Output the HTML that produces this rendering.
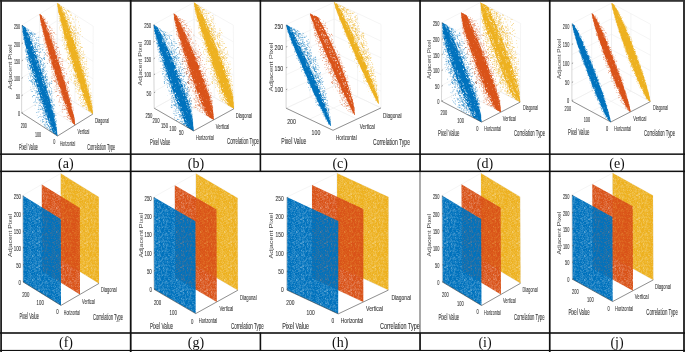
<!DOCTYPE html>
<html><head><meta charset="utf-8"><title>Correlation scatter plots</title>
<style>html,body{margin:0;padding:0;background:#fff;width:685px;height:352px;overflow:hidden}svg{display:block}.t{fill:#333;stroke:#333;stroke-width:0.1px}.t2{fill:#444}.tg{will-change:transform}</style>
</head><body>
<svg width="685" height="352" viewBox="0 0 685 352" font-family="Liberation Sans, sans-serif">
<defs><pattern id="ptX" width="24" height="24" patternUnits="userSpaceOnUse"><path d="M22.9 4.6h.8v.8h-.8zM5.0 8.0h.8v.8h-.8zM19.9 6.7h.8v.8h-.8zM3.6 11.0h.8v.8h-.8zM12.3 16.2h.8v.8h-.8zM3.3 16.4h.8v.8h-.8zM16.5 12.6h.8v.8h-.8zM20.2 11.1h.8v.8h-.8zM10.2 12.2h.8v.8h-.8zM23.0 7.8h.8v.8h-.8zM19.8 4.1h.8v.8h-.8zM8.1 7.2h.8v.8h-.8zM13.8 15.6h.8v.8h-.8zM18.1 1.6h.8v.8h-.8zM19.9 15.2h.8v.8h-.8zM22.4 6.7h.8v.8h-.8zM3.5 4.5h.8v.8h-.8zM17.9 11.7h.8v.8h-.8zM3.3 8.5h.8v.8h-.8zM21.8 2.3h.8v.8h-.8zM5.4 17.0h.8v.8h-.8zM20.5 19.0h.8v.8h-.8zM7.4 1.1h.8v.8h-.8zM23.3 15.0h.8v.8h-.8zM12.4 6.0h.8v.8h-.8zM7.7 10.3h.8v.8h-.8zM6.8 19.0h.8v.8h-.8zM14.5 12.8h.8v.8h-.8zM8.0 0.3h.8v.8h-.8zM16.3 0.5h.8v.8h-.8zM3.7 9.4h.8v.8h-.8zM6.0 21.5h.8v.8h-.8zM20.9 5.6h.8v.8h-.8zM14.4 10.7h.8v.8h-.8zM6.3 3.5h.8v.8h-.8zM3.6 19.4h.8v.8h-.8zM3.3 9.2h.8v.8h-.8zM6.0 8.6h.8v.8h-.8zM9.2 6.2h.8v.8h-.8zM15.6 20.1h.8v.8h-.8zM20.1 10.5h.8v.8h-.8zM18.6 1.2h.8v.8h-.8zM8.1 19.3h.8v.8h-.8zM3.6 6.1h.8v.8h-.8zM11.0 4.4h.8v.8h-.8zM10.5 5.6h.8v.8h-.8zM13.8 13.0h.8v.8h-.8zM9.0 23.1h.8v.8h-.8zM15.2 6.8h.8v.8h-.8zM2.8 11.0h.8v.8h-.8zM5.6 14.7h.8v.8h-.8zM18.4 23.4h.8v.8h-.8zM23.7 22.9h.8v.8h-.8zM19.4 9.6h.8v.8h-.8zM20.2 8.9h.8v.8h-.8zM19.1 10.3h.8v.8h-.8zM11.0 2.7h.8v.8h-.8zM17.7 19.9h.8v.8h-.8zM13.9 21.3h.8v.8h-.8zM10.8 9.0h.8v.8h-.8zM6.5 17.4h.8v.8h-.8zM20.8 17.8h.8v.8h-.8zM1.6 10.6h.8v.8h-.8zM19.6 20.5h.8v.8h-.8zM21.2 23.5h.8v.8h-.8zM10.2 23.0h.8v.8h-.8zM20.0 10.4h.8v.8h-.8zM8.2 4.4h.8v.8h-.8zM12.5 18.9h.8v.8h-.8zM13.2 22.7h.8v.8h-.8z" fill="#aaa"/></pattern><mask id="mX" maskUnits="userSpaceOnUse" x="0" y="0" width="685" height="352"><rect width="685" height="352" fill="url(#ptX)"/></mask><pattern id="ptH" width="24" height="24" patternUnits="userSpaceOnUse"><path d="M3.1 13.2h.8v.8h-.8zM12.0 0.7h.8v.8h-.8zM14.4 3.7h.8v.8h-.8zM0.7 19.2h.8v.8h-.8zM3.6 18.8h.8v.8h-.8zM22.3 15.3h.8v.8h-.8zM1.7 21.6h.8v.8h-.8zM3.1 18.1h.8v.8h-.8zM22.8 7.2h.8v.8h-.8zM14.9 15.5h.8v.8h-.8zM8.9 8.2h.8v.8h-.8zM12.3 18.0h.8v.8h-.8zM15.9 9.2h.8v.8h-.8zM6.6 3.7h.8v.8h-.8zM3.3 21.0h.8v.8h-.8zM18.9 16.6h.8v.8h-.8zM16.1 17.9h.8v.8h-.8zM12.3 13.4h.8v.8h-.8zM19.6 18.8h.8v.8h-.8zM13.2 10.7h.8v.8h-.8zM23.5 13.6h.8v.8h-.8zM4.9 1.5h.8v.8h-.8zM13.3 13.3h.8v.8h-.8zM11.6 19.6h.8v.8h-.8zM8.5 16.9h.8v.8h-.8zM14.2 19.3h.8v.8h-.8zM5.6 11.9h.8v.8h-.8zM19.3 21.2h.8v.8h-.8zM20.8 2.6h.8v.8h-.8zM3.1 21.0h.8v.8h-.8zM11.2 8.9h.8v.8h-.8zM6.7 2.2h.8v.8h-.8zM2.0 14.9h.8v.8h-.8zM21.5 10.9h.8v.8h-.8zM10.3 10.3h.8v.8h-.8zM3.5 20.4h.8v.8h-.8zM16.2 3.3h.8v.8h-.8zM4.9 14.8h.8v.8h-.8zM21.6 9.9h.8v.8h-.8zM5.2 12.7h.8v.8h-.8zM0.8 12.0h.8v.8h-.8zM4.8 3.2h.8v.8h-.8zM8.3 12.3h.8v.8h-.8zM11.3 20.7h.8v.8h-.8zM21.7 4.1h.8v.8h-.8zM16.7 0.3h.8v.8h-.8zM8.1 1.6h.8v.8h-.8zM0.4 11.0h.8v.8h-.8zM3.8 23.4h.8v.8h-.8zM23.9 1.1h.8v.8h-.8zM11.0 23.8h.8v.8h-.8zM16.6 12.9h.8v.8h-.8zM1.3 2.9h.8v.8h-.8zM0.8 10.0h.8v.8h-.8zM20.3 5.0h.8v.8h-.8zM14.1 17.1h.8v.8h-.8zM7.4 13.0h.8v.8h-.8zM7.6 6.9h.8v.8h-.8zM2.1 6.1h.8v.8h-.8zM4.1 20.8h.8v.8h-.8zM0.6 18.4h.8v.8h-.8zM20.1 10.5h.8v.8h-.8zM11.2 9.7h.8v.8h-.8zM3.1 17.7h.8v.8h-.8zM17.7 23.3h.8v.8h-.8zM4.7 1.9h.8v.8h-.8zM1.5 3.8h.8v.8h-.8zM14.4 8.7h.8v.8h-.8zM21.5 12.2h.8v.8h-.8zM0.6 1.7h.8v.8h-.8zM19.3 1.3h.8v.8h-.8zM4.6 5.3h.8v.8h-.8zM2.2 9.3h.8v.8h-.8zM0.4 17.7h.8v.8h-.8zM7.0 14.6h.8v.8h-.8zM17.5 0.7h.8v.8h-.8zM11.8 1.1h.8v.8h-.8zM20.5 10.8h.8v.8h-.8zM5.2 21.0h.8v.8h-.8zM7.6 22.0h.8v.8h-.8zM6.2 8.8h.8v.8h-.8zM23.5 21.3h.8v.8h-.8zM22.6 22.3h.8v.8h-.8zM8.2 9.8h.8v.8h-.8zM10.5 17.9h.8v.8h-.8zM7.5 8.8h.8v.8h-.8zM17.9 3.7h.8v.8h-.8zM1.0 13.8h.8v.8h-.8zM1.6 2.1h.8v.8h-.8zM9.7 15.9h.8v.8h-.8zM5.9 19.4h.8v.8h-.8zM20.3 22.0h.8v.8h-.8zM17.8 10.8h.8v.8h-.8zM13.1 2.8h.8v.8h-.8zM15.9 21.7h.8v.8h-.8zM16.6 20.9h.8v.8h-.8zM18.7 23.2h.8v.8h-.8zM22.3 14.3h.8v.8h-.8zM3.6 16.2h.8v.8h-.8zM15.0 9.0h.8v.8h-.8zM3.4 4.4h.8v.8h-.8zM10.6 7.0h.8v.8h-.8zM18.9 17.3h.8v.8h-.8zM21.5 7.8h.8v.8h-.8zM18.2 16.6h.8v.8h-.8zM0.8 12.1h.8v.8h-.8zM8.6 10.8h.8v.8h-.8zM3.9 23.2h.8v.8h-.8zM24.0 4.0h.8v.8h-.8zM3.5 11.7h.8v.8h-.8zM5.9 3.8h.8v.8h-.8zM8.6 22.5h.8v.8h-.8zM1.5 11.7h.8v.8h-.8zM20.9 8.0h.8v.8h-.8zM15.3 4.0h.8v.8h-.8zM3.8 14.3h.8v.8h-.8zM12.0 9.6h.8v.8h-.8zM1.9 3.1h.8v.8h-.8zM14.7 0.8h.8v.8h-.8zM5.6 9.4h.8v.8h-.8zM0.9 14.0h.8v.8h-.8zM2.8 12.5h.8v.8h-.8zM13.3 21.6h.8v.8h-.8zM15.3 21.9h.8v.8h-.8zM7.8 22.5h.8v.8h-.8zM15.4 19.2h.8v.8h-.8zM8.4 11.5h.8v.8h-.8zM3.1 12.6h.8v.8h-.8zM7.6 9.5h.8v.8h-.8zM9.5 9.6h.8v.8h-.8zM21.9 1.0h.8v.8h-.8zM2.8 19.2h.8v.8h-.8zM2.1 5.9h.8v.8h-.8zM13.5 0.7h.8v.8h-.8zM23.1 11.2h.8v.8h-.8zM21.8 17.2h.8v.8h-.8zM16.8 10.5h.8v.8h-.8zM1.6 8.7h.8v.8h-.8zM19.4 15.8h.8v.8h-.8zM16.4 3.9h.8v.8h-.8zM3.5 0.3h.8v.8h-.8zM11.2 14.2h.8v.8h-.8zM1.2 12.7h.8v.8h-.8zM19.2 20.8h.8v.8h-.8zM17.2 10.0h.8v.8h-.8zM19.3 18.9h.8v.8h-.8zM18.2 0.4h.8v.8h-.8zM6.4 0.7h.8v.8h-.8zM19.0 14.4h.8v.8h-.8zM6.0 5.4h.8v.8h-.8zM3.3 1.6h.8v.8h-.8zM9.4 3.1h.8v.8h-.8zM11.9 9.0h.8v.8h-.8zM6.9 8.1h.8v.8h-.8zM14.5 13.5h.8v.8h-.8zM14.5 21.3h.8v.8h-.8zM5.8 8.8h.8v.8h-.8zM14.9 4.4h.8v.8h-.8zM8.6 13.9h.8v.8h-.8zM17.6 0.1h.8v.8h-.8zM7.0 9.2h.8v.8h-.8zM19.2 7.6h.8v.8h-.8zM10.0 9.3h.8v.8h-.8zM13.3 1.2h.8v.8h-.8zM16.2 13.3h.8v.8h-.8zM12.4 15.0h.8v.8h-.8zM6.2 18.0h.8v.8h-.8zM23.5 23.0h.8v.8h-.8zM2.3 8.5h.8v.8h-.8zM7.8 15.8h.8v.8h-.8z" fill="#999"/></pattern><mask id="mH" maskUnits="userSpaceOnUse" x="0" y="0" width="685" height="352"><rect width="685" height="352" fill="url(#ptH)"/></mask><pattern id="ptM" width="24" height="24" patternUnits="userSpaceOnUse"><path d="M6.0 5.7h.8v.8h-.8zM22.7 23.6h.8v.8h-.8zM4.5 11.6h.8v.8h-.8zM4.3 9.9h.8v.8h-.8zM8.4 22.4h.8v.8h-.8zM5.5 17.3h.8v.8h-.8zM16.1 17.9h.8v.8h-.8zM2.8 19.3h.8v.8h-.8zM21.5 20.0h.8v.8h-.8zM20.6 16.4h.8v.8h-.8zM0.1 23.9h.8v.8h-.8zM13.0 19.0h.8v.8h-.8zM2.6 19.9h.8v.8h-.8zM6.2 19.9h.8v.8h-.8zM10.0 1.1h.8v.8h-.8zM10.9 23.8h.8v.8h-.8zM11.2 18.3h.8v.8h-.8zM22.3 2.0h.8v.8h-.8zM6.2 17.3h.8v.8h-.8zM4.5 17.0h.8v.8h-.8zM16.1 12.0h.8v.8h-.8zM22.7 7.3h.8v.8h-.8zM22.1 12.9h.8v.8h-.8zM21.1 3.9h.8v.8h-.8zM1.5 9.5h.8v.8h-.8zM22.5 15.0h.8v.8h-.8zM15.6 17.2h.8v.8h-.8zM20.9 13.0h.8v.8h-.8zM9.8 21.3h.8v.8h-.8zM5.3 21.4h.8v.8h-.8zM19.0 21.8h.8v.8h-.8zM15.9 14.2h.8v.8h-.8zM18.7 6.0h.8v.8h-.8zM4.8 1.1h.8v.8h-.8zM3.2 13.9h.8v.8h-.8zM18.3 12.4h.8v.8h-.8zM0.5 0.0h.8v.8h-.8zM22.7 3.4h.8v.8h-.8zM3.2 23.2h.8v.8h-.8zM14.4 18.0h.8v.8h-.8zM10.1 21.7h.8v.8h-.8zM7.8 7.8h.8v.8h-.8zM4.1 10.4h.8v.8h-.8zM18.7 14.0h.8v.8h-.8zM21.9 9.7h.8v.8h-.8zM17.5 0.8h.8v.8h-.8zM14.4 11.3h.8v.8h-.8zM17.1 16.0h.8v.8h-.8zM12.9 8.6h.8v.8h-.8zM13.4 22.2h.8v.8h-.8zM21.7 22.4h.8v.8h-.8zM6.8 0.7h.8v.8h-.8zM5.3 10.0h.8v.8h-.8zM22.7 14.5h.8v.8h-.8zM22.6 9.8h.8v.8h-.8zM11.4 23.5h.8v.8h-.8zM19.2 7.2h.8v.8h-.8zM17.8 21.5h.8v.8h-.8zM22.8 8.3h.8v.8h-.8zM2.0 21.3h.8v.8h-.8zM21.6 2.4h.8v.8h-.8zM12.0 20.4h.8v.8h-.8zM10.8 20.2h.8v.8h-.8zM16.5 13.5h.8v.8h-.8zM14.8 7.3h.8v.8h-.8zM10.5 9.4h.8v.8h-.8zM7.0 3.1h.8v.8h-.8zM22.0 6.7h.8v.8h-.8zM19.7 12.4h.8v.8h-.8zM2.5 12.5h.8v.8h-.8zM9.7 11.3h.8v.8h-.8zM18.3 20.9h.8v.8h-.8zM21.1 5.1h.8v.8h-.8zM23.1 18.8h.8v.8h-.8zM5.8 20.7h.8v.8h-.8zM21.4 8.5h.8v.8h-.8zM16.7 1.4h.8v.8h-.8zM1.6 19.7h.8v.8h-.8zM5.1 17.5h.8v.8h-.8zM4.5 11.6h.8v.8h-.8zM1.9 22.2h.8v.8h-.8zM16.5 6.2h.8v.8h-.8zM7.4 17.4h.8v.8h-.8zM16.6 15.6h.8v.8h-.8zM2.0 9.3h.8v.8h-.8zM20.9 18.7h.8v.8h-.8zM16.7 2.6h.8v.8h-.8zM18.8 7.4h.8v.8h-.8zM14.6 11.9h.8v.8h-.8zM11.0 23.2h.8v.8h-.8zM4.6 18.3h.8v.8h-.8zM22.6 1.3h.8v.8h-.8zM3.5 15.0h.8v.8h-.8zM12.5 3.3h.8v.8h-.8zM2.9 9.4h.8v.8h-.8zM2.6 23.1h.8v.8h-.8zM16.7 6.6h.8v.8h-.8zM21.3 2.5h.8v.8h-.8zM11.1 22.3h.8v.8h-.8zM19.1 5.1h.8v.8h-.8zM20.6 14.1h.8v.8h-.8zM12.9 6.3h.8v.8h-.8zM18.6 22.7h.8v.8h-.8zM7.0 18.0h.8v.8h-.8zM3.6 19.2h.8v.8h-.8zM4.5 2.4h.8v.8h-.8zM0.2 8.7h.8v.8h-.8zM1.7 20.5h.8v.8h-.8zM18.0 7.1h.8v.8h-.8zM21.7 2.6h.8v.8h-.8zM1.4 20.5h.8v.8h-.8zM17.3 6.5h.8v.8h-.8zM18.7 14.2h.8v.8h-.8zM16.3 4.6h.8v.8h-.8zM12.0 2.9h.8v.8h-.8zM11.7 11.8h.8v.8h-.8zM16.7 15.3h.8v.8h-.8zM5.9 18.5h.8v.8h-.8zM18.1 22.4h.8v.8h-.8zM4.6 12.5h.8v.8h-.8zM0.8 16.5h.8v.8h-.8zM22.4 7.5h.8v.8h-.8zM2.2 21.4h.8v.8h-.8zM4.7 8.3h.8v.8h-.8zM1.3 0.9h.8v.8h-.8zM0.2 5.1h.8v.8h-.8zM3.0 3.5h.8v.8h-.8zM22.1 15.4h.8v.8h-.8zM16.7 3.8h.8v.8h-.8zM9.7 10.9h.8v.8h-.8zM0.2 7.9h.8v.8h-.8zM19.9 19.1h.8v.8h-.8zM11.6 7.0h.8v.8h-.8zM20.5 5.7h.8v.8h-.8zM12.1 6.9h.8v.8h-.8zM1.9 4.6h.8v.8h-.8zM1.8 15.7h.8v.8h-.8zM19.0 12.5h.8v.8h-.8zM5.3 16.7h.8v.8h-.8zM3.6 2.8h.8v.8h-.8zM9.8 19.2h.8v.8h-.8zM6.3 13.0h.8v.8h-.8zM6.6 23.4h.8v.8h-.8zM19.0 23.7h.8v.8h-.8zM11.3 0.4h.8v.8h-.8zM23.9 14.4h.8v.8h-.8zM2.4 6.1h.8v.8h-.8zM7.1 16.7h.8v.8h-.8zM21.2 3.3h.8v.8h-.8zM10.4 13.6h.8v.8h-.8zM18.5 18.3h.8v.8h-.8zM10.4 13.7h.8v.8h-.8zM9.7 7.3h.8v.8h-.8zM21.3 17.9h.8v.8h-.8zM7.5 22.4h.8v.8h-.8zM13.1 6.6h.8v.8h-.8zM13.5 2.6h.8v.8h-.8zM1.0 9.5h.8v.8h-.8zM2.4 9.8h.8v.8h-.8zM5.7 9.4h.8v.8h-.8zM0.1 22.8h.8v.8h-.8zM16.4 5.8h.8v.8h-.8zM13.9 1.4h.8v.8h-.8zM8.2 0.4h.8v.8h-.8zM10.1 11.6h.8v.8h-.8zM1.0 6.5h.8v.8h-.8zM9.6 11.7h.8v.8h-.8zM20.2 16.6h.8v.8h-.8zM0.9 7.7h.8v.8h-.8zM15.7 3.1h.8v.8h-.8zM16.6 21.9h.8v.8h-.8zM5.3 4.4h.8v.8h-.8zM7.1 7.5h.8v.8h-.8zM4.3 0.5h.8v.8h-.8zM13.6 14.7h.8v.8h-.8zM8.9 5.7h.8v.8h-.8zM3.1 17.9h.8v.8h-.8zM6.9 10.3h.8v.8h-.8zM5.9 19.8h.8v.8h-.8zM23.7 8.0h.8v.8h-.8zM14.6 18.7h.8v.8h-.8zM11.5 1.7h.8v.8h-.8zM11.7 8.5h.8v.8h-.8zM13.8 7.7h.8v.8h-.8zM23.5 9.8h.8v.8h-.8zM9.2 5.2h.8v.8h-.8zM1.4 7.0h.8v.8h-.8zM4.4 23.3h.8v.8h-.8zM0.2 2.0h.8v.8h-.8zM4.8 11.9h.8v.8h-.8zM14.5 21.7h.8v.8h-.8zM6.2 11.1h.8v.8h-.8zM20.1 10.7h.8v.8h-.8zM22.8 12.5h.8v.8h-.8zM2.9 3.2h.8v.8h-.8zM19.3 4.8h.8v.8h-.8zM15.9 16.8h.8v.8h-.8zM23.8 14.4h.8v.8h-.8zM4.5 5.5h.8v.8h-.8zM18.4 11.5h.8v.8h-.8zM8.0 23.7h.8v.8h-.8zM4.8 4.9h.8v.8h-.8zM6.2 19.2h.8v.8h-.8zM22.5 22.5h.8v.8h-.8zM11.5 13.0h.8v.8h-.8zM10.4 3.9h.8v.8h-.8zM20.9 11.3h.8v.8h-.8zM20.6 18.8h.8v.8h-.8zM21.5 15.8h.8v.8h-.8zM0.5 20.2h.8v.8h-.8zM23.9 12.1h.8v.8h-.8zM16.5 0.2h.8v.8h-.8zM21.7 0.8h.8v.8h-.8zM19.3 19.2h.8v.8h-.8zM21.6 12.9h.8v.8h-.8zM21.3 21.8h.8v.8h-.8zM15.5 20.3h.8v.8h-.8zM3.1 15.4h.8v.8h-.8zM16.3 14.2h.8v.8h-.8zM0.9 18.6h.8v.8h-.8zM8.4 4.1h.8v.8h-.8zM6.8 8.9h.8v.8h-.8zM7.1 15.4h.8v.8h-.8zM19.3 12.5h.8v.8h-.8zM21.2 4.0h.8v.8h-.8zM21.6 7.8h.8v.8h-.8zM14.9 3.3h.8v.8h-.8zM18.5 20.0h.8v.8h-.8zM3.0 4.4h.8v.8h-.8zM8.3 15.6h.8v.8h-.8zM18.9 4.1h.8v.8h-.8zM10.9 3.1h.8v.8h-.8zM11.9 1.0h.8v.8h-.8zM18.8 8.6h.8v.8h-.8zM5.4 20.1h.8v.8h-.8zM20.8 21.8h.8v.8h-.8zM17.8 12.9h.8v.8h-.8zM1.8 20.7h.8v.8h-.8zM10.2 15.7h.8v.8h-.8zM22.0 23.0h.8v.8h-.8zM6.5 5.0h.8v.8h-.8zM0.3 6.1h.8v.8h-.8zM4.1 6.5h.8v.8h-.8zM13.0 19.7h.8v.8h-.8zM2.4 22.5h.8v.8h-.8zM1.3 18.6h.8v.8h-.8zM3.3 23.1h.8v.8h-.8zM19.8 0.2h.8v.8h-.8zM23.2 3.9h.8v.8h-.8zM3.2 3.7h.8v.8h-.8zM13.4 7.9h.8v.8h-.8zM16.3 8.8h.8v.8h-.8zM1.7 9.6h.8v.8h-.8zM21.1 3.8h.8v.8h-.8zM17.9 12.6h.8v.8h-.8zM16.3 15.8h.8v.8h-.8zM11.5 19.5h.8v.8h-.8zM19.0 3.6h.8v.8h-.8zM19.8 23.6h.8v.8h-.8zM6.9 6.2h.8v.8h-.8z" fill="#ccc"/></pattern><mask id="mM" maskUnits="userSpaceOnUse" x="0" y="0" width="685" height="352"><rect width="685" height="352" fill="url(#ptM)"/></mask><pattern id="ptI" width="24" height="24" patternUnits="userSpaceOnUse"><rect width="24" height="24" fill="#fff"/><path d="M20.8 12.0h.8v.8h-.8zM20.5 13.0h.8v.8h-.8zM19.5 9.3h.8v.8h-.8zM6.3 11.8h.8v.8h-.8zM1.9 13.7h.8v.8h-.8zM22.7 12.5h.8v.8h-.8zM14.7 4.3h.8v.8h-.8zM0.1 5.3h.8v.8h-.8zM21.8 6.4h.8v.8h-.8zM23.6 24.0h.8v.8h-.8zM6.9 12.0h.8v.8h-.8zM19.5 17.0h.8v.8h-.8zM2.0 4.9h.8v.8h-.8zM10.5 12.5h.8v.8h-.8zM19.6 10.5h.8v.8h-.8zM9.8 4.9h.8v.8h-.8zM12.4 5.3h.8v.8h-.8zM2.8 5.8h.8v.8h-.8zM19.5 17.7h.8v.8h-.8zM11.9 17.9h.8v.8h-.8zM6.0 20.8h.8v.8h-.8zM18.6 8.1h.8v.8h-.8zM23.5 12.5h.8v.8h-.8zM12.9 17.4h.8v.8h-.8zM17.7 13.5h.8v.8h-.8zM23.8 20.7h.8v.8h-.8zM0.7 0.5h.8v.8h-.8zM14.4 16.7h.8v.8h-.8zM23.2 3.1h.8v.8h-.8zM2.8 12.4h.8v.8h-.8zM5.4 9.4h.8v.8h-.8zM13.2 10.9h.8v.8h-.8zM17.3 18.4h.8v.8h-.8zM13.3 2.2h.8v.8h-.8zM13.1 1.2h.8v.8h-.8zM1.2 22.5h.8v.8h-.8zM17.7 11.7h.8v.8h-.8zM7.7 9.9h.8v.8h-.8zM1.8 3.7h.8v.8h-.8zM23.0 12.1h.8v.8h-.8zM15.8 16.0h.8v.8h-.8zM10.9 21.5h.8v.8h-.8zM17.6 9.4h.8v.8h-.8zM11.5 3.1h.8v.8h-.8zM3.0 18.2h.8v.8h-.8zM14.5 7.3h.8v.8h-.8zM17.9 17.1h.8v.8h-.8zM17.9 19.2h.8v.8h-.8zM13.2 23.1h.8v.8h-.8zM22.3 4.1h.8v.8h-.8zM22.7 6.3h.8v.8h-.8zM21.0 9.3h.8v.8h-.8zM8.9 19.6h.8v.8h-.8zM6.4 10.5h.8v.8h-.8zM12.7 10.4h.8v.8h-.8zM15.7 20.1h.8v.8h-.8zM3.9 2.9h.8v.8h-.8zM13.4 2.6h.8v.8h-.8zM10.5 2.2h.8v.8h-.8zM0.0 12.2h.8v.8h-.8zM10.1 5.1h.8v.8h-.8zM9.6 8.6h.8v.8h-.8zM23.1 11.8h.8v.8h-.8zM1.3 12.7h.8v.8h-.8zM22.3 9.4h.8v.8h-.8zM21.8 3.3h.8v.8h-.8zM14.4 19.6h.8v.8h-.8zM4.5 20.8h.8v.8h-.8zM19.0 13.6h.8v.8h-.8zM3.9 6.9h.8v.8h-.8zM7.7 24.0h.8v.8h-.8zM16.0 2.9h.8v.8h-.8zM10.2 21.2h.8v.8h-.8zM11.1 15.1h.8v.8h-.8zM7.3 6.2h.8v.8h-.8zM0.9 14.2h.8v.8h-.8zM8.7 13.3h.8v.8h-.8zM19.8 0.2h.8v.8h-.8zM19.9 11.2h.8v.8h-.8zM1.9 18.6h.8v.8h-.8zM13.3 15.3h.8v.8h-.8zM8.5 3.1h.8v.8h-.8zM9.6 5.1h.8v.8h-.8zM23.7 16.7h.8v.8h-.8zM19.4 0.7h.8v.8h-.8zM12.2 16.6h.8v.8h-.8zM12.2 12.8h.8v.8h-.8zM22.0 9.2h.8v.8h-.8zM9.0 10.1h.8v.8h-.8zM18.8 11.5h.8v.8h-.8zM17.5 2.4h.8v.8h-.8zM17.7 22.3h.8v.8h-.8zM10.9 10.1h.8v.8h-.8zM16.4 15.9h.8v.8h-.8zM20.1 2.5h.8v.8h-.8zM7.1 21.1h.8v.8h-.8zM18.3 16.7h.8v.8h-.8zM11.6 6.1h.8v.8h-.8zM12.8 21.7h.8v.8h-.8zM11.2 21.1h.8v.8h-.8zM9.0 11.1h.8v.8h-.8zM18.1 6.7h.8v.8h-.8zM9.4 19.8h.8v.8h-.8zM4.4 0.1h.8v.8h-.8zM18.9 22.8h.8v.8h-.8zM9.6 23.1h.8v.8h-.8zM13.9 2.0h.8v.8h-.8zM23.6 22.6h.8v.8h-.8zM15.5 6.8h.8v.8h-.8zM12.6 19.5h.8v.8h-.8zM6.8 20.8h.8v.8h-.8zM17.0 4.3h.8v.8h-.8zM23.0 8.2h.8v.8h-.8zM17.0 23.0h.8v.8h-.8zM18.5 18.8h.8v.8h-.8zM7.6 16.9h.8v.8h-.8zM7.5 5.6h.8v.8h-.8zM8.6 17.6h.8v.8h-.8zM11.5 0.9h.8v.8h-.8zM21.4 6.3h.8v.8h-.8zM11.2 6.0h.8v.8h-.8zM4.2 1.4h.8v.8h-.8zM12.8 11.3h.8v.8h-.8zM6.2 0.8h.8v.8h-.8zM15.3 23.6h.8v.8h-.8zM8.1 11.7h.8v.8h-.8zM22.8 18.5h.8v.8h-.8zM10.5 12.7h.8v.8h-.8zM14.0 3.0h.8v.8h-.8zM14.0 10.8h.8v.8h-.8zM9.9 0.2h.8v.8h-.8zM23.5 7.2h.8v.8h-.8zM1.0 15.2h.8v.8h-.8zM17.8 4.3h.8v.8h-.8zM6.3 22.0h.8v.8h-.8zM1.5 15.2h.8v.8h-.8zM4.3 0.6h.8v.8h-.8zM18.0 10.3h.8v.8h-.8zM21.8 21.5h.8v.8h-.8zM18.6 6.1h.8v.8h-.8zM6.8 2.9h.8v.8h-.8zM11.9 6.6h.8v.8h-.8zM2.8 11.6h.8v.8h-.8zM10.1 9.5h.8v.8h-.8zM6.2 5.8h.8v.8h-.8zM0.8 11.2h.8v.8h-.8zM7.0 11.6h.8v.8h-.8zM22.3 16.8h.8v.8h-.8zM12.7 23.9h.8v.8h-.8zM6.6 15.2h.8v.8h-.8zM2.7 1.9h.8v.8h-.8zM21.5 3.6h.8v.8h-.8zM2.2 7.2h.8v.8h-.8zM0.9 22.6h.8v.8h-.8zM2.7 1.5h.8v.8h-.8zM18.1 15.6h.8v.8h-.8zM22.4 9.7h.8v.8h-.8zM2.3 5.9h.8v.8h-.8zM15.3 15.4h.8v.8h-.8zM15.6 18.2h.8v.8h-.8zM12.6 18.5h.8v.8h-.8zM0.1 5.2h.8v.8h-.8zM16.6 4.6h.8v.8h-.8zM10.3 4.6h.8v.8h-.8zM22.4 5.3h.8v.8h-.8zM23.9 5.2h.8v.8h-.8zM15.3 12.5h.8v.8h-.8zM2.8 7.6h.8v.8h-.8zM7.6 14.9h.8v.8h-.8zM15.1 23.3h.8v.8h-.8zM20.9 19.0h.8v.8h-.8zM10.1 2.2h.8v.8h-.8zM8.7 22.7h.8v.8h-.8zM14.6 9.3h.8v.8h-.8zM20.5 4.3h.8v.8h-.8zM4.7 5.9h.8v.8h-.8zM14.3 1.3h.8v.8h-.8zM14.8 6.8h.8v.8h-.8zM11.4 11.3h.8v.8h-.8zM8.6 2.5h.8v.8h-.8zM22.8 23.2h.8v.8h-.8zM19.6 10.2h.8v.8h-.8zM3.7 12.9h.8v.8h-.8zM0.0 7.6h.8v.8h-.8zM6.2 21.7h.8v.8h-.8zM10.1 20.5h.8v.8h-.8zM3.9 11.6h.8v.8h-.8zM8.1 0.0h.8v.8h-.8zM16.3 15.8h.8v.8h-.8zM17.7 8.0h.8v.8h-.8zM19.6 3.3h.8v.8h-.8zM19.5 11.1h.8v.8h-.8zM7.7 17.5h.8v.8h-.8zM12.8 15.9h.8v.8h-.8zM17.7 2.4h.8v.8h-.8zM14.7 21.9h.8v.8h-.8zM13.9 11.6h.8v.8h-.8zM19.5 21.8h.8v.8h-.8zM22.7 10.1h.8v.8h-.8zM21.5 21.8h.8v.8h-.8zM6.5 20.2h.8v.8h-.8zM2.9 0.9h.8v.8h-.8zM6.9 21.3h.8v.8h-.8zM19.2 16.3h.8v.8h-.8zM7.6 13.9h.8v.8h-.8zM17.8 0.1h.8v.8h-.8zM14.2 15.2h.8v.8h-.8zM23.8 15.4h.8v.8h-.8zM2.9 20.8h.8v.8h-.8zM19.9 9.4h.8v.8h-.8zM1.1 1.5h.8v.8h-.8zM15.3 17.7h.8v.8h-.8zM12.9 8.8h.8v.8h-.8zM5.9 7.9h.8v.8h-.8zM6.3 16.1h.8v.8h-.8zM9.3 1.0h.8v.8h-.8zM11.6 0.7h.8v.8h-.8zM3.8 23.4h.8v.8h-.8zM10.6 20.9h.8v.8h-.8zM2.1 19.2h.8v.8h-.8z" fill="#000"/></pattern><mask id="mI" maskUnits="userSpaceOnUse" x="0" y="0" width="685" height="352"><rect width="685" height="352" fill="url(#ptI)"/></mask><pattern id="ptC" width="24" height="24" patternUnits="userSpaceOnUse"><rect width="24" height="24" fill="#fff"/><path d="M19.9 11.2h.8v.8h-.8zM8.7 13.9h.8v.8h-.8zM16.9 24.0h.8v.8h-.8zM20.6 21.5h.8v.8h-.8zM15.4 3.5h.8v.8h-.8zM13.2 21.4h.8v.8h-.8zM18.3 4.9h.8v.8h-.8zM17.2 19.3h.8v.8h-.8zM11.2 16.1h.8v.8h-.8zM13.7 3.6h.8v.8h-.8zM17.9 1.3h.8v.8h-.8zM1.5 22.3h.8v.8h-.8zM15.5 0.1h.8v.8h-.8zM17.7 3.5h.8v.8h-.8zM9.6 23.4h.8v.8h-.8zM12.2 16.7h.8v.8h-.8zM5.5 13.5h.8v.8h-.8zM15.6 10.9h.8v.8h-.8zM23.3 13.7h.8v.8h-.8zM7.2 11.1h.8v.8h-.8zM11.1 1.6h.8v.8h-.8zM21.4 5.5h.8v.8h-.8zM13.2 7.5h.8v.8h-.8zM10.1 11.9h.8v.8h-.8zM16.0 9.4h.8v.8h-.8zM0.7 17.3h.8v.8h-.8zM3.7 19.3h.8v.8h-.8zM20.9 18.4h.8v.8h-.8zM3.8 11.1h.8v.8h-.8zM0.7 9.4h.8v.8h-.8zM22.2 0.6h.8v.8h-.8zM18.1 8.5h.8v.8h-.8zM23.5 18.9h.8v.8h-.8zM18.2 8.4h.8v.8h-.8zM22.1 6.9h.8v.8h-.8zM8.3 3.9h.8v.8h-.8zM18.1 15.2h.8v.8h-.8zM3.9 12.0h.8v.8h-.8zM19.8 1.1h.8v.8h-.8zM17.6 5.8h.8v.8h-.8zM4.6 1.8h.8v.8h-.8zM4.4 3.7h.8v.8h-.8zM4.0 6.2h.8v.8h-.8zM19.7 1.8h.8v.8h-.8zM15.9 23.7h.8v.8h-.8zM6.7 15.2h.8v.8h-.8zM15.7 2.8h.8v.8h-.8zM16.5 12.6h.8v.8h-.8zM16.5 9.5h.8v.8h-.8zM23.9 4.6h.8v.8h-.8zM20.3 9.9h.8v.8h-.8zM10.3 13.6h.8v.8h-.8zM1.1 2.4h.8v.8h-.8zM5.5 22.9h.8v.8h-.8zM1.8 11.9h.8v.8h-.8zM18.8 1.9h.8v.8h-.8zM19.0 16.5h.8v.8h-.8zM5.1 22.8h.8v.8h-.8zM22.8 0.4h.8v.8h-.8zM7.8 16.4h.8v.8h-.8z" fill="#000"/></pattern><mask id="mC" maskUnits="userSpaceOnUse" x="0" y="0" width="685" height="352"><rect width="685" height="352" fill="url(#ptC)"/></mask><pattern id="ptP" width="24" height="24" patternUnits="userSpaceOnUse"><rect width="24" height="24" fill="#fff"/><path d="M16.6 8.5h.6v.6h-.6zM19.6 4.1h.6v.6h-.6zM8.3 8.2h.6v.6h-.6zM1.1 2.4h.6v.6h-.6zM13.7 16.7h.6v.6h-.6zM3.5 14.1h.6v.6h-.6zM17.3 19.6h.6v.6h-.6zM8.3 16.4h.6v.6h-.6zM11.0 10.4h.6v.6h-.6zM23.4 21.1h.6v.6h-.6zM18.8 18.1h.6v.6h-.6zM20.3 11.4h.6v.6h-.6zM13.3 13.8h.6v.6h-.6zM22.6 17.3h.6v.6h-.6zM0.4 18.6h.6v.6h-.6zM21.3 4.5h.6v.6h-.6zM9.4 14.6h.6v.6h-.6zM5.6 3.9h.6v.6h-.6zM12.8 22.9h.6v.6h-.6zM22.7 21.8h.6v.6h-.6zM7.9 17.0h.6v.6h-.6zM21.8 0.6h.6v.6h-.6zM11.2 19.4h.6v.6h-.6zM23.2 4.1h.6v.6h-.6zM18.3 10.8h.6v.6h-.6zM18.8 10.0h.6v.6h-.6zM8.7 1.2h.6v.6h-.6zM14.1 14.5h.6v.6h-.6zM6.0 19.8h.6v.6h-.6zM19.2 3.6h.6v.6h-.6zM6.2 23.3h.6v.6h-.6zM16.1 21.1h.6v.6h-.6zM1.8 16.2h.6v.6h-.6zM5.9 3.1h.6v.6h-.6zM8.6 15.2h.6v.6h-.6zM4.1 9.7h.6v.6h-.6zM6.2 12.8h.6v.6h-.6zM4.8 21.8h.6v.6h-.6zM1.0 15.5h.6v.6h-.6zM8.2 2.8h.6v.6h-.6zM11.2 4.0h.6v.6h-.6zM10.0 7.2h.6v.6h-.6zM21.6 3.3h.6v.6h-.6zM2.1 16.8h.6v.6h-.6zM15.0 4.5h.6v.6h-.6zM8.4 15.7h.6v.6h-.6zM0.6 20.7h.6v.6h-.6zM18.6 1.8h.6v.6h-.6zM10.1 15.5h.6v.6h-.6zM23.4 11.6h.6v.6h-.6zM18.6 23.1h.6v.6h-.6zM20.9 10.3h.6v.6h-.6zM13.6 5.9h.6v.6h-.6zM8.1 16.2h.6v.6h-.6zM20.5 0.9h.6v.6h-.6zM9.9 18.9h.6v.6h-.6zM20.9 15.5h.6v.6h-.6zM21.9 6.1h.6v.6h-.6zM8.5 16.1h.6v.6h-.6zM17.4 12.0h.6v.6h-.6zM19.5 21.6h.6v.6h-.6zM23.9 19.9h.6v.6h-.6zM11.0 18.0h.6v.6h-.6zM4.8 19.0h.6v.6h-.6zM6.2 19.0h.6v.6h-.6zM9.2 18.6h.6v.6h-.6zM1.7 17.9h.6v.6h-.6zM16.6 13.2h.6v.6h-.6zM1.4 15.2h.6v.6h-.6zM11.2 20.0h.6v.6h-.6zM24.0 5.2h.6v.6h-.6zM9.7 22.2h.6v.6h-.6zM5.1 22.1h.6v.6h-.6zM9.8 14.6h.6v.6h-.6zM6.3 2.7h.6v.6h-.6zM4.8 8.7h.6v.6h-.6zM6.3 11.6h.6v.6h-.6zM7.4 14.2h.6v.6h-.6zM11.0 17.9h.6v.6h-.6zM6.8 21.7h.6v.6h-.6zM15.3 1.6h.6v.6h-.6zM20.6 13.3h.6v.6h-.6zM0.6 5.4h.6v.6h-.6zM11.2 20.1h.6v.6h-.6zM14.8 21.5h.6v.6h-.6zM11.4 23.1h.6v.6h-.6zM15.9 21.3h.6v.6h-.6zM4.9 1.4h.6v.6h-.6zM22.4 5.3h.6v.6h-.6zM23.9 3.7h.6v.6h-.6zM19.9 9.7h.6v.6h-.6zM14.0 8.9h.6v.6h-.6zM20.0 6.8h.6v.6h-.6zM16.1 16.2h.6v.6h-.6zM20.8 19.2h.6v.6h-.6zM12.0 23.5h.6v.6h-.6zM6.8 1.1h.6v.6h-.6zM13.4 10.8h.6v.6h-.6zM11.9 7.7h.6v.6h-.6zM5.0 21.7h.6v.6h-.6zM16.2 1.2h.6v.6h-.6zM17.5 21.0h.6v.6h-.6zM6.3 0.9h.6v.6h-.6zM3.9 2.5h.6v.6h-.6zM14.0 5.8h.6v.6h-.6zM11.0 12.8h.6v.6h-.6zM17.4 7.3h.6v.6h-.6zM17.9 18.6h.6v.6h-.6zM0.5 0.9h.6v.6h-.6zM5.1 12.9h.6v.6h-.6zM20.8 13.4h.6v.6h-.6zM16.1 14.8h.6v.6h-.6zM19.0 6.8h.6v.6h-.6zM17.9 11.1h.6v.6h-.6zM14.3 12.7h.6v.6h-.6zM7.8 2.2h.6v.6h-.6zM6.9 11.3h.6v.6h-.6zM14.9 10.0h.6v.6h-.6zM14.8 2.1h.6v.6h-.6zM22.0 10.5h.6v.6h-.6zM15.0 14.0h.6v.6h-.6zM13.6 3.8h.6v.6h-.6zM0.4 4.2h.6v.6h-.6zM15.8 5.1h.6v.6h-.6zM21.1 16.7h.6v.6h-.6zM15.4 6.3h.6v.6h-.6zM12.5 12.0h.6v.6h-.6zM8.1 0.2h.6v.6h-.6zM23.8 9.1h.6v.6h-.6zM7.0 8.5h.6v.6h-.6zM18.7 16.7h.6v.6h-.6zM11.9 20.8h.6v.6h-.6zM13.6 17.7h.6v.6h-.6zM0.6 5.8h.6v.6h-.6zM19.3 3.9h.6v.6h-.6zM10.8 6.0h.6v.6h-.6zM22.5 1.7h.6v.6h-.6zM23.0 19.1h.6v.6h-.6zM21.7 0.1h.6v.6h-.6zM16.4 14.4h.6v.6h-.6zM4.3 2.5h.6v.6h-.6zM4.8 2.0h.6v.6h-.6zM9.1 9.9h.6v.6h-.6zM4.2 18.8h.6v.6h-.6zM22.7 9.4h.6v.6h-.6zM10.6 17.6h.6v.6h-.6zM17.0 7.9h.6v.6h-.6zM3.9 17.9h.6v.6h-.6zM13.8 7.0h.6v.6h-.6zM2.3 16.8h.6v.6h-.6zM6.1 23.9h.6v.6h-.6zM19.6 9.9h.6v.6h-.6zM10.4 1.6h.6v.6h-.6zM19.4 16.5h.6v.6h-.6zM12.4 21.8h.6v.6h-.6zM12.0 0.0h.6v.6h-.6zM10.9 22.5h.6v.6h-.6zM9.0 5.2h.6v.6h-.6zM13.0 13.8h.6v.6h-.6zM6.9 22.3h.6v.6h-.6zM20.2 5.1h.6v.6h-.6zM5.8 12.2h.6v.6h-.6zM17.5 9.8h.6v.6h-.6zM9.0 8.1h.6v.6h-.6zM13.1 10.7h.6v.6h-.6zM3.6 10.1h.6v.6h-.6zM22.3 18.8h.6v.6h-.6zM8.0 15.3h.6v.6h-.6zM23.1 21.6h.6v.6h-.6zM4.0 7.5h.6v.6h-.6zM7.8 12.3h.6v.6h-.6zM15.1 13.4h.6v.6h-.6zM13.4 9.9h.6v.6h-.6zM20.6 19.6h.6v.6h-.6zM1.6 17.7h.6v.6h-.6zM10.6 1.0h.6v.6h-.6zM13.1 15.3h.6v.6h-.6zM12.7 3.3h.6v.6h-.6zM13.4 3.2h.6v.6h-.6zM9.5 17.7h.6v.6h-.6zM23.7 11.9h.6v.6h-.6zM4.6 6.4h.6v.6h-.6zM7.6 23.8h.6v.6h-.6zM10.8 21.0h.6v.6h-.6zM23.1 19.0h.6v.6h-.6zM6.0 8.9h.6v.6h-.6zM5.5 2.7h.6v.6h-.6zM12.8 10.0h.6v.6h-.6zM12.7 21.2h.6v.6h-.6zM11.5 6.7h.6v.6h-.6zM12.6 12.0h.6v.6h-.6zM18.9 0.3h.6v.6h-.6zM19.0 3.0h.6v.6h-.6zM21.0 11.1h.6v.6h-.6zM8.9 5.3h.6v.6h-.6zM16.2 22.7h.6v.6h-.6zM14.8 8.1h.6v.6h-.6zM5.2 2.1h.6v.6h-.6zM12.1 2.8h.6v.6h-.6zM10.3 1.4h.6v.6h-.6zM23.4 5.2h.6v.6h-.6zM14.2 22.9h.6v.6h-.6zM19.5 21.2h.6v.6h-.6zM11.0 0.0h.6v.6h-.6zM20.1 13.7h.6v.6h-.6zM21.8 10.6h.6v.6h-.6zM3.7 5.5h.6v.6h-.6zM14.5 17.9h.6v.6h-.6zM15.2 20.2h.6v.6h-.6zM12.8 17.9h.6v.6h-.6zM20.5 15.4h.6v.6h-.6zM10.2 2.7h.6v.6h-.6zM20.9 7.9h.6v.6h-.6zM19.4 5.8h.6v.6h-.6zM16.2 20.4h.6v.6h-.6zM4.8 11.3h.6v.6h-.6zM7.9 16.7h.6v.6h-.6zM8.5 20.1h.6v.6h-.6zM22.8 1.1h.6v.6h-.6zM21.1 18.6h.6v.6h-.6zM0.2 14.7h.6v.6h-.6zM22.7 12.9h.6v.6h-.6zM15.0 19.3h.6v.6h-.6zM22.3 7.6h.6v.6h-.6zM8.3 5.2h.6v.6h-.6zM4.7 6.3h.6v.6h-.6zM12.4 6.6h.6v.6h-.6zM21.3 17.2h.6v.6h-.6zM11.7 16.4h.6v.6h-.6zM12.9 2.8h.6v.6h-.6zM1.5 6.4h.6v.6h-.6zM8.8 23.4h.6v.6h-.6zM15.0 11.6h.6v.6h-.6zM11.1 9.5h.6v.6h-.6zM13.4 9.8h.6v.6h-.6zM19.1 23.5h.6v.6h-.6zM19.7 3.0h.6v.6h-.6zM2.9 20.1h.6v.6h-.6zM7.3 6.6h.6v.6h-.6zM3.2 21.9h.6v.6h-.6zM16.9 8.8h.6v.6h-.6zM14.2 10.9h.6v.6h-.6zM10.3 14.2h.6v.6h-.6zM20.7 11.9h.6v.6h-.6zM23.4 5.1h.6v.6h-.6zM11.6 16.3h.6v.6h-.6zM16.4 15.1h.6v.6h-.6zM18.0 0.8h.6v.6h-.6zM17.2 20.3h.6v.6h-.6zM7.8 3.7h.6v.6h-.6zM23.8 8.6h.6v.6h-.6zM4.5 14.0h.6v.6h-.6zM9.2 16.3h.6v.6h-.6zM22.6 11.6h.6v.6h-.6zM8.9 19.9h.6v.6h-.6zM19.1 16.4h.6v.6h-.6zM10.4 6.8h.6v.6h-.6zM11.0 22.6h.6v.6h-.6zM19.8 0.6h.6v.6h-.6zM7.3 18.6h.6v.6h-.6zM9.9 17.9h.6v.6h-.6zM17.9 17.6h.6v.6h-.6zM0.3 11.2h.6v.6h-.6zM8.1 3.1h.6v.6h-.6zM14.3 21.2h.6v.6h-.6zM5.7 16.6h.6v.6h-.6zM14.9 15.9h.6v.6h-.6zM15.1 11.3h.6v.6h-.6zM17.7 9.7h.6v.6h-.6zM16.7 16.1h.6v.6h-.6zM14.8 1.0h.6v.6h-.6zM6.0 4.4h.6v.6h-.6zM9.7 15.7h.6v.6h-.6zM3.8 15.6h.6v.6h-.6zM6.8 17.3h.6v.6h-.6zM22.9 18.5h.6v.6h-.6zM0.6 13.4h.6v.6h-.6zM15.0 0.4h.6v.6h-.6zM10.2 23.4h.6v.6h-.6zM22.5 16.6h.6v.6h-.6zM9.3 2.0h.6v.6h-.6zM7.1 22.1h.6v.6h-.6zM9.0 21.7h.6v.6h-.6zM15.5 4.1h.6v.6h-.6zM23.6 3.1h.6v.6h-.6zM3.5 18.8h.6v.6h-.6zM7.0 6.3h.6v.6h-.6zM17.2 2.1h.6v.6h-.6zM22.0 17.2h.6v.6h-.6zM17.9 22.3h.6v.6h-.6zM14.9 1.3h.6v.6h-.6zM2.6 2.5h.6v.6h-.6zM0.2 22.0h.6v.6h-.6zM18.3 19.4h.6v.6h-.6zM11.8 3.4h.6v.6h-.6zM4.2 6.0h.6v.6h-.6zM22.6 17.6h.6v.6h-.6zM6.1 10.1h.6v.6h-.6zM22.4 7.3h.6v.6h-.6zM14.3 0.2h.6v.6h-.6zM10.9 17.0h.6v.6h-.6zM14.2 1.9h.6v.6h-.6zM22.3 4.2h.6v.6h-.6zM8.4 0.8h.6v.6h-.6zM20.2 1.8h.6v.6h-.6zM19.0 4.4h.6v.6h-.6zM14.8 22.6h.6v.6h-.6zM6.4 9.5h.6v.6h-.6zM14.1 14.5h.6v.6h-.6zM13.3 2.0h.6v.6h-.6zM3.7 0.3h.6v.6h-.6zM19.1 5.8h.6v.6h-.6zM11.8 5.8h.6v.6h-.6zM0.4 0.4h.6v.6h-.6zM12.9 13.4h.6v.6h-.6zM5.1 7.1h.6v.6h-.6zM3.9 15.3h.6v.6h-.6zM22.5 16.5h.6v.6h-.6zM4.7 3.4h.6v.6h-.6zM2.6 21.4h.6v.6h-.6zM9.8 11.3h.6v.6h-.6zM3.0 16.1h.6v.6h-.6zM7.7 10.9h.6v.6h-.6zM4.3 11.9h.6v.6h-.6zM18.3 4.7h.6v.6h-.6zM9.4 0.1h.6v.6h-.6zM4.7 13.4h.6v.6h-.6zM2.3 3.7h.6v.6h-.6zM16.8 0.1h.6v.6h-.6zM24.0 17.1h.6v.6h-.6zM13.8 15.4h.6v.6h-.6zM5.0 15.0h.6v.6h-.6zM14.7 21.1h.6v.6h-.6zM23.1 22.8h.6v.6h-.6zM4.0 11.9h.6v.6h-.6zM10.3 4.1h.6v.6h-.6zM6.4 4.7h.6v.6h-.6zM3.6 11.7h.6v.6h-.6zM15.3 14.5h.6v.6h-.6zM15.3 2.3h.6v.6h-.6zM0.3 15.3h.6v.6h-.6zM21.5 8.8h.6v.6h-.6zM20.0 17.8h.6v.6h-.6zM11.2 22.5h.6v.6h-.6zM14.3 1.3h.6v.6h-.6zM13.2 10.3h.6v.6h-.6zM10.5 24.0h.6v.6h-.6zM4.0 16.8h.6v.6h-.6zM20.9 21.9h.6v.6h-.6zM13.5 17.6h.6v.6h-.6zM0.8 23.8h.6v.6h-.6zM1.3 12.9h.6v.6h-.6zM15.2 15.5h.6v.6h-.6zM9.4 13.7h.6v.6h-.6zM14.8 10.9h.6v.6h-.6zM6.3 6.9h.6v.6h-.6zM6.7 13.0h.6v.6h-.6zM2.1 4.9h.6v.6h-.6zM19.8 13.9h.6v.6h-.6zM2.4 13.5h.6v.6h-.6zM17.1 1.2h.6v.6h-.6zM2.9 17.1h.6v.6h-.6zM5.4 8.7h.6v.6h-.6zM1.3 1.4h.6v.6h-.6zM6.1 14.0h.6v.6h-.6zM0.1 13.7h.6v.6h-.6zM0.9 21.8h.6v.6h-.6zM16.1 11.2h.6v.6h-.6zM13.9 2.8h.6v.6h-.6zM5.2 9.7h.6v.6h-.6zM15.0 17.0h.6v.6h-.6zM20.9 18.0h.6v.6h-.6zM13.7 3.3h.6v.6h-.6zM14.7 21.8h.6v.6h-.6zM14.7 22.8h.6v.6h-.6zM13.6 19.7h.6v.6h-.6zM15.3 5.3h.6v.6h-.6zM18.8 1.0h.6v.6h-.6zM17.2 5.9h.6v.6h-.6zM18.1 19.6h.6v.6h-.6zM22.9 6.0h.6v.6h-.6zM21.5 20.8h.6v.6h-.6zM11.2 7.6h.6v.6h-.6zM9.7 12.5h.6v.6h-.6zM22.4 8.6h.6v.6h-.6zM12.3 3.1h.6v.6h-.6zM13.6 19.2h.6v.6h-.6zM9.4 3.6h.6v.6h-.6zM18.7 23.1h.6v.6h-.6zM11.3 5.0h.6v.6h-.6zM1.3 10.2h.6v.6h-.6zM2.5 19.2h.6v.6h-.6zM6.2 19.2h.6v.6h-.6zM23.9 17.8h.6v.6h-.6zM6.0 21.4h.6v.6h-.6zM7.9 0.1h.6v.6h-.6zM21.7 1.1h.6v.6h-.6zM10.2 5.3h.6v.6h-.6zM6.4 1.1h.6v.6h-.6zM14.3 15.5h.6v.6h-.6zM10.0 20.0h.6v.6h-.6zM0.7 9.6h.6v.6h-.6zM3.2 22.5h.6v.6h-.6zM11.8 17.4h.6v.6h-.6zM15.2 12.6h.6v.6h-.6zM14.7 3.9h.6v.6h-.6zM17.6 11.2h.6v.6h-.6zM13.4 15.4h.6v.6h-.6zM1.6 1.2h.6v.6h-.6zM5.1 17.2h.6v.6h-.6zM18.0 11.4h.6v.6h-.6zM8.3 14.9h.6v.6h-.6zM21.9 5.0h.6v.6h-.6zM14.3 14.9h.6v.6h-.6zM8.7 13.4h.6v.6h-.6zM6.1 15.1h.6v.6h-.6zM12.8 13.2h.6v.6h-.6zM2.2 6.0h.6v.6h-.6zM3.2 8.3h.6v.6h-.6zM11.5 2.2h.6v.6h-.6z" fill="#9a9a9a"/></pattern><mask id="mP" maskUnits="userSpaceOnUse" x="0" y="0" width="685" height="352"><rect width="685" height="352" fill="url(#ptP)"/></mask></defs>
<rect width="685" height="352" fill="#fff"/>
<path d="M21.6 112.9L57 90.9M92.9 114L57 90.9M21.7 95.3L57.1 73.3M93 96.4L57.1 73.3M21.7 77.8L57.1 55.8M93 78.9L57.1 55.8M21.8 60.2L57.2 38.2M93.1 61.3L57.2 38.2M21.8 42.7L57.2 20.7M93.1 43.8L57.2 20.7M21.9 25.1L57.3 3.1M93.2 26.2L57.3 3.1M92.9 114L93.2 26.2M57.5 136L92.9 114M74.9 102.5L75.2 14.6M39.5 124.5L74.9 102.5M57 90.9L57.3 3.1M21.6 112.9L57 90.9M21.6 112.9L21.9 25.1M57.5 136L21.6 112.9M39.3 101.9L39.6 14.1M75.2 125L39.3 101.9M57 90.9L57.3 3.1M92.9 114L57 90.9" stroke="#ebebeb" stroke-width="0.5" fill="none"/>
<path d="M154.2 108.2L194.6 86M234 108.7L194.6 86M154.1 91.5L194.5 69.3M233.9 92L194.5 69.3M153.9 74.8L194.3 52.6M233.7 75.3L194.3 52.6M153.8 58.1L194.2 35.9M233.6 58.6L194.2 35.9M153.6 41.4L194 19.2M233.4 41.9L194 19.2M153.5 24.7L193.9 2.5M233.3 25.2L193.9 2.5M234 108.7L233.3 25.2M193.6 130.9L234 108.7M214.3 97.4L213.6 13.9M173.9 119.6L214.3 97.4M194.6 86L193.9 2.5M154.2 108.2L194.6 86M154.2 108.2L153.5 24.7M193.6 130.9L154.2 108.2M174.4 97.1L173.7 13.6M213.8 119.8L174.4 97.1M194.6 86L193.9 2.5M234 108.7L194.6 86" stroke="#ebebeb" stroke-width="0.5" fill="none"/>
<path d="M286.1 108.2L334.1 85.8M381 107.9L334.1 85.8M286.1 91.5L334.1 69.1M381 91.2L334.1 69.1M286.1 74.8L334.1 52.4M381 74.5L334.1 52.4M286.1 58.1L334.1 35.7M381 57.8L334.1 35.7M286.1 41.4L334.1 19M381 41.1L334.1 19M286.1 24.7L334.1 2.3M381 24.4L334.1 2.3M381 107.9L381 24.4M333 130.3L381 107.9M357.6 96.8L357.6 13.4M309.6 119.2L357.6 96.8M334.1 85.8L334.1 2.3M286.1 108.2L334.1 85.8M286.1 108.2L286.1 24.7M333 130.3L286.1 108.2M310.1 97L310.1 13.5M357 119.1L310.1 97M334.1 85.8L334.1 2.3M381 107.9L334.1 85.8" stroke="#ebebeb" stroke-width="0.5" fill="none"/>
<path d="M441.5 101.1L480.1 81.1M520.2 102.1L480.1 81.1M441.6 85.4L480.2 65.4M520.3 86.4L480.2 65.4M441.7 69.7L480.3 49.7M520.4 70.7L480.3 49.7M441.7 53.9L480.3 33.9M520.4 54.9L480.3 33.9M441.8 38.2L480.4 18.2M520.5 39.2L480.4 18.2M441.9 22.5L480.5 2.5M520.6 23.5L480.5 2.5M520.2 102.1L520.6 23.5M481.6 122.1L520.2 102.1M500.2 91.6L500.6 13M461.6 111.6L500.2 91.6M480.1 81.1L480.5 2.5M441.5 101.1L480.1 81.1M441.5 101.1L441.9 22.5M481.6 122.1L441.5 101.1M460.8 91.1L461.2 12.5M500.9 112.1L460.8 91.1M480.1 81.1L480.5 2.5M520.2 102.1L480.1 81.1" stroke="#ebebeb" stroke-width="0.5" fill="none"/>
<path d="M571.9 101L611.5 80.6M650.4 101.6L611.5 80.6M571.9 85.5L611.5 65.1M650.4 86.1L611.5 65.1M571.9 70L611.5 49.6M650.4 70.6L611.5 49.6M571.9 54.6L611.5 34.2M650.4 55.2L611.5 34.2M571.9 39.1L611.5 18.7M650.4 39.7L611.5 18.7M571.9 23.6L611.5 3.2M650.4 24.2L611.5 3.2M650.4 101.6L650.4 24.2M610.8 122L650.4 101.6M630.9 91.1L630.9 13.7M591.3 111.5L630.9 91.1M611.5 80.6L611.5 3.2M571.9 101L611.5 80.6M571.9 101L571.9 23.6M610.8 122L571.9 101M591.7 90.8L591.7 13.4M630.6 111.8L591.7 90.8M611.5 80.6L611.5 3.2M650.4 101.6L611.5 80.6" stroke="#ebebeb" stroke-width="0.5" fill="none"/>
<path d="M57.5 136 L56.8 119.8 L56.1 112 L55.4 105.6 L54.7 100 L54 94.9 L53.3 90.2 L52.5 85.7 L51.8 81.5 L51.1 77.6 L50.4 73.7 L49.6 70.1 L48.9 66.6 L48.2 63.2 L47.5 59.9 L46.8 56.7 L46 53.7 L45.3 50.7 L44.6 47.9 L43.9 45.1 L43.1 42.4 L42.4 39.8 L41.7 37.8 L40.9 37.4 L40.2 36.9 L39.5 36.4 L38.8 35.9 L38 35.5 L37.3 35 L36.6 34.5 L35.8 34.1 L35.1 33.6 L34.4 33.1 L33.6 32.6 L32.9 32.2 L32.2 31.7 L31.4 31.2 L30.7 30.8 L30 30.3 L29.2 29.8 L28.5 29.3 L27.8 28.9 L27 28.4 L26.3 27.9 L25.6 27.5 L24.8 27 L24.1 26.5 L23.4 26 L22.6 25.6 L21.9 25.1 L21.9 25.1 L22.6 39.8 L23.3 47 L24 52.9 L24.7 58.2 L25.4 63 L26.2 67.5 L26.9 71.7 L27.6 75.7 L28.3 79.5 L29 83.1 L29.8 86.6 L30.5 90 L31.2 93.3 L31.9 96.4 L32.7 99.5 L33.4 102.5 L34.1 105.4 L34.8 108.2 L35.6 110.9 L36.3 113.5 L37 116.1 L37.7 118.6 L38.5 121 L39.2 123.3 L39.9 124.7 L40.6 125.2 L41.4 125.6 L42.1 126.1 L42.8 126.6 L43.6 127 L44.3 127.5 L45 128 L45.8 128.5 L46.5 128.9 L47.2 129.4 L48 129.9 L48.7 130.3 L49.4 130.8 L50.2 131.3 L50.9 131.8 L51.6 132.2 L52.4 132.7 L53.1 133.2 L53.8 133.6 L54.6 134.1 L55.3 134.6 L56 135.1 L56.8 135.5 L57.5 136ZM193.6 130.9 L192.6 102 L191.7 94.3 L190.8 88.7 L190 84 L189.2 80 L188.3 76.3 L187.5 72.9 L186.7 69.8 L185.9 66.8 L185 64 L184.2 61.3 L183.4 58.8 L182.6 56.3 L181.8 53.9 L180.9 51.7 L180.1 49.5 L179.3 47.3 L178.5 45.3 L177.7 43.3 L176.8 41.3 L176 39.4 L175.2 37.6 L174.4 36.7 L173.6 36.3 L172.8 35.8 L172 35.4 L171.2 34.9 L170.4 34.4 L169.6 34 L168.8 33.5 L168 33 L167.2 32.6 L166.4 32.1 L165.6 31.6 L164.8 31.2 L164 30.7 L163.1 30.3 L162.3 29.8 L161.5 29.3 L160.7 28.9 L159.9 28.4 L159.1 27.9 L158.3 27.5 L157.5 27 L156.7 26.6 L155.9 26.1 L155.1 25.6 L154.3 25.2 L153.5 24.7 L153.5 24.7 L154.4 36.2 L155.2 42.2 L156.1 47.3 L156.9 51.8 L157.8 56.1 L158.6 60.1 L159.4 63.9 L160.3 67.6 L161.1 71.2 L161.9 74.6 L162.7 78 L163.6 81.3 L164.4 84.5 L165.2 87.7 L166.1 90.8 L166.9 93.8 L167.7 96.8 L168.5 99.7 L169.4 102.6 L170.2 105.4 L171 108.2 L171.8 111 L172.7 113.7 L173.5 116.3 L174.3 118.9 L175.1 120.2 L175.9 120.7 L176.7 121.2 L177.5 121.6 L178.3 122.1 L179.1 122.6 L179.9 123 L180.7 123.5 L181.5 124 L182.3 124.4 L183.1 124.9 L184 125.3 L184.8 125.8 L185.6 126.3 L186.4 126.7 L187.2 127.2 L188 127.7 L188.8 128.1 L189.6 128.6 L190.4 129 L191.2 129.5 L192 130 L192.8 130.4 L193.6 130.9ZM331.1 126.1 L330.2 112.2 L329.3 106 L328.4 100.9 L327.4 96.4 L326.5 92.3 L325.6 88.5 L324.7 84.9 L323.8 81.5 L322.9 78.3 L321.9 75.1 L321 72.1 L320.1 69.2 L319.2 66.3 L318.3 63.6 L317.3 60.9 L316.4 58.3 L315.5 55.8 L314.6 53.3 L313.7 50.9 L312.7 48.5 L311.8 46.2 L310.9 44 L310 41.8 L309.1 39.7 L308.2 37.6 L307.2 35.6 L306.3 34.2 L305.4 33.8 L304.5 33.4 L303.6 32.9 L302.6 32.5 L301.7 32.1 L300.8 31.6 L299.9 31.2 L299 30.8 L298 30.3 L297.1 29.9 L296.2 29.5 L295.3 29 L294.4 28.6 L293.5 28.2 L292.5 27.7 L291.6 27.3 L290.7 26.9 L289.8 26.4 L288.9 26 L287.9 25.6 L287 25.1 L286.1 24.7 L286.1 24.7 L287 31.1 L287.9 34.6 L288.9 37.8 L289.8 40.7 L290.7 43.5 L291.6 46.3 L292.5 48.9 L293.5 51.4 L294.4 53.9 L295.3 56.4 L296.2 58.8 L297.1 61.2 L298 63.5 L299 65.9 L299.9 68.1 L300.8 70.4 L301.7 72.7 L302.6 74.9 L303.6 77.1 L304.5 79.2 L305.4 81.4 L306.3 83.5 L307.2 85.6 L308.2 87.7 L309.1 89.8 L310 91.8 L310.9 93.9 L311.8 95.9 L312.7 97.9 L313.7 99.8 L314.6 101.8 L315.5 103.7 L316.4 105.6 L317.3 107.5 L318.3 109.3 L319.2 111.1 L320.1 112.9 L321 114.7 L321.9 116.4 L322.9 118.1 L323.8 119.7 L324.7 121.3 L325.6 122.8 L326.5 123.9 L327.4 124.3 L328.4 124.8 L329.3 125.2 L330.2 125.6 L331.1 126.1ZM481.6 122.1 L480.9 104.3 L480.1 98.5 L479.3 93.9 L478.5 89.9 L477.7 86.3 L476.9 82.9 L476.1 79.7 L475.3 76.7 L474.5 73.8 L473.7 71 L472.8 68.2 L472 65.6 L471.2 63 L470.4 60.5 L469.6 58 L468.8 55.6 L468 53.3 L467.2 51 L466.4 48.7 L465.6 46.5 L464.8 44.3 L464 42.1 L463.1 40 L462.3 38 L461.5 35.9 L460.7 33.9 L459.9 32 L459.1 31.5 L458.3 31.1 L457.4 30.6 L456.6 30.2 L455.8 29.8 L455 29.4 L454.2 28.9 L453.4 28.5 L452.5 28.1 L451.7 27.6 L450.9 27.2 L450.1 26.8 L449.3 26.4 L448.4 25.9 L447.6 25.5 L446.8 25.1 L446 24.6 L445.2 24.2 L444.4 23.8 L443.5 23.4 L442.7 22.9 L441.9 22.5 L441.9 22.5 L442.6 49 L443.4 57 L444.2 63 L445 68.1 L445.7 72.6 L446.5 76.7 L447.3 80.5 L448.2 84.1 L449 87.5 L449.8 90.8 L450.6 93.9 L451.4 96.9 L452.2 99.7 L453 102.5 L453.8 105.2 L454.6 107.8 L455.4 108.4 L456.2 108.8 L457 109.2 L457.9 109.7 L458.7 110.1 L459.5 110.5 L460.3 111 L461.1 111.4 L462 111.8 L462.8 112.2 L463.6 112.7 L464.4 113.1 L465.2 113.5 L466.1 114 L466.9 114.4 L467.7 114.8 L468.5 115.2 L469.3 115.7 L470.1 116.1 L471 116.5 L471.8 117 L472.6 117.4 L473.4 117.8 L474.2 118.2 L475.1 118.7 L475.9 119.1 L476.7 119.5 L477.5 120 L478.3 120.4 L479.1 120.8 L480 121.2 L480.8 121.7 L481.6 122.1Z" fill="#0072bd" mask="url(#mX)"/>
<path d="M75.2 125 L74.5 113.8 L73.8 108 L73.1 103.1 L72.4 98.6 L71.6 94.5 L70.9 90.7 L70.2 87 L69.5 83.5 L68.7 80.2 L68 76.9 L67.3 73.7 L66.6 70.7 L65.9 67.7 L65.1 64.8 L64.4 61.9 L63.7 59.1 L63 56.4 L62.2 53.8 L61.5 51.2 L60.8 48.7 L60 46.2 L59.3 43.8 L58.6 41.4 L57.9 39.1 L57.1 36.8 L56.4 34.6 L55.7 32.4 L55 30.3 L54.2 28.3 L53.5 26.3 L52.8 24.4 L52.1 22.5 L51.3 21.6 L50.6 21.2 L49.9 20.7 L49.1 20.2 L48.4 19.8 L47.7 19.3 L46.9 18.8 L46.2 18.3 L45.5 17.9 L44.7 17.4 L44 16.9 L43.3 16.5 L42.5 16 L41.8 15.5 L41.1 15 L40.3 14.6 L39.6 14.1 L39.6 14.1 L40.3 24.8 L41 30.4 L41.7 35.2 L42.5 39.5 L43.2 43.5 L43.9 47.3 L44.6 50.8 L45.3 54.3 L46.1 57.6 L46.8 60.8 L47.5 63.9 L48.2 66.9 L49 69.9 L49.7 72.8 L50.4 75.6 L51.1 78.3 L51.9 81 L52.6 83.6 L53.3 86.2 L54 88.7 L54.8 91.2 L55.5 93.6 L56.2 96 L56.9 98.3 L57.7 100.5 L58.4 102.7 L59.1 104.9 L59.8 107 L60.6 109.1 L61.3 111.1 L62 113 L62.8 114.9 L63.5 116.8 L64.2 117.9 L64.9 118.4 L65.7 118.9 L66.4 119.3 L67.1 119.8 L67.9 120.3 L68.6 120.8 L69.3 121.2 L70.1 121.7 L70.8 122.2 L71.5 122.6 L72.3 123.1 L73 123.6 L73.7 124.1 L74.5 124.5 L75.2 125ZM213.8 119.8 L212.8 97.6 L212 91.3 L211.1 86.5 L210.3 82.5 L209.5 78.9 L208.6 75.6 L207.8 72.5 L207 69.6 L206.2 66.8 L205.3 64.2 L204.5 61.7 L203.7 59.2 L202.9 56.8 L202 54.5 L201.2 52.2 L200.4 50.1 L199.6 47.9 L198.8 45.8 L198 43.8 L197.1 41.8 L196.3 39.8 L195.5 37.9 L194.7 36 L193.9 34.2 L193.1 32.4 L192.2 30.6 L191.4 28.9 L190.6 27.2 L189.8 25.5 L189 23.9 L188.2 22.4 L187.4 21.5 L186.6 21 L185.8 20.5 L185 20.1 L184.2 19.6 L183.3 19.2 L182.5 18.7 L181.7 18.2 L180.9 17.8 L180.1 17.3 L179.3 16.8 L178.5 16.4 L177.7 15.9 L176.9 15.5 L176.1 15 L175.3 14.5 L174.5 14.1 L173.7 13.6 L173.7 13.6 L174.6 26.1 L175.5 32.4 L176.3 37.8 L177.1 42.6 L178 47 L178.8 51.2 L179.7 55.2 L180.5 59.1 L181.3 62.8 L182.1 66.4 L183 69.9 L183.8 73.3 L184.6 76.6 L185.5 79.9 L186.3 83 L187.1 86.2 L187.9 89.2 L188.8 92.2 L189.6 95.2 L190.4 98.1 L191.2 100.9 L192.1 103.7 L192.9 106.5 L193.7 108.2 L194.5 108.7 L195.3 109.1 L196.1 109.6 L196.9 110.1 L197.7 110.5 L198.5 111 L199.3 111.5 L200.1 111.9 L200.9 112.4 L201.7 112.9 L202.5 113.3 L203.3 113.8 L204.2 114.2 L205 114.7 L205.8 115.2 L206.6 115.6 L207.4 116.1 L208.2 116.6 L209 117 L209.8 117.5 L210.6 117.9 L211.4 118.4 L212.2 118.9 L213 119.3 L213.8 119.8ZM355.1 114.9 L354.2 103.7 L353.3 98.4 L352.4 94 L351.4 90.1 L350.5 86.5 L349.6 83 L348.7 79.8 L347.8 76.7 L346.9 73.7 L345.9 70.8 L345 68 L344.1 65.3 L343.2 62.6 L342.3 60 L341.3 57.5 L340.4 55 L339.5 52.5 L338.6 50.2 L337.7 47.8 L336.7 45.5 L335.8 43.3 L334.9 41.1 L334 38.9 L333.1 36.8 L332.2 34.8 L331.2 32.7 L330.3 30.8 L329.4 28.8 L328.5 26.9 L327.6 25.1 L326.6 23.3 L325.7 21.5 L324.8 20.4 L323.9 20 L323 19.6 L322 19.1 L321.1 18.7 L320.2 18.3 L319.3 17.8 L318.4 17.4 L317.5 17 L316.5 16.5 L315.6 16.1 L314.7 15.7 L313.8 15.2 L312.9 14.8 L311.9 14.4 L311 13.9 L310.1 13.5 L310.1 13.5 L311 23.1 L311.9 27.8 L312.9 31.8 L313.8 35.4 L314.7 38.7 L315.6 41.9 L316.5 44.9 L317.5 47.9 L318.4 50.7 L319.3 53.4 L320.2 56.1 L321.1 58.7 L322 61.3 L323 63.8 L323.9 66.3 L324.8 68.7 L325.7 71 L326.6 73.4 L327.6 75.7 L328.5 77.9 L329.4 80.1 L330.3 82.3 L331.2 84.4 L332.2 86.5 L333.1 88.6 L334 90.6 L334.9 92.6 L335.8 94.6 L336.7 96.5 L337.7 98.4 L338.6 100.3 L339.5 102.1 L340.4 103.8 L341.3 105.6 L342.3 107.3 L343.2 108.9 L344.1 109.7 L345 110.1 L345.9 110.5 L346.9 111 L347.8 111.4 L348.7 111.8 L349.6 112.3 L350.5 112.7 L351.4 113.1 L352.4 113.6 L353.3 114 L354.2 114.4 L355.1 114.9ZM500.9 112.1 L500.2 95.4 L499.4 89.8 L498.6 85.4 L497.8 81.5 L497 78 L496.2 74.7 L495.4 71.6 L494.6 68.6 L493.8 65.8 L492.9 63 L492.1 60.3 L491.3 57.7 L490.5 55.2 L489.7 52.7 L488.9 50.3 L488.1 47.9 L487.3 45.6 L486.5 43.3 L485.7 41 L484.9 38.8 L484.1 36.6 L483.2 34.5 L482.4 32.4 L481.6 30.3 L480.8 28.3 L480 26.3 L479.2 24.3 L478.4 22.4 L477.6 21.1 L476.7 20.6 L475.9 20.2 L475.1 19.8 L474.3 19.4 L473.5 18.9 L472.7 18.5 L471.8 18.1 L471 17.6 L470.2 17.2 L469.4 16.8 L468.6 16.4 L467.7 15.9 L466.9 15.5 L466.1 15.1 L465.3 14.6 L464.5 14.2 L463.7 13.8 L462.8 13.4 L462 12.9 L461.2 12.5 L461.2 12.5 L461.9 30.6 L462.7 36.5 L463.5 41.2 L464.3 45.2 L465.1 48.9 L465.9 52.3 L466.7 55.5 L467.5 58.6 L468.3 61.5 L469.1 64.3 L469.9 67.1 L470.8 69.7 L471.6 72.3 L472.4 74.8 L473.2 77.3 L474 79.7 L474.8 82.1 L475.6 84.4 L476.4 86.7 L477.2 88.9 L478 91.1 L478.8 93.3 L479.7 95.4 L480.5 97.4 L481.3 99.5 L482.1 101.5 L482.9 102.7 L483.7 103.1 L484.5 103.5 L485.4 104 L486.2 104.4 L487 104.8 L487.8 105.2 L488.6 105.7 L489.4 106.1 L490.3 106.5 L491.1 107 L491.9 107.4 L492.7 107.8 L493.5 108.2 L494.4 108.7 L495.2 109.1 L496 109.5 L496.8 110 L497.6 110.4 L498.4 110.8 L499.3 111.2 L500.1 111.7 L500.9 112.1ZM630.6 111.8 L629.8 105.7 L629 101.7 L628.2 98.1 L627.4 94.7 L626.6 91.6 L625.8 88.6 L625 85.6 L624.2 82.8 L623.5 80.1 L622.7 77.4 L621.9 74.8 L621.1 72.2 L620.3 69.7 L619.5 67.2 L618.7 64.8 L617.9 62.5 L617.1 60.2 L616.3 57.9 L615.5 55.6 L614.7 53.4 L613.9 51.3 L613.1 49.2 L612.3 47.1 L611.5 45 L610.8 43 L610 41.1 L609.2 39.1 L608.4 37.2 L607.6 35.4 L606.8 33.5 L606 31.8 L605.2 30 L604.4 28.3 L603.6 26.7 L602.8 25.1 L602 23.5 L601.2 22 L600.4 20.5 L599.6 19.1 L598.8 17.8 L598.1 16.8 L597.3 16.4 L596.5 16 L595.7 15.5 L594.9 15.1 L594.1 14.7 L593.3 14.3 L592.5 13.8 L591.7 13.4 L591.7 13.4 L592.5 19.5 L593.3 23.5 L594.1 27.1 L594.9 30.5 L595.7 33.6 L596.5 36.6 L597.3 39.6 L598.1 42.4 L598.8 45.1 L599.6 47.8 L600.4 50.4 L601.2 53 L602 55.5 L602.8 58 L603.6 60.4 L604.4 62.7 L605.2 65 L606 67.3 L606.8 69.6 L607.6 71.8 L608.4 73.9 L609.2 76 L610 78.1 L610.8 80.2 L611.5 82.2 L612.3 84.1 L613.1 86.1 L613.9 88 L614.7 89.8 L615.5 91.7 L616.3 93.4 L617.1 95.2 L617.9 96.9 L618.7 98.5 L619.5 100.1 L620.3 101.7 L621.1 103.2 L621.9 104.7 L622.7 106.1 L623.5 107.4 L624.2 108.4 L625 108.8 L625.8 109.2 L626.6 109.7 L627.4 110.1 L628.2 110.5 L629 110.9 L629.8 111.4 L630.6 111.8Z" fill="#d95319" mask="url(#mX)"/>
<path d="M92.9 114 L92.2 97.8 L91.5 90 L90.8 83.6 L90.1 78 L89.4 72.9 L88.7 68.2 L87.9 63.7 L87.2 59.5 L86.5 55.6 L85.8 51.7 L85 48.1 L84.3 44.6 L83.6 41.2 L82.9 37.9 L82.2 34.7 L81.4 31.7 L80.7 28.7 L80 25.9 L79.3 23.1 L78.5 20.4 L77.8 17.8 L77.1 15.8 L76.3 15.4 L75.6 14.9 L74.9 14.4 L74.2 13.9 L73.4 13.5 L72.7 13 L72 12.5 L71.2 12.1 L70.5 11.6 L69.8 11.1 L69 10.6 L68.3 10.2 L67.6 9.7 L66.8 9.2 L66.1 8.8 L65.4 8.3 L64.6 7.8 L63.9 7.3 L63.2 6.9 L62.4 6.4 L61.7 5.9 L61 5.5 L60.2 5 L59.5 4.5 L58.8 4 L58 3.6 L57.3 3.1 L57.3 3.1 L58 16.3 L58.7 22.9 L59.4 28.4 L60.1 33.3 L60.9 37.8 L61.6 42 L62.3 46 L63 49.8 L63.7 53.4 L64.5 56.9 L65.2 60.2 L65.9 63.5 L66.6 66.6 L67.4 69.7 L68.1 72.7 L68.8 75.5 L69.5 78.4 L70.3 81.1 L71 83.7 L71.7 86.3 L72.4 88.9 L73.2 91.3 L73.9 93.7 L74.6 96 L75.3 98.3 L76.1 100.5 L76.8 102.6 L77.5 104.1 L78.2 104.6 L79 105 L79.7 105.5 L80.4 106 L81.2 106.5 L81.9 106.9 L82.6 107.4 L83.4 107.9 L84.1 108.3 L84.8 108.8 L85.6 109.3 L86.3 109.8 L87 110.2 L87.8 110.7 L88.5 111.2 L89.2 111.6 L90 112.1 L90.7 112.6 L91.4 113.1 L92.2 113.5 L92.9 114ZM234 108.7 L233 80.3 L232.1 72.7 L231.3 67.1 L230.4 62.5 L229.6 58.5 L228.7 54.8 L227.9 51.5 L227.1 48.3 L226.3 45.4 L225.4 42.6 L224.6 39.9 L223.8 37.4 L223 34.9 L222.2 32.6 L221.3 30.3 L220.5 28.1 L219.7 26 L218.9 23.9 L218.1 21.9 L217.3 19.9 L216.4 18 L215.6 16.2 L214.8 14.5 L214 14.1 L213.2 13.6 L212.4 13.2 L211.6 12.7 L210.8 12.2 L210 11.8 L209.2 11.3 L208.4 10.8 L207.6 10.4 L206.8 9.9 L206 9.4 L205.2 9 L204.4 8.5 L203.5 8.1 L202.7 7.6 L201.9 7.1 L201.1 6.7 L200.3 6.2 L199.5 5.7 L198.7 5.3 L197.9 4.8 L197.1 4.4 L196.3 3.9 L195.5 3.4 L194.7 3 L193.9 2.5 L193.9 2.5 L194.8 13.1 L195.6 18.7 L196.5 23.4 L197.3 27.8 L198.1 31.8 L199 35.6 L199.8 39.3 L200.6 42.8 L201.5 46.3 L202.3 49.6 L203.1 52.9 L204 56 L204.8 59.2 L205.6 62.2 L206.4 65.2 L207.3 68.2 L208.1 71.1 L208.9 73.9 L209.7 76.7 L210.5 79.5 L211.4 82.2 L212.2 84.9 L213 87.5 L213.8 90.1 L214.7 92.7 L215.5 95.2 L216.3 97.7 L217.1 99 L217.9 99.4 L218.7 99.9 L219.5 100.4 L220.3 100.8 L221.1 101.3 L221.9 101.8 L222.7 102.2 L223.5 102.7 L224.4 103.1 L225.2 103.6 L226 104.1 L226.8 104.5 L227.6 105 L228.4 105.5 L229.2 105.9 L230 106.4 L230.8 106.8 L231.6 107.3 L232.4 107.8 L233.2 108.2 L234 108.7ZM379.1 103.7 L378.2 89.3 L377.3 82.9 L376.4 77.6 L375.4 73.1 L374.5 68.9 L373.6 65 L372.7 61.3 L371.8 57.9 L370.9 54.5 L369.9 51.4 L369 48.3 L368.1 45.3 L367.2 42.4 L366.3 39.7 L365.3 36.9 L364.4 34.3 L363.5 31.8 L362.6 29.3 L361.7 26.8 L360.7 24.5 L359.8 22.2 L358.9 19.9 L358 17.7 L357.1 15.6 L356.2 13.6 L355.2 12.3 L354.3 11.8 L353.4 11.4 L352.5 11 L351.6 10.5 L350.6 10.1 L349.7 9.7 L348.8 9.2 L347.9 8.8 L347 8.4 L346 7.9 L345.1 7.5 L344.2 7.1 L343.3 6.6 L342.4 6.2 L341.5 5.8 L340.5 5.3 L339.6 4.9 L338.7 4.5 L337.8 4 L336.9 3.6 L335.9 3.2 L335 2.7 L334.1 2.3 L334.1 2.3 L335 8.7 L335.9 12.2 L336.9 15.4 L337.8 18.3 L338.7 21.1 L339.6 23.9 L340.5 26.5 L341.5 29 L342.4 31.5 L343.3 34 L344.2 36.4 L345.1 38.8 L346 41.1 L347 43.5 L347.9 45.7 L348.8 48 L349.7 50.3 L350.6 52.5 L351.6 54.7 L352.5 56.8 L353.4 59 L354.3 61.1 L355.2 63.2 L356.2 65.3 L357.1 67.4 L358 69.4 L358.9 71.5 L359.8 73.5 L360.7 75.5 L361.7 77.4 L362.6 79.4 L363.5 81.3 L364.4 83.2 L365.3 85.1 L366.3 86.9 L367.2 88.7 L368.1 90.5 L369 92.3 L369.9 94 L370.9 95.7 L371.8 97.3 L372.7 98.9 L373.6 100.4 L374.5 101.5 L375.4 101.9 L376.4 102.4 L377.3 102.8 L378.2 103.2 L379.1 103.7ZM520.2 102.1 L519.6 66.8 L518.8 56.8 L518 49.4 L517.2 43.2 L516.4 37.8 L515.6 32.9 L514.8 28.4 L514 24.3 L513.2 20.4 L512.4 19.2 L511.6 18.8 L510.8 18.4 L510 17.9 L509.1 17.5 L508.3 17.1 L507.5 16.6 L506.7 16.2 L505.9 15.8 L505.1 15.4 L504.2 14.9 L503.4 14.5 L502.6 14.1 L501.8 13.6 L501 13.2 L500.1 12.8 L499.3 12.4 L498.5 11.9 L497.7 11.5 L496.9 11.1 L496 10.6 L495.2 10.2 L494.4 9.8 L493.6 9.4 L492.8 8.9 L492 8.5 L491.1 8.1 L490.3 7.6 L489.5 7.2 L488.7 6.8 L487.9 6.4 L487 5.9 L486.2 5.5 L485.4 5.1 L484.6 4.6 L483.8 4.2 L483 3.8 L482.1 3.4 L481.3 2.9 L480.5 2.5 L480.5 2.5 L481.2 25.5 L482 32.6 L482.8 38.1 L483.6 42.7 L484.4 46.9 L485.2 50.7 L486 54.3 L486.8 57.6 L487.6 60.8 L488.4 63.9 L489.2 66.9 L490 69.7 L490.8 72.5 L491.6 75.2 L492.4 77.8 L493.2 80.3 L494 82.8 L494.8 85.2 L495.7 87.5 L496.5 89.7 L497.3 90.1 L498.1 90.5 L498.9 91 L499.7 91.4 L500.6 91.8 L501.4 92.2 L502.2 92.7 L503 93.1 L503.8 93.5 L504.7 94 L505.5 94.4 L506.3 94.8 L507.1 95.2 L507.9 95.7 L508.7 96.1 L509.6 96.5 L510.4 97 L511.2 97.4 L512 97.8 L512.8 98.2 L513.7 98.7 L514.5 99.1 L515.3 99.5 L516.1 100 L516.9 100.4 L517.7 100.8 L518.6 101.2 L519.4 101.7 L520.2 102.1Z" fill="#edb120" mask="url(#mX)"/>
<path d="M57.5 136 L56.8 123.8 L56.1 117.6 L55.4 112.4 L54.7 107.7 L53.9 103.4 L53.2 99.4 L52.5 95.6 L51.8 91.9 L51.1 88.4 L50.3 85.1 L49.6 81.8 L48.9 78.6 L48.2 75.6 L47.4 72.6 L46.7 69.7 L46 66.8 L45.3 64.1 L44.5 61.4 L43.8 58.8 L43.1 56.2 L42.4 53.7 L41.6 51.3 L40.9 48.9 L40.2 46.6 L39.5 44.3 L38.7 42.1 L38 40 L37.3 37.9 L36.5 35.8 L35.8 34.1 L35.1 33.6 L34.4 33.1 L33.6 32.6 L32.9 32.2 L32.2 31.7 L31.4 31.2 L30.7 30.8 L30 30.3 L29.2 29.8 L28.5 29.3 L27.8 28.9 L27 28.4 L26.3 27.9 L25.6 27.5 L24.8 27 L24.1 26.5 L23.4 26 L22.6 25.6 L21.9 25.1 L21.9 25.1 L22.6 36.3 L23.3 42.1 L24 47 L24.7 51.5 L25.5 55.6 L26.2 59.4 L26.9 63.1 L27.6 66.6 L28.4 69.9 L29.1 73.2 L29.8 76.4 L30.5 79.4 L31.2 82.4 L32 85.3 L32.7 88.2 L33.4 91 L34.1 93.7 L34.9 96.3 L35.6 98.9 L36.3 101.4 L37.1 103.9 L37.8 106.3 L38.5 108.7 L39.2 111 L40 113.3 L40.7 115.5 L41.4 117.7 L42.1 119.8 L42.9 121.8 L43.6 123.8 L44.3 125.7 L45 127.6 L45.8 128.5 L46.5 128.9 L47.2 129.4 L48 129.9 L48.7 130.3 L49.4 130.8 L50.2 131.3 L50.9 131.8 L51.6 132.2 L52.4 132.7 L53.1 133.2 L53.8 133.6 L54.6 134.1 L55.3 134.6 L56 135.1 L56.8 135.5 L57.5 136ZM193.6 130.9 L192.6 108.7 L191.8 102.4 L190.9 97.6 L190.1 93.6 L189.3 90 L188.4 86.7 L187.6 83.6 L186.8 80.7 L186 77.9 L185.1 75.3 L184.3 72.8 L183.5 70.3 L182.7 67.9 L181.8 65.6 L181 63.3 L180.2 61.2 L179.4 59 L178.6 56.9 L177.8 54.9 L176.9 52.9 L176.1 50.9 L175.3 49 L174.5 47.1 L173.7 45.3 L172.9 43.5 L172 41.7 L171.2 40 L170.4 38.3 L169.6 36.6 L168.8 35 L168 33.5 L167.2 32.6 L166.4 32.1 L165.6 31.6 L164.8 31.2 L164 30.7 L163.1 30.3 L162.3 29.8 L161.5 29.3 L160.7 28.9 L159.9 28.4 L159.1 27.9 L158.3 27.5 L157.5 27 L156.7 26.6 L155.9 26.1 L155.1 25.6 L154.3 25.2 L153.5 24.7 L153.5 24.7 L154.4 34 L155.2 39 L156.1 43.4 L156.9 47.4 L157.7 51.1 L158.6 54.7 L159.4 58.1 L160.2 61.5 L161 64.7 L161.9 67.9 L162.7 70.9 L163.5 74 L164.3 76.9 L165.2 79.9 L166 82.7 L166.8 85.6 L167.6 88.3 L168.5 91.1 L169.3 93.8 L170.1 96.5 L170.9 99.1 L171.7 101.7 L172.6 104.3 L173.4 106.8 L174.2 109.3 L175 111.8 L175.9 114.2 L176.7 116.6 L177.5 118.9 L178.3 121.3 L179.1 122.6 L179.9 123 L180.7 123.5 L181.5 124 L182.3 124.4 L183.1 124.9 L184 125.3 L184.8 125.8 L185.6 126.3 L186.4 126.7 L187.2 127.2 L188 127.7 L188.8 128.1 L189.6 128.6 L190.4 129 L191.2 129.5 L192 130 L192.8 130.4 L193.6 130.9ZM331.1 126.1 L330.2 113.8 L329.3 108.2 L328.4 103.5 L327.4 99.3 L326.5 95.5 L325.6 92 L324.7 88.6 L323.8 85.3 L322.9 82.2 L321.9 79.3 L321 76.4 L320.1 73.5 L319.2 70.8 L318.3 68.2 L317.3 65.6 L316.4 63 L315.5 60.5 L314.6 58.1 L313.7 55.8 L312.7 53.5 L311.8 51.2 L310.9 49 L310 46.8 L309.1 44.7 L308.2 42.6 L307.2 40.6 L306.3 38.6 L305.4 36.7 L304.5 34.8 L303.6 33 L302.6 32.5 L301.7 32.1 L300.8 31.6 L299.9 31.2 L299 30.8 L298 30.3 L297.1 29.9 L296.2 29.5 L295.3 29 L294.4 28.6 L293.5 28.2 L292.5 27.7 L291.6 27.3 L290.7 26.9 L289.8 26.4 L288.9 26 L287.9 25.6 L287 25.1 L286.1 24.7 L286.1 24.7 L287 30 L287.9 33.2 L288.9 36.1 L289.8 38.8 L290.7 41.4 L291.6 44 L292.5 46.4 L293.5 48.9 L294.4 51.3 L295.3 53.6 L296.2 56 L297.1 58.3 L298 60.6 L299 62.8 L299.9 65 L300.8 67.3 L301.7 69.5 L302.6 71.6 L303.6 73.8 L304.5 75.9 L305.4 78.1 L306.3 80.2 L307.2 82.3 L308.2 84.4 L309.1 86.4 L310 88.5 L310.9 90.5 L311.8 92.6 L312.7 94.6 L313.7 96.6 L314.6 98.5 L315.5 100.5 L316.4 102.4 L317.3 104.4 L318.3 106.3 L319.2 108.1 L320.1 110 L321 111.8 L321.9 113.6 L322.9 115.4 L323.8 117.2 L324.7 118.9 L325.6 120.5 L326.5 122.1 L327.4 123.6 L328.4 124.8 L329.3 125.2 L330.2 125.6 L331.1 126.1ZM481.6 122.1 L480.9 108.2 L480.1 103.3 L479.3 99.3 L478.5 95.8 L477.6 92.6 L476.8 89.5 L476 86.6 L475.2 83.8 L474.4 81.1 L473.6 78.5 L472.8 75.9 L472 73.4 L471.2 71 L470.4 68.6 L469.6 66.2 L468.8 63.9 L468 61.6 L467.1 59.4 L466.3 57.2 L465.5 55 L464.7 52.9 L463.9 50.7 L463.1 48.7 L462.3 46.6 L461.5 44.6 L460.7 42.6 L459.9 40.6 L459 38.6 L458.2 36.7 L457.4 34.8 L456.6 33 L455.8 31.2 L455 29.4 L454.2 28.9 L453.4 28.5 L452.5 28.1 L451.7 27.6 L450.9 27.2 L450.1 26.8 L449.3 26.4 L448.4 25.9 L447.6 25.5 L446.8 25.1 L446 24.6 L445.2 24.2 L444.4 23.8 L443.5 23.4 L442.7 22.9 L441.9 22.5 L441.9 22.5 L442.6 42.7 L443.4 49.1 L444.2 54.1 L445 58.4 L445.8 62.3 L446.6 65.9 L447.4 69.3 L448.2 72.4 L449 75.5 L449.8 78.4 L450.6 81.3 L451.4 84 L452.2 86.7 L453 89.3 L453.9 91.8 L454.7 94.3 L455.5 96.7 L456.3 99 L457.1 101.3 L457.9 103.6 L458.7 105.8 L459.5 108 L460.3 110.1 L461.1 111.4 L462 111.8 L462.8 112.2 L463.6 112.7 L464.4 113.1 L465.2 113.5 L466.1 114 L466.9 114.4 L467.7 114.8 L468.5 115.2 L469.3 115.7 L470.1 116.1 L471 116.5 L471.8 117 L472.6 117.4 L473.4 117.8 L474.2 118.2 L475.1 118.7 L475.9 119.1 L476.7 119.5 L477.5 120 L478.3 120.4 L479.1 120.8 L480 121.2 L480.8 121.7 L481.6 122.1ZM610.8 122 L610 116.8 L609.2 113.1 L608.4 109.9 L607.6 106.8 L606.8 103.9 L606 101.1 L605.2 98.4 L604.4 95.7 L603.7 93.1 L602.9 90.6 L602.1 88.1 L601.3 85.6 L600.5 83.2 L599.7 80.9 L598.9 78.5 L598.1 76.3 L597.3 74 L596.5 71.8 L595.7 69.6 L594.9 67.4 L594.1 65.3 L593.3 63.2 L592.5 61.1 L591.7 59.1 L591 57.1 L590.2 55.1 L589.4 53.2 L588.6 51.2 L587.8 49.4 L587 47.5 L586.2 45.7 L585.4 43.9 L584.6 42.1 L583.8 40.4 L583 38.7 L582.2 37 L581.4 35.4 L580.6 33.9 L579.8 32.3 L579 30.9 L578.3 29.4 L577.5 28.1 L576.7 26.8 L575.9 25.7 L575.1 25.3 L574.3 24.9 L573.5 24.5 L572.7 24 L571.9 23.6 L571.9 23.6 L572.7 28.8 L573.5 32.5 L574.3 35.7 L575.1 38.8 L575.9 41.7 L576.7 44.5 L577.5 47.2 L578.3 49.9 L579 52.5 L579.8 55 L580.6 57.5 L581.4 60 L582.2 62.4 L583 64.7 L583.8 67.1 L584.6 69.3 L585.4 71.6 L586.2 73.8 L587 76 L587.8 78.2 L588.6 80.3 L589.4 82.4 L590.2 84.5 L591 86.5 L591.7 88.5 L592.5 90.5 L593.3 92.4 L594.1 94.4 L594.9 96.2 L595.7 98.1 L596.5 99.9 L597.3 101.7 L598.1 103.5 L598.9 105.2 L599.7 106.9 L600.5 108.6 L601.3 110.2 L602.1 111.7 L602.9 113.3 L603.7 114.7 L604.4 116.2 L605.2 117.5 L606 118.8 L606.8 119.9 L607.6 120.3 L608.4 120.7 L609.2 121.1 L610 121.6 L610.8 122Z" fill="#0072bd" mask="url(#mH)"/>
<path d="M75.2 125 L74.5 116.3 L73.8 111.4 L73.1 107.3 L72.3 103.4 L71.6 99.9 L70.9 96.5 L70.2 93.2 L69.4 90 L68.7 87 L68 84 L67.3 81.1 L66.5 78.2 L65.8 75.4 L65.1 72.7 L64.4 70 L63.6 67.4 L62.9 64.8 L62.2 62.3 L61.5 59.8 L60.7 57.3 L60 54.9 L59.3 52.5 L58.6 50.2 L57.8 47.9 L57.1 45.6 L56.4 43.4 L55.7 41.2 L54.9 39 L54.2 36.9 L53.5 34.9 L52.8 32.8 L52 30.8 L51.3 28.9 L50.6 27 L49.8 25.2 L49.1 23.4 L48.4 21.6 L47.7 19.9 L46.9 18.8 L46.2 18.3 L45.5 17.9 L44.7 17.4 L44 16.9 L43.3 16.5 L42.5 16 L41.8 15.5 L41.1 15 L40.3 14.6 L39.6 14.1 L39.6 14.1 L40.3 22.8 L41 27.7 L41.7 31.8 L42.5 35.7 L43.2 39.2 L43.9 42.6 L44.6 45.9 L45.4 49.1 L46.1 52.1 L46.8 55.1 L47.5 58 L48.3 60.9 L49 63.7 L49.7 66.4 L50.4 69.1 L51.2 71.7 L51.9 74.3 L52.6 76.8 L53.3 79.3 L54.1 81.8 L54.8 84.2 L55.5 86.6 L56.2 88.9 L57 91.2 L57.7 93.5 L58.4 95.7 L59.1 97.9 L59.9 100.1 L60.6 102.2 L61.3 104.2 L62 106.3 L62.8 108.3 L63.5 110.2 L64.2 112.1 L65 113.9 L65.7 115.7 L66.4 117.5 L67.1 119.2 L67.9 120.3 L68.6 120.8 L69.3 121.2 L70.1 121.7 L70.8 122.2 L71.5 122.6 L72.3 123.1 L73 123.6 L73.7 124.1 L74.5 124.5 L75.2 125ZM213.8 119.8 L212.9 102.4 L212 97.1 L211.2 92.9 L210.3 89.3 L209.5 86 L208.7 83 L207.9 80.2 L207 77.4 L206.2 74.8 L205.4 72.3 L204.6 69.8 L203.8 67.4 L202.9 65.1 L202.1 62.8 L201.3 60.6 L200.5 58.4 L199.7 56.3 L198.8 54.1 L198 52.1 L197.2 50 L196.4 48 L195.6 46 L194.8 44.1 L193.9 42.2 L193.1 40.3 L192.3 38.4 L191.5 36.6 L190.7 34.8 L189.9 33 L189.1 31.3 L188.2 29.6 L187.4 27.9 L186.6 26.2 L185.8 24.6 L185 23.1 L184.2 21.5 L183.4 20 L182.5 18.7 L181.7 18.2 L180.9 17.8 L180.1 17.3 L179.3 16.8 L178.5 16.4 L177.7 15.9 L176.9 15.5 L176.1 15 L175.3 14.5 L174.5 14.1 L173.7 13.6 L173.7 13.6 L174.6 23.6 L175.4 29 L176.3 33.6 L177.1 37.8 L177.9 41.7 L178.8 45.4 L179.6 49 L180.4 52.4 L181.3 55.8 L182.1 59 L182.9 62.2 L183.7 65.3 L184.6 68.4 L185.4 71.4 L186.2 74.3 L187 77.2 L187.9 80.1 L188.7 82.9 L189.5 85.6 L190.3 88.4 L191.2 91 L192 93.7 L192.8 96.3 L193.6 98.9 L194.4 101.4 L195.3 103.9 L196.1 106.4 L196.9 108.8 L197.7 110.5 L198.5 111 L199.3 111.5 L200.1 111.9 L200.9 112.4 L201.7 112.9 L202.5 113.3 L203.3 113.8 L204.2 114.2 L205 114.7 L205.8 115.2 L206.6 115.6 L207.4 116.1 L208.2 116.6 L209 117 L209.8 117.5 L210.6 117.9 L211.4 118.4 L212.2 118.9 L213 119.3 L213.8 119.8ZM355.1 114.9 L354.2 104.8 L353.3 99.9 L352.4 95.7 L351.4 92 L350.5 88.6 L349.6 85.3 L348.7 82.2 L347.8 79.2 L346.9 76.4 L345.9 73.6 L345 70.8 L344.1 68.2 L343.2 65.6 L342.3 63 L341.3 60.6 L340.4 58.1 L339.5 55.7 L338.6 53.4 L337.7 51.1 L336.7 48.8 L335.8 46.6 L334.9 44.4 L334 42.3 L333.1 40.2 L332.2 38.1 L331.2 36.1 L330.3 34.1 L329.4 32.1 L328.5 30.2 L327.6 28.3 L326.6 26.5 L325.7 24.7 L324.8 23 L323.9 21.3 L323 19.6 L322 19.1 L321.1 18.7 L320.2 18.3 L319.3 17.8 L318.4 17.4 L317.5 17 L316.5 16.5 L315.6 16.1 L314.7 15.7 L313.8 15.2 L312.9 14.8 L311.9 14.4 L311 13.9 L310.1 13.5 L310.1 13.5 L311 20.9 L311.9 24.9 L312.9 28.3 L313.8 31.5 L314.7 34.5 L315.6 37.3 L316.5 40.1 L317.5 42.8 L318.4 45.4 L319.3 47.9 L320.2 50.4 L321.1 52.9 L322 55.3 L323 57.7 L323.9 60.1 L324.8 62.4 L325.7 64.6 L326.6 66.9 L327.6 69.1 L328.5 71.3 L329.4 73.5 L330.3 75.6 L331.2 77.8 L332.2 79.9 L333.1 81.9 L334 84 L334.9 86 L335.8 88 L336.7 89.9 L337.7 91.9 L338.6 93.8 L339.5 95.7 L340.4 97.5 L341.3 99.4 L342.3 101.2 L343.2 102.9 L344.1 104.6 L345 106.3 L345.9 107.9 L346.9 109.5 L347.8 111 L348.7 111.8 L349.6 112.3 L350.5 112.7 L351.4 113.1 L352.4 113.6 L353.3 114 L354.2 114.4 L355.1 114.9ZM500.9 112.1 L500.1 98.9 L499.4 94.1 L498.5 90.3 L497.7 86.9 L496.9 83.7 L496.1 80.7 L495.3 77.9 L494.5 75.1 L493.7 72.4 L492.9 69.9 L492.1 67.3 L491.3 64.9 L490.5 62.4 L489.7 60.1 L488.9 57.7 L488.1 55.4 L487.3 53.2 L486.4 50.9 L485.6 48.7 L484.8 46.6 L484 44.4 L483.2 42.3 L482.4 40.2 L481.6 38.2 L480.8 36.1 L480 34.1 L479.2 32.2 L478.3 30.2 L477.5 28.3 L476.7 26.4 L475.9 24.5 L475.1 22.7 L474.3 20.9 L473.5 19.1 L472.7 18.5 L471.8 18.1 L471 17.6 L470.2 17.2 L469.4 16.8 L468.6 16.4 L467.7 15.9 L466.9 15.5 L466.1 15.1 L465.3 14.6 L464.5 14.2 L463.7 13.8 L462.8 13.4 L462 12.9 L461.2 12.5 L461.2 12.5 L461.9 27.1 L462.7 32.2 L463.5 36.3 L464.3 39.9 L465.1 43.2 L466 46.3 L466.8 49.2 L467.6 52.1 L468.4 54.8 L469.2 57.5 L470 60.1 L470.8 62.6 L471.6 65.1 L472.4 67.5 L473.2 69.8 L474 72.2 L474.8 74.5 L475.6 76.7 L476.5 79 L477.3 81.1 L478.1 83.3 L478.9 85.4 L479.7 87.5 L480.5 89.6 L481.3 91.6 L482.1 93.6 L482.9 95.6 L483.7 97.5 L484.6 99.4 L485.4 101.3 L486.2 103.2 L487 104.8 L487.8 105.2 L488.6 105.7 L489.4 106.1 L490.3 106.5 L491.1 107 L491.9 107.4 L492.7 107.8 L493.5 108.2 L494.4 108.7 L495.2 109.1 L496 109.5 L496.8 110 L497.6 110.4 L498.4 110.8 L499.3 111.2 L500.1 111.7 L500.9 112.1ZM630.6 111.8 L629.8 106.4 L629 102.7 L628.2 99.4 L627.4 96.3 L626.6 93.3 L625.8 90.4 L625 87.7 L624.2 85 L623.5 82.3 L622.7 79.8 L621.9 77.3 L621.1 74.8 L620.3 72.4 L619.5 70 L618.7 67.6 L617.9 65.3 L617.1 63.1 L616.3 60.8 L615.5 58.6 L614.7 56.5 L613.9 54.3 L613.1 52.2 L612.3 50.2 L611.5 48.1 L610.8 46.1 L610 44.1 L609.2 42.2 L608.4 40.3 L607.6 38.4 L606.8 36.5 L606 34.7 L605.2 32.9 L604.4 31.2 L603.6 29.5 L602.8 27.8 L602 26.2 L601.2 24.6 L600.4 23 L599.6 21.5 L598.8 20.1 L598.1 18.7 L597.3 17.4 L596.5 16.1 L595.7 15.5 L594.9 15.1 L594.1 14.7 L593.3 14.3 L592.5 13.8 L591.7 13.4 L591.7 13.4 L592.5 18.8 L593.3 22.5 L594.1 25.8 L594.9 28.9 L595.7 31.9 L596.5 34.8 L597.3 37.5 L598.1 40.2 L598.8 42.9 L599.6 45.4 L600.4 47.9 L601.2 50.4 L602 52.8 L602.8 55.2 L603.6 57.6 L604.4 59.9 L605.2 62.1 L606 64.4 L606.8 66.6 L607.6 68.7 L608.4 70.9 L609.2 73 L610 75 L610.8 77.1 L611.5 79.1 L612.3 81.1 L613.1 83 L613.9 84.9 L614.7 86.8 L615.5 88.7 L616.3 90.5 L617.1 92.3 L617.9 94 L618.7 95.7 L619.5 97.4 L620.3 99 L621.1 100.6 L621.9 102.2 L622.7 103.7 L623.5 105.1 L624.2 106.5 L625 107.8 L625.8 109.1 L626.6 109.7 L627.4 110.1 L628.2 110.5 L629 110.9 L629.8 111.4 L630.6 111.8Z" fill="#d95319" mask="url(#mH)"/>
<path d="M92.9 114 L92.2 101.8 L91.5 95.6 L90.8 90.4 L90.1 85.7 L89.3 81.4 L88.6 77.4 L87.9 73.6 L87.2 69.9 L86.5 66.4 L85.7 63.1 L85 59.8 L84.3 56.6 L83.6 53.6 L82.8 50.6 L82.1 47.7 L81.4 44.8 L80.7 42.1 L79.9 39.4 L79.2 36.8 L78.5 34.2 L77.8 31.7 L77 29.3 L76.3 26.9 L75.6 24.6 L74.9 22.3 L74.1 20.1 L73.4 18 L72.7 15.9 L71.9 13.8 L71.2 12.1 L70.5 11.6 L69.8 11.1 L69 10.6 L68.3 10.2 L67.6 9.7 L66.8 9.2 L66.1 8.8 L65.4 8.3 L64.6 7.8 L63.9 7.3 L63.2 6.9 L62.4 6.4 L61.7 5.9 L61 5.5 L60.2 5 L59.5 4.5 L58.8 4 L58 3.6 L57.3 3.1 L57.3 3.1 L58 13.3 L58.7 18.7 L59.4 23.4 L60.2 27.5 L60.9 31.4 L61.6 35.1 L62.3 38.6 L63 42 L63.8 45.2 L64.5 48.4 L65.2 51.4 L65.9 54.4 L66.7 57.3 L67.4 60.2 L68.1 62.9 L68.8 65.7 L69.6 68.3 L70.3 70.9 L71 73.5 L71.7 76 L72.5 78.4 L73.2 80.8 L73.9 83.2 L74.6 85.5 L75.4 87.8 L76.1 90 L76.8 92.2 L77.5 94.3 L78.3 96.4 L79 98.4 L79.7 100.4 L80.5 102.3 L81.2 104.1 L81.9 105.9 L82.6 107.4 L83.4 107.9 L84.1 108.3 L84.8 108.8 L85.6 109.3 L86.3 109.8 L87 110.2 L87.8 110.7 L88.5 111.2 L89.2 111.6 L90 112.1 L90.7 112.6 L91.4 113.1 L92.2 113.5 L92.9 114ZM234 108.7 L233 86.5 L232.2 80.2 L231.3 75.4 L230.5 71.4 L229.7 67.8 L228.8 64.5 L228 61.4 L227.2 58.5 L226.4 55.7 L225.5 53.1 L224.7 50.6 L223.9 48.1 L223.1 45.7 L222.2 43.4 L221.4 41.1 L220.6 39 L219.8 36.8 L219 34.7 L218.2 32.7 L217.3 30.7 L216.5 28.7 L215.7 26.8 L214.9 24.9 L214.1 23.1 L213.3 21.3 L212.4 19.5 L211.6 17.8 L210.8 16.1 L210 14.4 L209.2 12.8 L208.4 11.3 L207.6 10.4 L206.8 9.9 L206 9.4 L205.2 9 L204.4 8.5 L203.5 8.1 L202.7 7.6 L201.9 7.1 L201.1 6.7 L200.3 6.2 L199.5 5.7 L198.7 5.3 L197.9 4.8 L197.1 4.4 L196.3 3.9 L195.5 3.4 L194.7 3 L193.9 2.5 L193.9 2.5 L194.8 11 L195.6 15.8 L196.4 19.9 L197.3 23.7 L198.1 27.3 L198.9 30.7 L199.8 34 L200.6 37.2 L201.4 40.3 L202.2 43.4 L203.1 46.4 L203.9 49.3 L204.7 52.2 L205.5 55 L206.4 57.8 L207.2 60.6 L208 63.3 L208.8 66 L209.7 68.7 L210.5 71.3 L211.3 73.9 L212.1 76.4 L212.9 78.9 L213.8 81.4 L214.6 83.9 L215.4 86.3 L216.2 88.7 L217 91.1 L217.9 93.4 L218.7 95.7 L219.5 98 L220.3 100.2 L221.1 101.3 L221.9 101.8 L222.7 102.2 L223.5 102.7 L224.4 103.1 L225.2 103.6 L226 104.1 L226.8 104.5 L227.6 105 L228.4 105.5 L229.2 105.9 L230 106.4 L230.8 106.8 L231.6 107.3 L232.4 107.8 L233.2 108.2 L234 108.7ZM379.1 103.7 L378.2 90.4 L377.3 84.3 L376.4 79.4 L375.4 75 L374.5 71 L373.6 67.3 L372.7 63.8 L371.8 60.4 L370.9 57.2 L369.9 54.1 L369 51.1 L368.1 48.2 L367.2 45.4 L366.3 42.7 L365.3 40.1 L364.4 37.5 L363.5 35 L362.6 32.5 L361.7 30.1 L360.7 27.8 L359.8 25.5 L358.9 23.3 L358 21.1 L357.1 19 L356.2 16.9 L355.2 14.9 L354.3 12.9 L353.4 11.4 L352.5 11 L351.6 10.5 L350.6 10.1 L349.7 9.7 L348.8 9.2 L347.9 8.8 L347 8.4 L346 7.9 L345.1 7.5 L344.2 7.1 L343.3 6.6 L342.4 6.2 L341.5 5.8 L340.5 5.3 L339.6 4.9 L338.7 4.5 L337.8 4 L336.9 3.6 L335.9 3.2 L335 2.7 L334.1 2.3 L334.1 2.3 L335 7.3 L335.9 10.4 L336.9 13.2 L337.8 15.9 L338.7 18.5 L339.6 21 L340.5 23.4 L341.5 25.8 L342.4 28.2 L343.3 30.6 L344.2 32.9 L345.1 35.1 L346 37.4 L347 39.6 L347.9 41.9 L348.8 44.1 L349.7 46.3 L350.6 48.4 L351.6 50.6 L352.5 52.7 L353.4 54.8 L354.3 57 L355.2 59.1 L356.2 61.1 L357.1 63.2 L358 65.3 L358.9 67.3 L359.8 69.3 L360.7 71.3 L361.7 73.3 L362.6 75.3 L363.5 77.3 L364.4 79.2 L365.3 81.2 L366.3 83.1 L367.2 85 L368.1 86.9 L369 88.7 L369.9 90.6 L370.9 92.4 L371.8 94.1 L372.7 95.9 L373.6 97.5 L374.5 99.2 L375.4 100.7 L376.4 102.2 L377.3 102.8 L378.2 103.2 L379.1 103.7ZM520.2 102.1 L519.5 78.4 L518.7 71.1 L517.9 65.6 L517.1 60.8 L516.3 56.6 L515.5 52.7 L514.7 49.1 L513.9 45.7 L513.1 42.4 L512.3 39.3 L511.5 36.3 L510.7 33.5 L509.9 30.7 L509.1 28 L508.3 25.4 L507.5 22.8 L506.7 20.3 L505.9 17.9 L505.1 15.5 L504.2 14.9 L503.4 14.5 L502.6 14.1 L501.8 13.6 L501 13.2 L500.1 12.8 L499.3 12.4 L498.5 11.9 L497.7 11.5 L496.9 11.1 L496 10.6 L495.2 10.2 L494.4 9.8 L493.6 9.4 L492.8 8.9 L492 8.5 L491.1 8.1 L490.3 7.6 L489.5 7.2 L488.7 6.8 L487.9 6.4 L487 5.9 L486.2 5.5 L485.4 5.1 L484.6 4.6 L483.8 4.2 L483 3.8 L482.1 3.4 L481.3 2.9 L480.5 2.5 L480.5 2.5 L481.2 20.3 L482 26.1 L482.8 30.7 L483.6 34.7 L484.4 38.3 L485.2 41.7 L486 44.9 L486.8 47.9 L487.6 50.8 L488.4 53.6 L489.3 56.4 L490.1 59 L490.9 61.6 L491.7 64.1 L492.5 66.6 L493.3 69 L494.1 71.3 L494.9 73.6 L495.7 75.9 L496.5 78.1 L497.3 80.3 L498.1 82.5 L499 84.6 L499.8 86.6 L500.6 88.7 L501.4 90.7 L502.2 92.6 L503 93.1 L503.8 93.5 L504.7 94 L505.5 94.4 L506.3 94.8 L507.1 95.2 L507.9 95.7 L508.7 96.1 L509.6 96.5 L510.4 97 L511.2 97.4 L512 97.8 L512.8 98.2 L513.7 98.7 L514.5 99.1 L515.3 99.5 L516.1 100 L516.9 100.4 L517.7 100.8 L518.6 101.2 L519.4 101.7 L520.2 102.1ZM650.4 101.6 L649.6 96 L648.8 92.2 L648 88.8 L647.2 85.7 L646.4 82.7 L645.6 79.8 L644.8 77 L644 74.2 L643.3 71.6 L642.5 69 L641.7 66.4 L640.9 63.9 L640.1 61.5 L639.3 59.1 L638.5 56.7 L637.7 54.4 L636.9 52.1 L636.1 49.9 L635.3 47.7 L634.5 45.5 L633.7 43.4 L632.9 41.3 L632.1 39.2 L631.3 37.2 L630.6 35.1 L629.8 33.2 L629 31.2 L628.2 29.3 L627.4 27.4 L626.6 25.6 L625.8 23.8 L625 22 L624.2 20.3 L623.4 18.6 L622.6 16.9 L621.8 15.3 L621 13.7 L620.2 12.2 L619.4 10.7 L618.6 9.3 L617.9 8 L617.1 6.7 L616.3 5.8 L615.5 5.3 L614.7 4.9 L613.9 4.5 L613.1 4.1 L612.3 3.6 L611.5 3.2 L611.5 3.2 L612.3 8.8 L613.1 12.6 L613.9 16 L614.7 19.1 L615.5 22.1 L616.3 25 L617.1 27.8 L617.9 30.6 L618.6 33.2 L619.4 35.8 L620.2 38.4 L621 40.9 L621.8 43.3 L622.6 45.7 L623.4 48.1 L624.2 50.4 L625 52.7 L625.8 54.9 L626.6 57.1 L627.4 59.3 L628.2 61.4 L629 63.5 L629.8 65.6 L630.6 67.6 L631.3 69.7 L632.1 71.6 L632.9 73.6 L633.7 75.5 L634.5 77.4 L635.3 79.2 L636.1 81 L636.9 82.8 L637.7 84.5 L638.5 86.2 L639.3 87.9 L640.1 89.5 L640.9 91.1 L641.7 92.6 L642.5 94.1 L643.3 95.5 L644 96.8 L644.8 98.1 L645.6 99 L646.4 99.5 L647.2 99.9 L648 100.3 L648.8 100.7 L649.6 101.2 L650.4 101.6Z" fill="#edb120" mask="url(#mH)"/>
<path d="M57.5 136 L56.8 126.8 L56.1 121.7 L55.4 117.4 L54.6 113.5 L53.9 109.8 L53.2 106.3 L52.5 103 L51.7 99.7 L51 96.6 L50.3 93.6 L49.6 90.6 L48.9 87.7 L48.1 84.9 L47.4 82.1 L46.7 79.4 L46 76.7 L45.2 74.1 L44.5 71.6 L43.8 69 L43.1 66.6 L42.3 64.1 L41.6 61.8 L40.9 59.4 L40.1 57.1 L39.4 54.8 L38.7 52.6 L38 50.4 L37.2 48.3 L36.5 46.2 L35.8 44.1 L35.1 42.1 L34.3 40.2 L33.6 38.3 L32.9 36.4 L32.1 34.6 L31.4 32.8 L30.7 31.1 L30 30.3 L29.2 29.8 L28.5 29.3 L27.8 28.9 L27 28.4 L26.3 27.9 L25.6 27.5 L24.8 27 L24.1 26.5 L23.4 26 L22.6 25.6 L21.9 25.1 L21.9 25.1 L22.6 33.8 L23.3 38.7 L24 42.8 L24.8 46.7 L25.5 50.2 L26.2 53.6 L26.9 56.9 L27.7 60.1 L28.4 63.1 L29.1 66.1 L29.8 69 L30.6 71.9 L31.3 74.7 L32 77.4 L32.7 80.1 L33.5 82.7 L34.2 85.3 L34.9 87.8 L35.6 90.3 L36.4 92.8 L37.1 95.2 L37.8 97.6 L38.5 99.9 L39.3 102.2 L40 104.5 L40.7 106.7 L41.4 108.9 L42.2 111.1 L42.9 113.2 L43.6 115.2 L44.3 117.3 L45.1 119.3 L45.8 121.2 L46.5 123.1 L47.3 124.9 L48 126.7 L48.7 128.5 L49.4 130.2 L50.2 131.3 L50.9 131.8 L51.6 132.2 L52.4 132.7 L53.1 133.2 L53.8 133.6 L54.6 134.1 L55.3 134.6 L56 135.1 L56.8 135.5 L57.5 136ZM193.6 130.9 L192.7 114.4 L191.8 109.3 L191 105.3 L190.2 101.8 L189.3 98.6 L188.5 95.6 L187.7 92.8 L186.9 90.1 L186 87.5 L185.2 85 L184.4 82.6 L183.6 80.2 L182.8 77.9 L181.9 75.6 L181.1 73.4 L180.3 71.2 L179.5 69 L178.7 66.9 L177.8 64.8 L177 62.8 L176.2 60.8 L175.4 58.8 L174.6 56.8 L173.8 54.9 L172.9 53 L172.1 51.1 L171.3 49.2 L170.5 47.4 L169.7 45.6 L168.9 43.8 L168 42.1 L167.2 40.4 L166.4 38.7 L165.6 37.1 L164.8 35.5 L164 33.9 L163.2 32.3 L162.4 30.9 L161.5 29.4 L160.7 28.9 L159.9 28.4 L159.1 27.9 L158.3 27.5 L157.5 27 L156.7 26.6 L155.9 26.1 L155.1 25.6 L154.3 25.2 L153.5 24.7 L153.5 24.7 L154.4 32.1 L155.2 36.4 L156 40.2 L156.9 43.7 L157.7 47 L158.5 50.2 L159.3 53.3 L160.2 56.4 L161 59.3 L161.8 62.2 L162.6 65 L163.5 67.8 L164.3 70.6 L165.1 73.3 L165.9 76 L166.8 78.7 L167.6 81.3 L168.4 83.9 L169.2 86.4 L170 89 L170.9 91.5 L171.7 94 L172.5 96.4 L173.3 98.9 L174.1 101.3 L175 103.7 L175.8 106 L176.6 108.4 L177.4 110.7 L178.2 113 L179.1 115.2 L179.9 117.4 L180.7 119.6 L181.5 121.8 L182.3 123.9 L183.1 124.9 L184 125.3 L184.8 125.8 L185.6 126.3 L186.4 126.7 L187.2 127.2 L188 127.7 L188.8 128.1 L189.6 128.6 L190.4 129 L191.2 129.5 L192 130 L192.8 130.4 L193.6 130.9ZM331.1 126.1 L330.2 116.5 L329.3 111.8 L328.4 107.8 L327.4 104.2 L326.5 100.8 L325.6 97.7 L324.7 94.6 L323.8 91.7 L322.9 88.9 L321.9 86.1 L321 83.5 L320.1 80.8 L319.2 78.3 L318.3 75.8 L317.3 73.3 L316.4 70.9 L315.5 68.5 L314.6 66.2 L313.7 63.9 L312.7 61.7 L311.8 59.5 L310.9 57.3 L310 55.2 L309.1 53 L308.2 51 L307.2 48.9 L306.3 46.9 L305.4 45 L304.5 43.1 L303.6 41.2 L302.6 39.3 L301.7 37.5 L300.8 35.7 L299.9 34 L299 32.3 L298 30.7 L297.1 29.9 L296.2 29.5 L295.3 29 L294.4 28.6 L293.5 28.2 L292.5 27.7 L291.6 27.3 L290.7 26.9 L289.8 26.4 L288.9 26 L287.9 25.6 L287 25.1 L286.1 24.7 L286.1 24.7 L287 29.2 L287.9 32.1 L288.9 34.8 L289.8 37.3 L290.7 39.8 L291.6 42.3 L292.5 44.6 L293.5 47 L294.4 49.3 L295.3 51.6 L296.2 53.8 L297.1 56.1 L298 58.3 L299 60.5 L299.9 62.7 L300.8 64.9 L301.7 67.1 L302.6 69.2 L303.6 71.4 L304.5 73.5 L305.4 75.6 L306.3 77.7 L307.2 79.8 L308.2 81.9 L309.1 83.9 L310 86 L310.9 88 L311.8 90.1 L312.7 92.1 L313.7 94.1 L314.6 96.1 L315.5 98.1 L316.4 100.1 L317.3 102 L318.3 104 L319.2 105.9 L320.1 107.8 L321 109.7 L321.9 111.6 L322.9 113.4 L323.8 115.3 L324.7 117 L325.6 118.8 L326.5 120.5 L327.4 122.2 L328.4 123.7 L329.3 125.2 L330.2 125.6 L331.1 126.1ZM481.6 122.1 L480.8 111 L480 106.7 L479.2 103.2 L478.4 100.1 L477.6 97.1 L476.8 94.3 L476 91.6 L475.2 89 L474.4 86.5 L473.6 84 L472.8 81.5 L472 79.2 L471.2 76.8 L470.4 74.5 L469.5 72.2 L468.7 70 L467.9 67.7 L467.1 65.5 L466.3 63.4 L465.5 61.2 L464.7 59.1 L463.9 57 L463.1 54.9 L462.3 52.9 L461.4 50.9 L460.6 48.8 L459.8 46.9 L459 44.9 L458.2 42.9 L457.4 41 L456.6 39.1 L455.8 37.3 L455 35.4 L454.2 33.6 L453.3 31.8 L452.5 30.1 L451.7 28.3 L450.9 27.2 L450.1 26.8 L449.3 26.4 L448.4 25.9 L447.6 25.5 L446.8 25.1 L446 24.6 L445.2 24.2 L444.4 23.8 L443.5 23.4 L442.7 22.9 L441.9 22.5 L441.9 22.5 L442.6 37.8 L443.4 43.1 L444.2 47.3 L445 50.9 L445.8 54.3 L446.6 57.5 L447.5 60.5 L448.3 63.4 L449.1 66.2 L449.9 68.8 L450.7 71.5 L451.5 74 L452.3 76.5 L453.1 78.9 L453.9 81.3 L454.7 83.7 L455.5 86 L456.3 88.3 L457.1 90.5 L458 92.7 L458.8 94.9 L459.6 97 L460.4 99.1 L461.2 101.1 L462 103.2 L462.8 105.2 L463.6 107.1 L464.4 109.1 L465.2 111 L466.1 112.9 L466.9 114.4 L467.7 114.8 L468.5 115.2 L469.3 115.7 L470.1 116.1 L471 116.5 L471.8 117 L472.6 117.4 L473.4 117.8 L474.2 118.2 L475.1 118.7 L475.9 119.1 L476.7 119.5 L477.5 120 L478.3 120.4 L479.1 120.8 L480 121.2 L480.8 121.7 L481.6 122.1ZM610.8 122 L610 117.3 L609.2 113.9 L608.4 110.8 L607.6 108 L606.8 105.2 L606 102.5 L605.2 99.9 L604.4 97.3 L603.7 94.8 L602.9 92.4 L602.1 89.9 L601.3 87.6 L600.5 85.2 L599.7 82.9 L598.9 80.6 L598.1 78.4 L597.3 76.2 L596.5 74 L595.7 71.8 L594.9 69.7 L594.1 67.6 L593.3 65.5 L592.5 63.5 L591.7 61.4 L591 59.4 L590.2 57.4 L589.4 55.5 L588.6 53.5 L587.8 51.6 L587 49.7 L586.2 47.9 L585.4 46.1 L584.6 44.3 L583.8 42.5 L583 40.8 L582.2 39 L581.4 37.4 L580.6 35.7 L579.8 34.1 L579 32.6 L578.3 31 L577.5 29.6 L576.7 28.2 L575.9 26.9 L575.1 25.6 L574.3 24.9 L573.5 24.5 L572.7 24 L571.9 23.6 L571.9 23.6 L572.7 28.3 L573.5 31.7 L574.3 34.8 L575.1 37.6 L575.9 40.4 L576.7 43.1 L577.5 45.7 L578.3 48.3 L579 50.8 L579.8 53.2 L580.6 55.7 L581.4 58 L582.2 60.4 L583 62.7 L583.8 65 L584.6 67.2 L585.4 69.4 L586.2 71.6 L587 73.8 L587.8 75.9 L588.6 78 L589.4 80.1 L590.2 82.1 L591 84.2 L591.7 86.2 L592.5 88.2 L593.3 90.1 L594.1 92.1 L594.9 94 L595.7 95.9 L596.5 97.7 L597.3 99.5 L598.1 101.3 L598.9 103.1 L599.7 104.8 L600.5 106.6 L601.3 108.2 L602.1 109.9 L602.9 111.5 L603.7 113 L604.4 114.6 L605.2 116 L606 117.4 L606.8 118.7 L607.6 120 L608.4 120.7 L609.2 121.1 L610 121.6 L610.8 122Z" fill="#0072bd" mask="url(#mM)"/>
<path d="M75.2 125 L74.5 118.3 L73.8 114.2 L73 110.6 L72.3 107.3 L71.6 104.1 L70.9 101.1 L70.2 98.1 L69.4 95.2 L68.7 92.4 L68 89.6 L67.3 86.9 L66.5 84.2 L65.8 81.6 L65.1 79 L64.4 76.5 L63.6 74 L62.9 71.5 L62.2 69 L61.4 66.6 L60.7 64.2 L60 61.8 L59.3 59.5 L58.5 57.2 L57.8 54.9 L57.1 52.6 L56.4 50.4 L55.6 48.2 L54.9 46 L54.2 43.8 L53.5 41.7 L52.7 39.6 L52 37.5 L51.3 35.5 L50.5 33.5 L49.8 31.5 L49.1 29.6 L48.4 27.7 L47.6 25.8 L46.9 24 L46.2 22.2 L45.5 20.5 L44.7 18.9 L44 17.3 L43.3 16.5 L42.5 16 L41.8 15.5 L41.1 15 L40.3 14.6 L39.6 14.1 L39.6 14.1 L40.3 20.8 L41 24.9 L41.8 28.5 L42.5 31.8 L43.2 35 L43.9 38 L44.6 41 L45.4 43.9 L46.1 46.7 L46.8 49.5 L47.5 52.2 L48.3 54.9 L49 57.5 L49.7 60.1 L50.4 62.6 L51.2 65.1 L51.9 67.6 L52.6 70.1 L53.4 72.5 L54.1 74.9 L54.8 77.3 L55.5 79.6 L56.3 81.9 L57 84.2 L57.7 86.5 L58.4 88.7 L59.2 90.9 L59.9 93.1 L60.6 95.3 L61.3 97.4 L62.1 99.5 L62.8 101.6 L63.5 103.6 L64.3 105.6 L65 107.6 L65.7 109.5 L66.4 111.4 L67.2 113.3 L67.9 115.1 L68.6 116.9 L69.3 118.6 L70.1 120.2 L70.8 121.8 L71.5 122.6 L72.3 123.1 L73 123.6 L73.7 124.1 L74.5 124.5 L75.2 125ZM213.8 119.8 L212.9 106.2 L212 101.7 L211.2 98 L210.4 94.8 L209.6 91.8 L208.7 89 L207.9 86.3 L207.1 83.7 L206.3 81.2 L205.5 78.7 L204.6 76.4 L203.8 74 L203 71.7 L202.2 69.5 L201.4 67.3 L200.5 65.1 L199.7 62.9 L198.9 60.8 L198.1 58.7 L197.3 56.6 L196.4 54.6 L195.6 52.6 L194.8 50.6 L194 48.6 L193.2 46.6 L192.4 44.7 L191.5 42.8 L190.7 40.9 L189.9 39 L189.1 37.1 L188.3 35.3 L187.5 33.5 L186.7 31.7 L185.8 30 L185 28.3 L184.2 26.6 L183.4 24.9 L182.6 23.3 L181.8 21.7 L181 20.2 L180.1 18.7 L179.3 17.2 L178.5 16.4 L177.7 15.9 L176.9 15.5 L176.1 15 L175.3 14.5 L174.5 14.1 L173.7 13.6 L173.7 13.6 L174.6 21.4 L175.4 25.8 L176.2 29.7 L177.1 33.3 L177.9 36.7 L178.7 40 L179.5 43.2 L180.4 46.3 L181.2 49.3 L182 52.2 L182.9 55.1 L183.7 58 L184.5 60.8 L185.3 63.5 L186.1 66.3 L187 68.9 L187.8 71.6 L188.6 74.2 L189.4 76.8 L190.3 79.4 L191.1 81.9 L191.9 84.4 L192.7 86.9 L193.5 89.4 L194.4 91.8 L195.2 94.2 L196 96.6 L196.8 98.9 L197.6 101.2 L198.5 103.5 L199.3 105.8 L200.1 108 L200.9 110.2 L201.7 112.3 L202.5 113.3 L203.3 113.8 L204.2 114.2 L205 114.7 L205.8 115.2 L206.6 115.6 L207.4 116.1 L208.2 116.6 L209 117 L209.8 117.5 L210.6 117.9 L211.4 118.4 L212.2 118.9 L213 119.3 L213.8 119.8ZM355.1 114.9 L354.2 106.4 L353.3 102 L352.4 98.3 L351.4 94.9 L350.5 91.8 L349.6 88.8 L348.7 85.9 L347.8 83.1 L346.9 80.3 L345.9 77.7 L345 75.1 L344.1 72.6 L343.2 70.1 L342.3 67.6 L341.3 65.2 L340.4 62.9 L339.5 60.5 L338.6 58.2 L337.7 56 L336.7 53.8 L335.8 51.6 L334.9 49.4 L334 47.3 L333.1 45.2 L332.2 43.1 L331.2 41.1 L330.3 39.1 L329.4 37.1 L328.5 35.1 L327.6 33.2 L326.6 31.3 L325.7 29.5 L324.8 27.7 L323.9 25.9 L323 24.2 L322 22.5 L321.1 20.8 L320.2 19.2 L319.3 17.8 L318.4 17.4 L317.5 17 L316.5 16.5 L315.6 16.1 L314.7 15.7 L313.8 15.2 L312.9 14.8 L311.9 14.4 L311 13.9 L310.1 13.5 L310.1 13.5 L311 18.8 L311.9 22 L312.9 24.9 L313.8 27.6 L314.7 30.2 L315.6 32.8 L316.5 35.2 L317.5 37.7 L318.4 40.1 L319.3 42.4 L320.2 44.8 L321.1 47.1 L322 49.4 L323 51.6 L323.9 53.8 L324.8 56.1 L325.7 58.3 L326.6 60.4 L327.6 62.6 L328.5 64.7 L329.4 66.9 L330.3 69 L331.2 71.1 L332.2 73.2 L333.1 75.2 L334 77.3 L334.9 79.3 L335.8 81.4 L336.7 83.4 L337.7 85.4 L338.6 87.3 L339.5 89.3 L340.4 91.2 L341.3 93.2 L342.3 95.1 L343.2 96.9 L344.1 98.8 L345 100.6 L345.9 102.4 L346.9 104.2 L347.8 106 L348.7 107.7 L349.6 109.3 L350.5 110.9 L351.4 112.4 L352.4 113.6 L353.3 114 L354.2 114.4 L355.1 114.9ZM500.9 112.1 L500.1 101.7 L499.3 97.6 L498.5 94.2 L497.7 91.1 L496.9 88.3 L496.1 85.5 L495.3 82.9 L494.5 80.3 L493.7 77.8 L492.9 75.3 L492.1 72.9 L491.3 70.6 L490.5 68.3 L489.6 66 L488.8 63.7 L488 61.5 L487.2 59.3 L486.4 57.1 L485.6 54.9 L484.8 52.8 L484 50.7 L483.2 48.6 L482.4 46.5 L481.6 44.5 L480.7 42.4 L479.9 40.4 L479.1 38.4 L478.3 36.4 L477.5 34.5 L476.7 32.6 L475.9 30.7 L475.1 28.8 L474.3 26.9 L473.4 25.1 L472.6 23.3 L471.8 21.5 L471 19.8 L470.2 18.1 L469.4 16.8 L468.6 16.4 L467.7 15.9 L466.9 15.5 L466.1 15.1 L465.3 14.6 L464.5 14.2 L463.7 13.8 L462.8 13.4 L462 12.9 L461.2 12.5 L461.2 12.5 L462 24 L462.8 28.3 L463.6 31.9 L464.4 35.1 L465.2 38.1 L466 40.9 L466.8 43.6 L467.6 46.3 L468.4 48.8 L469.2 51.3 L470 53.8 L470.8 56.2 L471.6 58.5 L472.4 60.8 L473.3 63.1 L474.1 65.4 L474.9 67.6 L475.7 69.8 L476.5 72 L477.3 74.1 L478.1 76.3 L478.9 78.4 L479.7 80.4 L480.5 82.5 L481.3 84.5 L482.2 86.5 L483 88.5 L483.8 90.5 L484.6 92.4 L485.4 94.4 L486.2 96.2 L487 98.1 L487.8 99.9 L488.6 101.8 L489.5 103.5 L490.3 105.3 L491.1 107 L491.9 107.4 L492.7 107.8 L493.5 108.2 L494.4 108.7 L495.2 109.1 L496 109.5 L496.8 110 L497.6 110.4 L498.4 110.8 L499.3 111.2 L500.1 111.7 L500.9 112.1ZM630.6 111.8 L629.8 107.1 L629 103.7 L628.2 100.6 L627.4 97.8 L626.6 95 L625.8 92.3 L625 89.7 L624.2 87.1 L623.5 84.6 L622.7 82.2 L621.9 79.7 L621.1 77.4 L620.3 75 L619.5 72.7 L618.7 70.4 L617.9 68.2 L617.1 66 L616.3 63.8 L615.5 61.6 L614.7 59.5 L613.9 57.4 L613.1 55.3 L612.3 53.3 L611.5 51.2 L610.8 49.2 L610 47.2 L609.2 45.3 L608.4 43.3 L607.6 41.4 L606.8 39.5 L606 37.7 L605.2 35.9 L604.4 34.1 L603.6 32.3 L602.8 30.6 L602 28.8 L601.2 27.2 L600.4 25.5 L599.6 23.9 L598.8 22.4 L598.1 20.8 L597.3 19.4 L596.5 18 L595.7 16.7 L594.9 15.4 L594.1 14.7 L593.3 14.3 L592.5 13.8 L591.7 13.4 L591.7 13.4 L592.5 18.1 L593.3 21.5 L594.1 24.6 L594.9 27.4 L595.7 30.2 L596.5 32.9 L597.3 35.5 L598.1 38.1 L598.8 40.6 L599.6 43 L600.4 45.5 L601.2 47.8 L602 50.2 L602.8 52.5 L603.6 54.8 L604.4 57 L605.2 59.2 L606 61.4 L606.8 63.6 L607.6 65.7 L608.4 67.8 L609.2 69.9 L610 71.9 L610.8 74 L611.5 76 L612.3 78 L613.1 79.9 L613.9 81.9 L614.7 83.8 L615.5 85.7 L616.3 87.5 L617.1 89.3 L617.9 91.1 L618.7 92.9 L619.5 94.6 L620.3 96.4 L621.1 98 L621.9 99.7 L622.7 101.3 L623.5 102.8 L624.2 104.4 L625 105.8 L625.8 107.2 L626.6 108.5 L627.4 109.8 L628.2 110.5 L629 110.9 L629.8 111.4 L630.6 111.8Z" fill="#d95319" mask="url(#mM)"/>
<path d="M92.9 114 L92.2 105.3 L91.5 100.4 L90.8 96.3 L90 92.4 L89.3 88.9 L88.6 85.5 L87.9 82.2 L87.1 79 L86.4 76 L85.7 73 L85 70.1 L84.2 67.2 L83.5 64.4 L82.8 61.7 L82.1 59 L81.3 56.4 L80.6 53.8 L79.9 51.3 L79.2 48.8 L78.4 46.3 L77.7 43.9 L77 41.5 L76.3 39.2 L75.5 36.9 L74.8 34.6 L74.1 32.4 L73.4 30.2 L72.6 28 L71.9 25.9 L71.2 23.9 L70.5 21.8 L69.7 19.8 L69 17.9 L68.3 16 L67.5 14.2 L66.8 12.4 L66.1 10.6 L65.4 8.9 L64.6 7.8 L63.9 7.3 L63.2 6.9 L62.4 6.4 L61.7 5.9 L61 5.5 L60.2 5 L59.5 4.5 L58.8 4 L58 3.6 L57.3 3.1 L57.3 3.1 L58 10.8 L58.7 15.3 L59.4 19.2 L60.2 22.7 L60.9 26.1 L61.6 29.3 L62.3 32.5 L63.1 35.5 L63.8 38.4 L64.5 41.3 L65.2 44.1 L66 46.9 L66.7 49.6 L67.4 52.2 L68.1 54.9 L68.9 57.4 L69.6 60 L70.3 62.5 L71 64.9 L71.8 67.4 L72.5 69.7 L73.2 72.1 L73.9 74.4 L74.7 76.7 L75.4 79 L76.1 81.2 L76.9 83.4 L77.6 85.6 L78.3 87.7 L79 89.8 L79.8 91.9 L80.5 93.9 L81.2 95.9 L81.9 97.9 L82.7 99.8 L83.4 101.6 L84.1 103.5 L84.9 105.2 L85.6 106.9 L86.3 108.6 L87 110.2 L87.8 110.7 L88.5 111.2 L89.2 111.6 L90 112.1 L90.7 112.6 L91.4 113.1 L92.2 113.5 L92.9 114ZM234 108.7 L233.1 92.2 L232.2 87.1 L231.4 83.1 L230.6 79.6 L229.7 76.4 L228.9 73.4 L228.1 70.6 L227.3 67.9 L226.4 65.3 L225.6 62.8 L224.8 60.4 L224 58 L223.2 55.7 L222.3 53.4 L221.5 51.2 L220.7 49 L219.9 46.8 L219.1 44.7 L218.2 42.6 L217.4 40.6 L216.6 38.6 L215.8 36.6 L215 34.6 L214.2 32.7 L213.3 30.8 L212.5 28.9 L211.7 27 L210.9 25.2 L210.1 23.4 L209.3 21.6 L208.4 19.9 L207.6 18.2 L206.8 16.5 L206 14.9 L205.2 13.3 L204.4 11.7 L203.6 10.1 L202.8 8.7 L201.9 7.2 L201.1 6.7 L200.3 6.2 L199.5 5.7 L198.7 5.3 L197.9 4.8 L197.1 4.4 L196.3 3.9 L195.5 3.4 L194.7 3 L193.9 2.5 L193.9 2.5 L194.8 9.2 L195.6 13.2 L196.4 16.7 L197.2 20 L198.1 23.2 L198.9 26.2 L199.7 29.2 L200.5 32.1 L201.4 34.9 L202.2 37.7 L203 40.5 L203.8 43.2 L204.7 45.9 L205.5 48.5 L206.3 51.1 L207.1 53.7 L208 56.3 L208.8 58.8 L209.6 61.3 L210.4 63.8 L211.2 66.3 L212.1 68.7 L212.9 71.1 L213.7 73.5 L214.5 75.9 L215.3 78.2 L216.2 80.6 L217 82.9 L217.8 85.2 L218.6 87.4 L219.4 89.7 L220.3 91.9 L221.1 94.1 L221.9 96.2 L222.7 98.3 L223.5 100.4 L224.3 102.5 L225.2 103.6 L226 104.1 L226.8 104.5 L227.6 105 L228.4 105.5 L229.2 105.9 L230 106.4 L230.8 106.8 L231.6 107.3 L232.4 107.8 L233.2 108.2 L234 108.7ZM379.1 103.7 L378.2 94.1 L377.3 89.4 L376.4 85.4 L375.4 81.8 L374.5 78.4 L373.6 75.3 L372.7 72.2 L371.8 69.3 L370.9 66.5 L369.9 63.7 L369 61.1 L368.1 58.4 L367.2 55.9 L366.3 53.4 L365.3 50.9 L364.4 48.5 L363.5 46.1 L362.6 43.8 L361.7 41.5 L360.7 39.3 L359.8 37.1 L358.9 34.9 L358 32.8 L357.1 30.6 L356.2 28.6 L355.2 26.5 L354.3 24.5 L353.4 22.6 L352.5 20.7 L351.6 18.8 L350.6 16.9 L349.7 15.1 L348.8 13.3 L347.9 11.6 L347 9.9 L346 8.3 L345.1 7.5 L344.2 7.1 L343.3 6.6 L342.4 6.2 L341.5 5.8 L340.5 5.3 L339.6 4.9 L338.7 4.5 L337.8 4 L336.9 3.6 L335.9 3.2 L335 2.7 L334.1 2.3 L334.1 2.3 L335 6.5 L335.9 9.3 L336.9 12 L337.8 14.5 L338.7 16.9 L339.6 19.3 L340.5 21.6 L341.5 23.9 L342.4 26.2 L343.3 28.5 L344.2 30.7 L345.1 33 L346 35.2 L347 37.4 L347.9 39.5 L348.8 41.7 L349.7 43.9 L350.6 46 L351.6 48.1 L352.5 50.3 L353.4 52.4 L354.3 54.5 L355.2 56.6 L356.2 58.6 L357.1 60.7 L358 62.8 L358.9 64.8 L359.8 66.8 L360.7 68.9 L361.7 70.9 L362.6 72.9 L363.5 74.9 L364.4 76.9 L365.3 78.9 L366.3 80.8 L367.2 82.8 L368.1 84.7 L369 86.6 L369.9 88.5 L370.9 90.4 L371.8 92.2 L372.7 94 L373.6 95.8 L374.5 97.6 L375.4 99.3 L376.4 100.9 L377.3 102.4 L378.2 103.2 L379.1 103.7ZM520.2 102.1 L519.5 85.4 L518.7 79.8 L517.9 75.4 L517.1 71.5 L516.3 68 L515.5 64.7 L514.7 61.6 L513.9 58.6 L513.1 55.8 L512.2 53 L511.4 50.3 L510.6 47.7 L509.8 45.2 L509 42.7 L508.2 40.3 L507.4 37.9 L506.6 35.6 L505.8 33.3 L505 31 L504.2 28.8 L503.4 26.6 L502.5 24.5 L501.7 22.4 L500.9 20.3 L500.1 18.3 L499.3 16.3 L498.5 14.3 L497.7 12.4 L496.9 11.1 L496 10.6 L495.2 10.2 L494.4 9.8 L493.6 9.4 L492.8 8.9 L492 8.5 L491.1 8.1 L490.3 7.6 L489.5 7.2 L488.7 6.8 L487.9 6.4 L487 5.9 L486.2 5.5 L485.4 5.1 L484.6 4.6 L483.8 4.2 L483 3.8 L482.1 3.4 L481.3 2.9 L480.5 2.5 L480.5 2.5 L481.3 15.7 L482 20.5 L482.9 24.3 L483.7 27.7 L484.5 30.9 L485.3 33.9 L486.1 36.7 L486.9 39.5 L487.7 42.2 L488.5 44.7 L489.3 47.3 L490.1 49.7 L490.9 52.2 L491.7 54.5 L492.5 56.9 L493.3 59.2 L494.1 61.4 L495 63.7 L495.8 65.9 L496.6 68 L497.4 70.2 L498.2 72.3 L499 74.4 L499.8 76.4 L500.6 78.5 L501.4 80.5 L502.2 82.4 L503.1 84.4 L503.9 86.3 L504.7 88.2 L505.5 90.1 L506.3 91.9 L507.1 93.7 L507.9 95.5 L508.7 96.1 L509.6 96.5 L510.4 97 L511.2 97.4 L512 97.8 L512.8 98.2 L513.7 98.7 L514.5 99.1 L515.3 99.5 L516.1 100 L516.9 100.4 L517.7 100.8 L518.6 101.2 L519.4 101.7 L520.2 102.1ZM650.4 101.6 L649.6 96.5 L648.8 93 L648 89.8 L647.2 86.8 L646.4 83.9 L645.6 81.2 L644.8 78.5 L644 75.8 L643.3 73.3 L642.5 70.8 L641.7 68.3 L640.9 65.9 L640.1 63.5 L639.3 61.2 L638.5 58.8 L637.7 56.6 L636.9 54.3 L636.1 52.1 L635.3 49.9 L634.5 47.8 L633.7 45.7 L632.9 43.6 L632.1 41.5 L631.3 39.5 L630.6 37.5 L629.8 35.5 L629 33.5 L628.2 31.6 L627.4 29.7 L626.6 27.8 L625.8 26 L625 24.2 L624.2 22.4 L623.4 20.7 L622.6 19 L621.8 17.3 L621 15.7 L620.2 14.1 L619.4 12.5 L618.6 11 L617.9 9.6 L617.1 8.2 L616.3 6.9 L615.5 5.6 L614.7 4.9 L613.9 4.5 L613.1 4.1 L612.3 3.6 L611.5 3.2 L611.5 3.2 L612.3 8.3 L613.1 11.8 L613.9 15 L614.7 18 L615.5 20.9 L616.3 23.6 L617.1 26.3 L617.9 29 L618.6 31.5 L619.4 34 L620.2 36.5 L621 38.9 L621.8 41.3 L622.6 43.6 L623.4 46 L624.2 48.2 L625 50.5 L625.8 52.7 L626.6 54.9 L627.4 57 L628.2 59.1 L629 61.2 L629.8 63.3 L630.6 65.3 L631.3 67.3 L632.1 69.3 L632.9 71.3 L633.7 73.2 L634.5 75.1 L635.3 77 L636.1 78.8 L636.9 80.6 L637.7 82.4 L638.5 84.1 L639.3 85.8 L640.1 87.5 L640.9 89.1 L641.7 90.7 L642.5 92.3 L643.3 93.8 L644 95.2 L644.8 96.6 L645.6 97.9 L646.4 99.2 L647.2 99.9 L648 100.3 L648.8 100.7 L649.6 101.2 L650.4 101.6Z" fill="#edb120" mask="url(#mM)"/>
<path d="M57.5 136 L56.8 129.5 L56.1 125.6 L55.3 122.1 L54.6 118.8 L53.9 115.6 L53.2 112.6 L52.4 109.7 L51.7 106.9 L51 104.1 L50.3 101.3 L49.6 98.6 L48.8 96 L48.1 93.4 L47.4 90.8 L46.6 88.3 L45.9 85.8 L45.2 83.3 L44.5 80.9 L43.7 78.5 L43 76.1 L42.3 73.7 L41.6 71.4 L40.8 69 L40.1 66.8 L39.4 64.5 L38.7 62.3 L37.9 60 L37.2 57.9 L36.5 55.7 L35.8 53.6 L35 51.4 L34.3 49.4 L33.6 47.3 L32.8 45.3 L32.1 43.3 L31.4 41.3 L30.7 39.4 L29.9 37.5 L29.2 35.7 L28.5 33.9 L27.7 32.2 L27 30.5 L26.3 28.9 L25.6 27.5 L24.8 27 L24.1 26.5 L23.4 26 L22.6 25.6 L21.9 25.1 L21.9 25.1 L22.6 31.6 L23.3 35.5 L24.1 39 L24.8 42.3 L25.5 45.5 L26.2 48.5 L27 51.4 L27.7 54.2 L28.4 57 L29.1 59.8 L29.8 62.5 L30.6 65.1 L31.3 67.7 L32 70.3 L32.8 72.8 L33.5 75.3 L34.2 77.8 L34.9 80.2 L35.7 82.6 L36.4 85 L37.1 87.4 L37.8 89.7 L38.6 92.1 L39.3 94.3 L40 96.6 L40.7 98.8 L41.5 101.1 L42.2 103.2 L42.9 105.4 L43.6 107.5 L44.4 109.7 L45.1 111.7 L45.8 113.8 L46.6 115.8 L47.3 117.8 L48 119.8 L48.7 121.7 L49.5 123.6 L50.2 125.4 L50.9 127.2 L51.7 128.9 L52.4 130.6 L53.1 132.2 L53.8 133.6 L54.6 134.1 L55.3 134.6 L56 135.1 L56.8 135.5 L57.5 136ZM193.6 130.9 L192.7 119.2 L191.9 115.1 L191 111.7 L190.2 108.6 L189.4 105.7 L188.6 103 L187.7 100.4 L186.9 97.9 L186.1 95.5 L185.3 93.1 L184.5 90.7 L183.6 88.4 L182.8 86.1 L182 83.9 L181.2 81.7 L180.4 79.5 L179.5 77.4 L178.7 75.2 L177.9 73.1 L177.1 71 L176.3 69 L175.5 66.9 L174.6 64.9 L173.8 62.9 L173 60.9 L172.2 58.9 L171.4 56.9 L170.6 55 L169.7 53.1 L168.9 51.2 L168.1 49.3 L167.3 47.4 L166.5 45.6 L165.7 43.8 L164.8 42 L164 40.2 L163.2 38.5 L162.4 36.8 L161.6 35.1 L160.8 33.4 L160 31.8 L159.1 30.3 L158.3 28.8 L157.5 27.3 L156.7 26.6 L155.9 26.1 L155.1 25.6 L154.3 25.2 L153.5 24.7 L153.5 24.7 L154.3 30.4 L155.2 34 L156 37.3 L156.8 40.4 L157.7 43.3 L158.5 46.2 L159.3 49 L160.1 51.8 L161 54.5 L161.8 57.1 L162.6 59.7 L163.4 62.3 L164.2 64.9 L165.1 67.4 L165.9 70 L166.7 72.5 L167.5 74.9 L168.3 77.4 L169.2 79.8 L170 82.3 L170.8 84.7 L171.6 87 L172.4 89.4 L173.3 91.8 L174.1 94.1 L174.9 96.4 L175.7 98.7 L176.5 101 L177.4 103.2 L178.2 105.5 L179 107.7 L179.8 109.9 L180.6 112.1 L181.5 114.2 L182.3 116.4 L183.1 118.5 L183.9 120.5 L184.7 122.6 L185.5 124.6 L186.4 126.5 L187.2 127.2 L188 127.7 L188.8 128.1 L189.6 128.6 L190.4 129 L191.2 129.5 L192 130 L192.8 130.4 L193.6 130.9ZM331.1 126.1 L330.2 120.5 L329.3 117.2 L328.4 114.3 L327.4 111.5 L326.5 108.8 L325.6 106.2 L324.7 103.7 L323.8 101.3 L322.9 98.8 L321.9 96.4 L321 94.1 L320.1 91.8 L319.2 89.5 L318.3 87.2 L317.3 85 L316.4 82.7 L315.5 80.5 L314.6 78.3 L313.7 76.2 L312.7 74 L311.8 71.9 L310.9 69.8 L310 67.7 L309.1 65.6 L308.2 63.5 L307.2 61.4 L306.3 59.4 L305.4 57.4 L304.5 55.4 L303.6 53.4 L302.6 51.4 L301.7 49.5 L300.8 47.6 L299.9 45.6 L299 43.8 L298 41.9 L297.1 40 L296.2 38.2 L295.3 36.4 L294.4 34.7 L293.5 33 L292.5 31.3 L291.6 29.7 L290.7 28.1 L289.8 26.7 L288.9 26 L287.9 25.6 L287 25.1 L286.1 24.7 L286.1 24.7 L287 28.6 L287.9 31.4 L288.9 33.9 L289.8 36.4 L290.7 38.8 L291.6 41.1 L292.5 43.4 L293.5 45.7 L294.4 48 L295.3 50.2 L296.2 52.4 L297.1 54.6 L298 56.8 L299 59 L299.9 61.2 L300.8 63.3 L301.7 65.5 L302.6 67.6 L303.6 69.7 L304.5 71.8 L305.4 73.9 L306.3 76 L307.2 78.1 L308.2 80.2 L309.1 82.3 L310 84.3 L310.9 86.4 L311.8 88.4 L312.7 90.5 L313.7 92.5 L314.6 94.5 L315.5 96.5 L316.4 98.5 L317.3 100.5 L318.3 102.4 L319.2 104.4 L320.1 106.4 L321 108.3 L321.9 110.2 L322.9 112.1 L323.8 114 L324.7 115.8 L325.6 117.7 L326.5 119.5 L327.4 121.2 L328.4 122.9 L329.3 124.5 L330.2 125.6 L331.1 126.1ZM481.6 122.1 L480.8 114.1 L480 110.7 L479.2 107.7 L478.4 104.9 L477.6 102.2 L476.8 99.7 L476 97.2 L475.2 94.8 L474.4 92.5 L473.6 90.1 L472.7 87.8 L471.9 85.6 L471.1 83.3 L470.3 81.1 L469.5 78.9 L468.7 76.8 L467.9 74.6 L467.1 72.5 L466.3 70.3 L465.5 68.2 L464.7 66.1 L463.8 64.1 L463 62 L462.2 60 L461.4 57.9 L460.6 55.9 L459.8 53.9 L459 51.9 L458.2 49.9 L457.4 48 L456.6 46 L455.7 44.1 L454.9 42.2 L454.1 40.3 L453.3 38.4 L452.5 36.6 L451.7 34.8 L450.9 33 L450.1 31.2 L449.2 29.4 L448.4 27.7 L447.6 26.1 L446.8 25.1 L446 24.6 L445.2 24.2 L444.4 23.8 L443.5 23.4 L442.7 22.9 L441.9 22.5 L441.9 22.5 L442.7 32.9 L443.5 37 L444.3 40.4 L445.1 43.5 L445.9 46.3 L446.7 49.1 L447.5 51.7 L448.3 54.3 L449.1 56.8 L449.9 59.3 L450.7 61.7 L451.5 64 L452.3 66.3 L453.2 68.6 L454 70.9 L454.8 73.1 L455.6 75.3 L456.4 77.5 L457.2 79.7 L458 81.8 L458.8 83.9 L459.6 86 L460.4 88.1 L461.2 90.1 L462.1 92.2 L462.9 94.2 L463.7 96.2 L464.5 98.2 L465.3 100.1 L466.1 102 L466.9 103.9 L467.7 105.8 L468.5 107.7 L469.4 109.5 L470.2 111.3 L471 113.1 L471.8 114.8 L472.6 116.5 L473.4 117.8 L474.2 118.2 L475.1 118.7 L475.9 119.1 L476.7 119.5 L477.5 120 L478.3 120.4 L479.1 120.8 L480 121.2 L480.8 121.7 L481.6 122.1ZM610.8 122 L610 117.8 L609.2 114.7 L608.4 111.8 L607.6 109.1 L606.8 106.4 L606 103.9 L605.2 101.4 L604.4 98.9 L603.7 96.5 L602.9 94.2 L602.1 91.8 L601.3 89.5 L600.5 87.2 L599.7 85 L598.9 82.8 L598.1 80.6 L597.3 78.4 L596.5 76.2 L595.7 74.1 L594.9 72 L594.1 69.9 L593.3 67.8 L592.5 65.8 L591.7 63.7 L591 61.7 L590.2 59.7 L589.4 57.8 L588.6 55.8 L587.8 53.9 L587 52 L586.2 50.1 L585.4 48.3 L584.6 46.4 L583.8 44.6 L583 42.8 L582.2 41 L581.4 39.3 L580.6 37.6 L579.8 35.9 L579 34.3 L578.3 32.7 L577.5 31.1 L576.7 29.6 L575.9 28.1 L575.1 26.7 L574.3 25.5 L573.5 24.5 L572.7 24 L571.9 23.6 L571.9 23.6 L572.7 27.8 L573.5 30.9 L574.3 33.8 L575.1 36.5 L575.9 39.2 L576.7 41.7 L577.5 44.2 L578.3 46.7 L579 49.1 L579.8 51.4 L580.6 53.8 L581.4 56.1 L582.2 58.4 L583 60.6 L583.8 62.8 L584.6 65 L585.4 67.2 L586.2 69.4 L587 71.5 L587.8 73.6 L588.6 75.7 L589.4 77.8 L590.2 79.8 L591 81.9 L591.7 83.9 L592.5 85.9 L593.3 87.8 L594.1 89.8 L594.9 91.7 L595.7 93.6 L596.5 95.5 L597.3 97.3 L598.1 99.2 L598.9 101 L599.7 102.8 L600.5 104.6 L601.3 106.3 L602.1 108 L602.9 109.7 L603.7 111.3 L604.4 112.9 L605.2 114.5 L606 116 L606.8 117.5 L607.6 118.9 L608.4 120.1 L609.2 121.1 L610 121.6 L610.8 122Z" fill="#0072bd" mask="url(#mI)"/>
<path d="M75.2 125 L74.5 119.5 L73.8 116 L73 112.7 L72.3 109.7 L71.6 106.8 L70.9 103.9 L70.1 101.2 L69.4 98.5 L68.7 95.8 L68 93.2 L67.2 90.6 L66.5 88 L65.8 85.5 L65.1 83 L64.3 80.5 L63.6 78.1 L62.9 75.7 L62.2 73.3 L61.4 70.9 L60.7 68.5 L60 66.2 L59.3 63.9 L58.5 61.6 L57.8 59.3 L57.1 57 L56.3 54.8 L55.6 52.5 L54.9 50.3 L54.2 48.1 L53.4 46 L52.7 43.8 L52 41.7 L51.3 39.6 L50.5 37.5 L49.8 35.5 L49.1 33.4 L48.4 31.4 L47.6 29.5 L46.9 27.5 L46.2 25.6 L45.4 23.8 L44.7 22 L44 20.2 L43.3 18.5 L42.5 16.9 L41.8 15.5 L41.1 15 L40.3 14.6 L39.6 14.1 L39.6 14.1 L40.3 19.6 L41 23.1 L41.8 26.4 L42.5 29.4 L43.2 32.3 L43.9 35.2 L44.7 37.9 L45.4 40.6 L46.1 43.3 L46.8 45.9 L47.6 48.5 L48.3 51.1 L49 53.6 L49.7 56.1 L50.5 58.6 L51.2 61 L51.9 63.4 L52.6 65.8 L53.4 68.2 L54.1 70.6 L54.8 72.9 L55.5 75.2 L56.3 77.5 L57 79.8 L57.7 82.1 L58.5 84.3 L59.2 86.6 L59.9 88.8 L60.6 91 L61.4 93.1 L62.1 95.3 L62.8 97.4 L63.5 99.5 L64.3 101.6 L65 103.6 L65.7 105.7 L66.4 107.7 L67.2 109.6 L67.9 111.6 L68.6 113.5 L69.4 115.3 L70.1 117.1 L70.8 118.9 L71.5 120.6 L72.3 122.2 L73 123.6 L73.7 124.1 L74.5 124.5 L75.2 125ZM213.8 119.8 L212.9 109.5 L212.1 105.7 L211.3 102.5 L210.4 99.5 L209.6 96.8 L208.8 94.2 L208 91.6 L207.1 89.2 L206.3 86.8 L205.5 84.4 L204.7 82.1 L203.9 79.8 L203 77.5 L202.2 75.3 L201.4 73.1 L200.6 70.9 L199.8 68.8 L199 66.6 L198.1 64.5 L197.3 62.4 L196.5 60.3 L195.7 58.3 L194.9 56.2 L194 54.2 L193.2 52.2 L192.4 50.2 L191.6 48.2 L190.8 46.2 L190 44.2 L189.1 42.3 L188.3 40.4 L187.5 38.5 L186.7 36.6 L185.9 34.7 L185.1 32.8 L184.2 31 L183.4 29.2 L182.6 27.4 L181.8 25.7 L181 23.9 L180.2 22.2 L179.4 20.6 L178.5 19 L177.7 17.5 L176.9 16 L176.1 15 L175.3 14.5 L174.5 14.1 L173.7 13.6 L173.7 13.6 L174.5 19.5 L175.4 23.2 L176.2 26.5 L177 29.6 L177.9 32.6 L178.7 35.6 L179.5 38.4 L180.3 41.2 L181.2 43.9 L182 46.6 L182.8 49.2 L183.6 51.8 L184.4 54.4 L185.3 57 L186.1 59.5 L186.9 62.1 L187.7 64.5 L188.6 67 L189.4 69.5 L190.2 71.9 L191 74.3 L191.8 76.7 L192.7 79.1 L193.5 81.5 L194.3 83.8 L195.1 86.1 L195.9 88.4 L196.8 90.7 L197.6 93 L198.4 95.2 L199.2 97.4 L200 99.6 L200.8 101.8 L201.7 104 L202.5 106.1 L203.3 108.2 L204.1 110.3 L204.9 112.3 L205.8 114.3 L206.6 115.6 L207.4 116.1 L208.2 116.6 L209 117 L209.8 117.5 L210.6 117.9 L211.4 118.4 L212.2 118.9 L213 119.3 L213.8 119.8ZM355.1 114.9 L354.2 107.4 L353.3 103.5 L352.4 100.1 L351.4 96.9 L350.5 93.9 L349.6 91 L348.7 88.3 L347.8 85.6 L346.9 83 L345.9 80.4 L345 77.9 L344.1 75.5 L343.2 73 L342.3 70.7 L341.3 68.3 L340.4 66 L339.5 63.7 L338.6 61.5 L337.7 59.3 L336.7 57.1 L335.8 54.9 L334.9 52.7 L334 50.6 L333.1 48.5 L332.2 46.5 L331.2 44.4 L330.3 42.4 L329.4 40.4 L328.5 38.4 L327.6 36.5 L326.6 34.6 L325.7 32.7 L324.8 30.8 L323.9 29 L323 27.2 L322 25.5 L321.1 23.7 L320.2 22.1 L319.3 20.4 L318.4 18.9 L317.5 17.3 L316.5 16.5 L315.6 16.1 L314.7 15.7 L313.8 15.2 L312.9 14.8 L311.9 14.4 L311 13.9 L310.1 13.5 L310.1 13.5 L311 17.2 L311.9 19.8 L312.9 22.3 L313.8 24.7 L314.7 27 L315.6 29.3 L316.5 31.6 L317.5 33.9 L318.4 36.1 L319.3 38.3 L320.2 40.5 L321.1 42.7 L322 44.9 L323 47 L323.9 49.2 L324.8 51.3 L325.7 53.5 L326.6 55.6 L327.6 57.7 L328.5 59.8 L329.4 61.9 L330.3 64 L331.2 66.1 L332.2 68.2 L333.1 70.2 L334 72.3 L334.9 74.3 L335.8 76.4 L336.7 78.4 L337.7 80.5 L338.6 82.5 L339.5 84.5 L340.4 86.5 L341.3 88.5 L342.3 90.5 L343.2 92.5 L344.1 94.4 L345 96.4 L345.9 98.3 L346.9 100.2 L347.8 102.1 L348.7 104 L349.6 105.9 L350.5 107.7 L351.4 109.5 L352.4 111.3 L353.3 112.9 L354.2 114.4 L355.1 114.9ZM500.9 112.1 L500.1 103.8 L499.3 100.2 L498.5 97.2 L497.7 94.3 L496.9 91.7 L496.1 89.1 L495.3 86.6 L494.5 84.2 L493.7 81.8 L492.9 79.4 L492.1 77.1 L491.2 74.9 L490.4 72.6 L489.6 70.4 L488.8 68.2 L488 66 L487.2 63.8 L486.4 61.7 L485.6 59.6 L484.8 57.5 L484 55.4 L483.1 53.3 L482.3 51.2 L481.5 49.2 L480.7 47.1 L479.9 45.1 L479.1 43.1 L478.3 41.1 L477.5 39.2 L476.7 37.2 L475.9 35.3 L475 33.3 L474.2 31.4 L473.4 29.6 L472.6 27.7 L471.8 25.9 L471 24 L470.2 22.3 L469.4 20.5 L468.6 18.8 L467.7 17.1 L466.9 15.5 L466.1 15.1 L465.3 14.6 L464.5 14.2 L463.7 13.8 L462.8 13.4 L462 12.9 L461.2 12.5 L461.2 12.5 L462 21.5 L462.8 25.3 L463.6 28.4 L464.4 31.3 L465.2 34.1 L466 36.7 L466.8 39.2 L467.6 41.7 L468.4 44.1 L469.2 46.5 L470 48.9 L470.8 51.2 L471.7 53.4 L472.5 55.7 L473.3 57.9 L474.1 60.1 L474.9 62.3 L475.7 64.4 L476.5 66.6 L477.3 68.7 L478.1 70.8 L478.9 72.9 L479.8 75 L480.6 77 L481.4 79 L482.2 81.1 L483 83 L483.8 85 L484.6 87 L485.4 88.9 L486.2 90.9 L487 92.8 L487.9 94.7 L488.7 96.5 L489.5 98.4 L490.3 100.2 L491.1 102 L491.9 103.7 L492.7 105.5 L493.5 107.2 L494.4 108.7 L495.2 109.1 L496 109.5 L496.8 110 L497.6 110.4 L498.4 110.8 L499.3 111.2 L500.1 111.7 L500.9 112.1ZM630.6 111.8 L629.8 107.6 L629 104.5 L628.2 101.6 L627.4 98.9 L626.6 96.2 L625.8 93.7 L625 91.2 L624.2 88.7 L623.5 86.3 L622.7 84 L621.9 81.6 L621.1 79.3 L620.3 77 L619.5 74.8 L618.7 72.6 L617.9 70.4 L617.1 68.2 L616.3 66 L615.5 63.9 L614.7 61.8 L613.9 59.7 L613.1 57.6 L612.3 55.6 L611.5 53.5 L610.8 51.5 L610 49.5 L609.2 47.6 L608.4 45.6 L607.6 43.7 L606.8 41.8 L606 39.9 L605.2 38.1 L604.4 36.2 L603.6 34.4 L602.8 32.6 L602 30.8 L601.2 29.1 L600.4 27.4 L599.6 25.7 L598.8 24.1 L598.1 22.5 L597.3 20.9 L596.5 19.4 L595.7 17.9 L594.9 16.5 L594.1 15.3 L593.3 14.3 L592.5 13.8 L591.7 13.4 L591.7 13.4 L592.5 17.6 L593.3 20.7 L594.1 23.6 L594.9 26.3 L595.7 29 L596.5 31.5 L597.3 34 L598.1 36.5 L598.8 38.9 L599.6 41.2 L600.4 43.6 L601.2 45.9 L602 48.2 L602.8 50.4 L603.6 52.6 L604.4 54.8 L605.2 57 L606 59.2 L606.8 61.3 L607.6 63.4 L608.4 65.5 L609.2 67.6 L610 69.6 L610.8 71.7 L611.5 73.7 L612.3 75.7 L613.1 77.6 L613.9 79.6 L614.7 81.5 L615.5 83.4 L616.3 85.3 L617.1 87.1 L617.9 89 L618.7 90.8 L619.5 92.6 L620.3 94.4 L621.1 96.1 L621.9 97.8 L622.7 99.5 L623.5 101.1 L624.2 102.7 L625 104.3 L625.8 105.8 L626.6 107.3 L627.4 108.7 L628.2 109.9 L629 110.9 L629.8 111.4 L630.6 111.8Z" fill="#d95319" mask="url(#mI)"/>
<path d="M92.9 114 L92.2 107.8 L91.5 103.9 L90.7 100.5 L90 97.3 L89.3 94.2 L88.6 91.2 L87.8 88.3 L87.1 85.5 L86.4 82.8 L85.7 80 L84.9 77.4 L84.2 74.8 L83.5 72.2 L82.8 69.6 L82 67.1 L81.3 64.6 L80.6 62.2 L79.9 59.7 L79.1 57.3 L78.4 54.9 L77.7 52.6 L77 50.2 L76.2 47.9 L75.5 45.6 L74.8 43.4 L74.1 41.1 L73.3 38.9 L72.6 36.7 L71.9 34.6 L71.2 32.4 L70.4 30.3 L69.7 28.2 L69 26.1 L68.2 24.1 L67.5 22.1 L66.8 20.1 L66.1 18.2 L65.3 16.3 L64.6 14.4 L63.9 12.6 L63.1 10.8 L62.4 9.1 L61.7 7.5 L61 5.9 L60.2 5 L59.5 4.5 L58.8 4 L58 3.6 L57.3 3.1 L57.3 3.1 L58 9.1 L58.7 12.8 L59.5 16.2 L60.2 19.4 L60.9 22.4 L61.6 25.3 L62.4 28.2 L63.1 30.9 L63.8 33.7 L64.5 36.3 L65.3 39 L66 41.6 L66.7 44.2 L67.4 46.7 L68.2 49.2 L68.9 51.7 L69.6 54.1 L70.3 56.5 L71.1 58.9 L71.8 61.3 L72.5 63.7 L73.2 66 L74 68.3 L74.7 70.6 L75.4 72.8 L76.1 75.1 L76.9 77.3 L77.6 79.5 L78.3 81.7 L79.1 83.8 L79.8 86 L80.5 88.1 L81.2 90.1 L82 92.2 L82.7 94.2 L83.4 96.2 L84.1 98.2 L84.9 100.1 L85.6 102 L86.3 103.8 L87.1 105.6 L87.8 107.4 L88.5 109.1 L89.2 110.7 L90 112.1 L90.7 112.6 L91.4 113.1 L92.2 113.5 L92.9 114ZM234 108.7 L233.1 97.5 L232.3 93.4 L231.4 90.1 L230.6 87.1 L229.8 84.3 L229 81.6 L228.1 79 L227.3 76.5 L226.5 74.1 L225.7 71.7 L224.9 69.3 L224 67 L223.2 64.8 L222.4 62.5 L221.6 60.3 L220.8 58.2 L220 56 L219.1 53.9 L218.3 51.8 L217.5 49.7 L216.7 47.6 L215.9 45.5 L215 43.5 L214.2 41.5 L213.4 39.5 L212.6 37.5 L211.8 35.5 L211 33.6 L210.1 31.6 L209.3 29.7 L208.5 27.8 L207.7 25.9 L206.9 24.1 L206.1 22.3 L205.3 20.4 L204.4 18.6 L203.6 16.9 L202.8 15.1 L202 13.4 L201.2 11.8 L200.4 10.1 L199.6 8.5 L198.7 7 L197.9 5.5 L197.1 4.4 L196.3 3.9 L195.5 3.4 L194.7 3 L193.9 2.5 L193.9 2.5 L194.7 7.8 L195.6 11.3 L196.4 14.5 L197.2 17.4 L198.1 20.3 L198.9 23.1 L199.7 25.8 L200.5 28.5 L201.3 31.2 L202.2 33.8 L203 36.4 L203.8 38.9 L204.6 41.4 L205.5 43.9 L206.3 46.4 L207.1 48.9 L207.9 51.3 L208.7 53.8 L209.6 56.2 L210.4 58.6 L211.2 60.9 L212 63.3 L212.8 65.6 L213.7 68 L214.5 70.3 L215.3 72.6 L216.1 74.9 L216.9 77.1 L217.8 79.4 L218.6 81.6 L219.4 83.8 L220.2 86 L221 88.2 L221.8 90.4 L222.7 92.5 L223.5 94.6 L224.3 96.7 L225.1 98.7 L225.9 100.8 L226.7 102.7 L227.6 104.7 L228.4 105.5 L229.2 105.9 L230 106.4 L230.8 106.8 L231.6 107.3 L232.4 107.8 L233.2 108.2 L234 108.7ZM379.1 103.7 L378.2 98.4 L377.3 95.2 L376.4 92.3 L375.4 89.6 L374.5 87 L373.6 84.4 L372.7 81.9 L371.8 79.5 L370.9 77.1 L369.9 74.7 L369 72.4 L368.1 70.1 L367.2 67.8 L366.3 65.6 L365.3 63.3 L364.4 61.1 L363.5 58.9 L362.6 56.7 L361.7 54.6 L360.7 52.4 L359.8 50.3 L358.9 48.2 L358 46.1 L357.1 44 L356.2 41.9 L355.2 39.9 L354.3 37.8 L353.4 35.8 L352.5 33.8 L351.6 31.8 L350.6 29.8 L349.7 27.9 L348.8 25.9 L347.9 24 L347 22.1 L346 20.2 L345.1 18.4 L344.2 16.5 L343.3 14.7 L342.4 13 L341.5 11.2 L340.5 9.5 L339.6 7.9 L338.7 6.3 L337.8 4.7 L336.9 3.6 L335.9 3.2 L335 2.7 L334.1 2.3 L334.1 2.3 L335 6.1 L335.9 8.8 L336.9 11.3 L337.8 13.7 L338.7 16.1 L339.6 18.4 L340.5 20.7 L341.5 23 L342.4 25.2 L343.3 27.5 L344.2 29.7 L345.1 31.9 L346 34 L347 36.2 L347.9 38.4 L348.8 40.5 L349.7 42.7 L350.6 44.8 L351.6 46.9 L352.5 49 L353.4 51.1 L354.3 53.2 L355.2 55.3 L356.2 57.4 L357.1 59.4 L358 61.5 L358.9 63.6 L359.8 65.6 L360.7 67.6 L361.7 69.7 L362.6 71.7 L363.5 73.7 L364.4 75.7 L365.3 77.7 L366.3 79.7 L367.2 81.6 L368.1 83.6 L369 85.5 L369.9 87.5 L370.9 89.4 L371.8 91.3 L372.7 93.1 L373.6 95 L374.5 96.8 L375.4 98.6 L376.4 100.3 L377.3 101.9 L378.2 103.2 L379.1 103.7ZM520.2 102.1 L519.4 92.4 L518.6 88.5 L517.8 85.2 L517 82.2 L516.2 79.4 L515.4 76.7 L514.6 74.1 L513.8 71.6 L513 69.1 L512.2 66.7 L511.4 64.3 L510.6 62 L509.7 59.7 L508.9 57.4 L508.1 55.2 L507.3 53 L506.5 50.8 L505.7 48.6 L504.9 46.5 L504.1 44.3 L503.3 42.2 L502.5 40.1 L501.7 38.1 L500.8 36 L500 34 L499.2 32 L498.4 30 L497.6 28 L496.8 26 L496 24.1 L495.2 22.2 L494.4 20.3 L493.5 18.4 L492.7 16.6 L491.9 14.8 L491.1 13 L490.3 11.2 L489.5 9.5 L488.7 7.8 L487.9 6.4 L487 5.9 L486.2 5.5 L485.4 5.1 L484.6 4.6 L483.8 4.2 L483 3.8 L482.1 3.4 L481.3 2.9 L480.5 2.5 L480.5 2.5 L481.3 11.2 L482.1 14.8 L482.9 17.9 L483.7 20.8 L484.5 23.5 L485.3 26.1 L486.1 28.6 L486.9 31.1 L487.7 33.5 L488.5 35.8 L489.3 38.2 L490.2 40.5 L491 42.7 L491.8 45 L492.6 47.2 L493.4 49.4 L494.2 51.5 L495 53.7 L495.8 55.8 L496.6 57.9 L497.4 60 L498.2 62.1 L499.1 64.2 L499.9 66.2 L500.7 68.2 L501.5 70.3 L502.3 72.3 L503.1 74.3 L503.9 76.2 L504.7 78.2 L505.5 80.1 L506.4 82 L507.2 83.9 L508 85.8 L508.8 87.6 L509.6 89.5 L510.4 91.3 L511.2 93 L512 94.8 L512.8 96.5 L513.7 98.1 L514.5 99.1 L515.3 99.5 L516.1 100 L516.9 100.4 L517.7 100.8 L518.6 101.2 L519.4 101.7 L520.2 102.1ZM650.4 101.6 L649.6 97 L648.8 93.8 L648 90.8 L647.2 87.9 L646.4 85.2 L645.6 82.6 L644.8 80 L644 77.5 L643.3 75 L642.5 72.6 L641.7 70.2 L640.9 67.8 L640.1 65.5 L639.3 63.2 L638.5 60.9 L637.7 58.7 L636.9 56.5 L636.1 54.3 L635.3 52.2 L634.5 50.1 L633.7 48 L632.9 45.9 L632.1 43.8 L631.3 41.8 L630.6 39.8 L629.8 37.8 L629 35.8 L628.2 33.9 L627.4 32 L626.6 30.1 L625.8 28.2 L625 26.4 L624.2 24.6 L623.4 22.8 L622.6 21 L621.8 19.3 L621 17.6 L620.2 15.9 L619.4 14.3 L618.6 12.7 L617.9 11.2 L617.1 9.7 L616.3 8.3 L615.5 6.9 L614.7 5.6 L613.9 4.5 L613.1 4.1 L612.3 3.6 L611.5 3.2 L611.5 3.2 L612.3 7.8 L613.1 11 L613.9 14 L614.7 16.9 L615.5 19.6 L616.3 22.2 L617.1 24.8 L617.9 27.3 L618.6 29.8 L619.4 32.2 L620.2 34.6 L621 37 L621.8 39.3 L622.6 41.6 L623.4 43.9 L624.2 46.1 L625 48.3 L625.8 50.5 L626.6 52.6 L627.4 54.7 L628.2 56.8 L629 58.9 L629.8 61 L630.6 63 L631.3 65 L632.1 67 L632.9 69 L633.7 70.9 L634.5 72.8 L635.3 74.7 L636.1 76.6 L636.9 78.4 L637.7 80.2 L638.5 82 L639.3 83.8 L640.1 85.5 L640.9 87.2 L641.7 88.9 L642.5 90.5 L643.3 92.1 L644 93.6 L644.8 95.1 L645.6 96.5 L646.4 97.9 L647.2 99.2 L648 100.3 L648.8 100.7 L649.6 101.2 L650.4 101.6Z" fill="#edb120" mask="url(#mI)"/>
<path d="M57.5 136 L56.8 131.8 L56.1 128.7 L55.3 125.8 L54.6 123.1 L53.9 120.4 L53.2 117.8 L52.4 115.2 L51.7 112.7 L51 110.2 L50.3 107.7 L49.5 105.2 L48.8 102.8 L48.1 100.4 L47.4 98 L46.6 95.6 L45.9 93.2 L45.2 90.8 L44.4 88.5 L43.7 86.2 L43 83.8 L42.3 81.5 L41.5 79.2 L40.8 76.9 L40.1 74.7 L39.4 72.4 L38.6 70.1 L37.9 67.9 L37.2 65.7 L36.5 63.5 L35.7 61.3 L35 59.1 L34.3 56.9 L33.5 54.7 L32.8 52.6 L32.1 50.4 L31.4 48.3 L30.6 46.2 L29.9 44.1 L29.2 42.1 L28.5 40 L27.7 38 L27 36 L26.3 34.1 L25.5 32.2 L24.8 30.3 L24.1 28.5 L23.4 26.8 L22.6 25.6 L21.9 25.1 L21.9 25.1 L22.6 29.3 L23.3 32.4 L24.1 35.3 L24.8 38 L25.5 40.7 L26.2 43.3 L27 45.9 L27.7 48.4 L28.4 50.9 L29.1 53.4 L29.9 55.9 L30.6 58.3 L31.3 60.7 L32 63.1 L32.8 65.5 L33.5 67.9 L34.2 70.3 L35 72.6 L35.7 74.9 L36.4 77.3 L37.1 79.6 L37.9 81.9 L38.6 84.2 L39.3 86.4 L40 88.7 L40.8 91 L41.5 93.2 L42.2 95.4 L42.9 97.6 L43.7 99.8 L44.4 102 L45.1 104.2 L45.9 106.4 L46.6 108.5 L47.3 110.7 L48 112.8 L48.8 114.9 L49.5 117 L50.2 119 L50.9 121.1 L51.7 123.1 L52.4 125.1 L53.1 127 L53.9 128.9 L54.6 130.8 L55.3 132.6 L56 134.3 L56.8 135.5 L57.5 136ZM193.6 130.9 L192.7 124 L191.9 120.8 L191.1 118 L190.3 115.4 L189.4 112.9 L188.6 110.5 L187.8 108.1 L187 105.7 L186.2 103.4 L185.3 101.1 L184.5 98.9 L183.7 96.7 L182.9 94.4 L182.1 92.2 L181.3 90 L180.4 87.9 L179.6 85.7 L178.8 83.6 L178 81.4 L177.2 79.3 L176.3 77.2 L175.5 75.1 L174.7 73 L173.9 70.9 L173.1 68.8 L172.3 66.7 L171.4 64.7 L170.6 62.6 L169.8 60.6 L169 58.5 L168.2 56.5 L167.4 54.5 L166.5 52.5 L165.7 50.5 L164.9 48.5 L164.1 46.5 L163.3 44.6 L162.5 42.6 L161.6 40.7 L160.8 38.8 L160 36.9 L159.2 35.1 L158.4 33.2 L157.6 31.4 L156.7 29.7 L155.9 28 L155.1 26.4 L154.3 25.2 L153.5 24.7 L153.5 24.7 L154.3 28.7 L155.2 31.7 L156 34.4 L156.8 37.1 L157.6 39.6 L158.4 42.2 L159.3 44.7 L160.1 47.2 L160.9 49.6 L161.7 52 L162.6 54.4 L163.4 56.8 L164.2 59.2 L165 61.6 L165.8 63.9 L166.7 66.3 L167.5 68.6 L168.3 70.9 L169.1 73.2 L169.9 75.5 L170.7 77.8 L171.6 80.1 L172.4 82.4 L173.2 84.6 L174 86.9 L174.8 89.1 L175.7 91.4 L176.5 93.6 L177.3 95.8 L178.1 98 L178.9 100.2 L179.8 102.4 L180.6 104.6 L181.4 106.7 L182.2 108.9 L183 111 L183.8 113.1 L184.7 115.2 L185.5 117.3 L186.3 119.4 L187.1 121.4 L187.9 123.4 L188.8 125.3 L189.6 127.2 L190.4 129 L191.2 129.5 L192 130 L192.8 130.4 L193.6 130.9ZM331.1 126.1 L330.2 122.4 L329.3 119.8 L328.4 117.3 L327.4 114.9 L326.5 112.5 L325.6 110.2 L324.7 108 L323.8 105.7 L322.9 103.5 L321.9 101.3 L321 99.1 L320.1 96.9 L319.2 94.7 L318.3 92.5 L317.3 90.4 L316.4 88.2 L315.5 86.1 L314.6 84 L313.7 81.9 L312.7 79.8 L311.8 77.7 L310.9 75.6 L310 73.5 L309.1 71.4 L308.2 69.3 L307.2 67.3 L306.3 65.2 L305.4 63.2 L304.5 61.1 L303.6 59.1 L302.6 57.1 L301.7 55.1 L300.8 53.1 L299.9 51.1 L299 49.1 L298 47.1 L297.1 45.2 L296.2 43.2 L295.3 41.3 L294.4 39.3 L293.5 37.4 L292.5 35.5 L291.6 33.7 L290.7 31.9 L289.8 30.1 L288.9 28.3 L287.9 26.7 L287 25.2 L286.1 24.7 L286.1 24.7 L287 28.2 L287.9 30.8 L288.9 33.3 L289.8 35.6 L290.7 38 L291.6 40.3 L292.5 42.5 L293.5 44.8 L294.4 47 L295.3 49.2 L296.2 51.4 L297.1 53.5 L298 55.7 L299 57.9 L299.9 60 L300.8 62.1 L301.7 64.3 L302.6 66.4 L303.6 68.5 L304.5 70.6 L305.4 72.7 L306.3 74.8 L307.2 76.9 L308.2 78.9 L309.1 81 L310 83.1 L310.9 85.1 L311.8 87.2 L312.7 89.2 L313.7 91.3 L314.6 93.3 L315.5 95.3 L316.4 97.3 L317.3 99.3 L318.3 101.3 L319.2 103.3 L320.1 105.3 L321 107.2 L321.9 109.2 L322.9 111.1 L323.8 113 L324.7 114.9 L325.6 116.8 L326.5 118.7 L327.4 120.5 L328.4 122.2 L329.3 123.9 L330.2 125.5 L331.1 126.1ZM481.6 122.1 L480.8 117.6 L480 115 L479.2 112.6 L478.4 110.2 L477.6 107.9 L476.8 105.7 L476 103.5 L475.1 101.3 L474.3 99.1 L473.5 97 L472.7 94.8 L471.9 92.7 L471.1 90.6 L470.3 88.5 L469.5 86.4 L468.7 84.3 L467.9 82.2 L467 80.1 L466.2 78.1 L465.4 76 L464.6 73.9 L463.8 71.9 L463 69.9 L462.2 67.8 L461.4 65.8 L460.6 63.8 L459.8 61.7 L458.9 59.7 L458.1 57.7 L457.3 55.7 L456.5 53.7 L455.7 51.7 L454.9 49.7 L454.1 47.8 L453.3 45.8 L452.5 43.8 L451.6 41.9 L450.8 40 L450 38 L449.2 36.1 L448.4 34.2 L447.6 32.4 L446.8 30.5 L446 28.7 L445.2 26.9 L444.3 25.2 L443.5 23.5 L442.7 22.9 L441.9 22.5 L441.9 22.5 L442.7 27.7 L443.5 30.5 L444.3 33 L445.1 35.4 L445.9 37.8 L446.7 40.1 L447.5 42.4 L448.4 44.6 L449.2 46.8 L450 49 L450.8 51.2 L451.6 53.3 L452.4 55.5 L453.2 57.6 L454 59.7 L454.8 61.8 L455.6 63.9 L456.4 66 L457.3 68.1 L458.1 70.1 L458.9 72.2 L459.7 74.3 L460.5 76.3 L461.3 78.4 L462.1 80.4 L462.9 82.4 L463.7 84.4 L464.5 86.4 L465.4 88.4 L466.2 90.4 L467 92.4 L467.8 94.4 L468.6 96.4 L469.4 98.3 L470.2 100.3 L471 102.2 L471.8 104.1 L472.7 106 L473.5 107.9 L474.3 109.8 L475.1 111.7 L475.9 113.5 L476.7 115.3 L477.5 117.1 L478.3 118.8 L479.1 120.4 L480 121.2 L480.8 121.7 L481.6 122.1ZM610.8 122 L610 118.3 L609.2 115.4 L608.4 112.8 L607.6 110.2 L606.8 107.7 L606 105.3 L605.2 102.9 L604.4 100.5 L603.7 98.2 L602.9 95.9 L602.1 93.7 L601.3 91.4 L600.5 89.2 L599.7 87 L598.9 84.9 L598.1 82.7 L597.3 80.6 L596.5 78.4 L595.7 76.3 L594.9 74.3 L594.1 72.2 L593.3 70.1 L592.5 68.1 L591.7 66.1 L591 64.1 L590.2 62.1 L589.4 60.1 L588.6 58.1 L587.8 56.2 L587 54.3 L586.2 52.3 L585.4 50.4 L584.6 48.6 L583.8 46.7 L583 44.9 L582.2 43 L581.4 41.2 L580.6 39.5 L579.8 37.7 L579 36 L578.3 34.3 L577.5 32.6 L576.7 31 L575.9 29.4 L575.1 27.9 L574.3 26.4 L573.5 25.1 L572.7 24 L571.9 23.6 L571.9 23.6 L572.7 27.3 L573.5 30.2 L574.3 32.8 L575.1 35.4 L575.9 37.9 L576.7 40.3 L577.5 42.7 L578.3 45.1 L579 47.4 L579.8 49.7 L580.6 51.9 L581.4 54.2 L582.2 56.4 L583 58.6 L583.8 60.7 L584.6 62.9 L585.4 65 L586.2 67.2 L587 69.3 L587.8 71.3 L588.6 73.4 L589.4 75.5 L590.2 77.5 L591 79.5 L591.7 81.5 L592.5 83.5 L593.3 85.5 L594.1 87.5 L594.9 89.4 L595.7 91.3 L596.5 93.3 L597.3 95.2 L598.1 97 L598.9 98.9 L599.7 100.7 L600.5 102.6 L601.3 104.4 L602.1 106.1 L602.9 107.9 L603.7 109.6 L604.4 111.3 L605.2 113 L606 114.6 L606.8 116.2 L607.6 117.7 L608.4 119.2 L609.2 120.5 L610 121.6 L610.8 122Z" fill="#0072bd" mask="url(#mC)"/>
<path d="M75.2 125 L74.5 120.5 L73.8 117.3 L73 114.4 L72.3 111.6 L71.6 108.9 L70.9 106.2 L70.1 103.6 L69.4 101.1 L68.7 98.5 L68 96 L67.2 93.5 L66.5 91 L65.8 88.6 L65.1 86.2 L64.3 83.8 L63.6 81.4 L62.9 79 L62.1 76.6 L61.4 74.3 L60.7 72 L60 69.7 L59.2 67.3 L58.5 65.1 L57.8 62.8 L57.1 60.5 L56.3 58.3 L55.6 56 L54.9 53.8 L54.2 51.6 L53.4 49.4 L52.7 47.2 L52 45.1 L51.2 42.9 L50.5 40.8 L49.8 38.6 L49.1 36.5 L48.3 34.5 L47.6 32.4 L46.9 30.4 L46.2 28.3 L45.4 26.4 L44.7 24.4 L44 22.5 L43.2 20.6 L42.5 18.8 L41.8 17.1 L41.1 15.5 L40.3 14.6 L39.6 14.1 L39.6 14.1 L40.3 18.6 L41 21.8 L41.8 24.7 L42.5 27.5 L43.2 30.2 L43.9 32.9 L44.7 35.5 L45.4 38 L46.1 40.6 L46.8 43.1 L47.6 45.6 L48.3 48.1 L49 50.5 L49.7 52.9 L50.5 55.3 L51.2 57.7 L51.9 60.1 L52.7 62.5 L53.4 64.8 L54.1 67.1 L54.8 69.4 L55.6 71.8 L56.3 74 L57 76.3 L57.7 78.6 L58.5 80.8 L59.2 83.1 L59.9 85.3 L60.6 87.5 L61.4 89.7 L62.1 91.9 L62.8 94 L63.6 96.2 L64.3 98.3 L65 100.5 L65.7 102.6 L66.5 104.6 L67.2 106.7 L67.9 108.7 L68.6 110.8 L69.4 112.7 L70.1 114.7 L70.8 116.6 L71.6 118.5 L72.3 120.3 L73 122 L73.7 123.6 L74.5 124.5 L75.2 125ZM213.8 119.8 L212.9 111.9 L212.1 108.6 L211.3 105.6 L210.5 102.9 L209.6 100.4 L208.8 97.9 L208 95.5 L207.2 93.1 L206.4 90.7 L205.5 88.4 L204.7 86.2 L203.9 83.9 L203.1 81.7 L202.3 79.5 L201.4 77.3 L200.6 75.1 L199.8 72.9 L199 70.8 L198.2 68.7 L197.3 66.5 L196.5 64.4 L195.7 62.3 L194.9 60.3 L194.1 58.2 L193.3 56.1 L192.4 54.1 L191.6 52 L190.8 50 L190 48 L189.2 46 L188.4 44 L187.5 42 L186.7 40 L185.9 38.1 L185.1 36.1 L184.3 34.2 L183.5 32.3 L182.6 30.4 L181.8 28.5 L181 26.6 L180.2 24.8 L179.4 23 L178.6 21.2 L177.8 19.5 L176.9 17.8 L176.1 16.3 L175.3 14.8 L174.5 14.1 L173.7 13.6 L173.7 13.6 L174.5 18.2 L175.4 21.4 L176.2 24.3 L177 27.1 L177.8 29.8 L178.7 32.4 L179.5 35 L180.3 37.6 L181.1 40.1 L181.9 42.6 L182.8 45.1 L183.6 47.6 L184.4 50 L185.2 52.4 L186 54.8 L186.9 57.2 L187.7 59.6 L188.5 62 L189.3 64.3 L190.1 66.7 L191 69 L191.8 71.3 L192.6 73.6 L193.4 75.9 L194.2 78.2 L195.1 80.5 L195.9 82.7 L196.7 85 L197.5 87.2 L198.3 89.4 L199.2 91.6 L200 93.8 L200.8 96 L201.6 98.1 L202.4 100.3 L203.3 102.4 L204.1 104.5 L204.9 106.6 L205.7 108.6 L206.5 110.6 L207.3 112.6 L208.2 114.6 L209 116.5 L209.8 117.5 L210.6 117.9 L211.4 118.4 L212.2 118.9 L213 119.3 L213.8 119.8ZM355.1 114.9 L354.2 111.5 L353.3 108.9 L352.4 106.5 L351.4 104.2 L350.5 101.9 L349.6 99.6 L348.7 97.4 L347.8 95.1 L346.9 92.9 L345.9 90.7 L345 88.6 L344.1 86.4 L343.2 84.2 L342.3 82.1 L341.3 80 L340.4 77.8 L339.5 75.7 L338.6 73.6 L337.7 71.5 L336.7 69.4 L335.8 67.3 L334.9 65.2 L334 63.1 L333.1 61 L332.2 59 L331.2 56.9 L330.3 54.9 L329.4 52.8 L328.5 50.8 L327.6 48.7 L326.6 46.7 L325.7 44.7 L324.8 42.7 L323.9 40.7 L323 38.7 L322 36.7 L321.1 34.7 L320.2 32.7 L319.3 30.8 L318.4 28.8 L317.5 26.9 L316.5 25 L315.6 23.1 L314.7 21.2 L313.8 19.3 L312.9 17.6 L311.9 15.8 L311 14.2 L310.1 13.5 L310.1 13.5 L311 16.8 L311.9 19.3 L312.9 21.6 L313.8 24 L314.7 26.2 L315.6 28.5 L316.5 30.7 L317.5 32.9 L318.4 35.1 L319.3 37.3 L320.2 39.5 L321.1 41.6 L322 43.8 L323 45.9 L323.9 48 L324.8 50.1 L325.7 52.3 L326.6 54.4 L327.6 56.5 L328.5 58.6 L329.4 60.7 L330.3 62.8 L331.2 64.8 L332.2 66.9 L333.1 69 L334 71 L334.9 73.1 L335.8 75.2 L336.7 77.2 L337.7 79.2 L338.6 81.3 L339.5 83.3 L340.4 85.3 L341.3 87.3 L342.3 89.3 L343.2 91.3 L344.1 93.3 L345 95.3 L345.9 97.3 L346.9 99.2 L347.8 101.2 L348.7 103.1 L349.6 105 L350.5 106.9 L351.4 108.8 L352.4 110.6 L353.3 112.4 L354.2 114 L355.1 114.9ZM355.1 114.9 L354.2 107.2 L353.3 103.1 L352.4 99.6 L351.4 96.4 L350.5 93.4 L349.6 90.5 L348.7 87.7 L347.8 85 L346.9 82.3 L345.9 79.7 L345 77.2 L344.1 74.7 L343.2 72.3 L342.3 69.9 L341.3 67.5 L340.4 65.2 L339.5 62.9 L338.6 60.7 L337.7 58.4 L336.7 56.2 L335.8 54.1 L334.9 51.9 L334 49.8 L333.1 47.7 L332.2 45.6 L331.2 43.6 L330.3 41.6 L329.4 39.6 L328.5 37.6 L327.6 35.7 L326.6 33.8 L325.7 31.9 L324.8 30.1 L323.9 28.2 L323 26.5 L322 24.7 L321.1 23 L320.2 21.4 L319.3 19.7 L318.4 18.2 L317.5 17 L316.5 16.5 L315.6 16.1 L314.7 15.7 L313.8 15.2 L312.9 14.8 L311.9 14.4 L311 13.9 L310.1 13.5 L310.1 13.5 L311 13.9 L311.9 14.4 L312.9 14.8 L313.8 15.2 L314.7 15.7 L315.6 16.2 L316.5 17.7 L317.5 19.2 L318.4 20.8 L319.3 22.5 L320.2 24.2 L321.1 25.9 L322 27.7 L323 29.5 L323.9 31.3 L324.8 33.2 L325.7 35.1 L326.6 37 L327.6 38.9 L328.5 40.9 L329.4 42.9 L330.3 44.9 L331.2 46.9 L332.2 49 L333.1 51 L334 53.1 L334.9 55.2 L335.8 57.4 L336.7 59.5 L337.7 61.7 L338.6 63.9 L339.5 66.1 L340.4 68.4 L341.3 70.7 L342.3 73 L343.2 75.3 L344.1 77.7 L345 80.1 L345.9 82.5 L346.9 85 L347.8 87.5 L348.7 90.1 L349.6 92.8 L350.5 95.5 L351.4 98.3 L352.4 101.3 L353.3 104.6 L354.2 108.3 L355.1 114.9ZM500.9 112.1 L500.1 105.9 L499.3 102.8 L498.5 100.1 L497.7 97.6 L496.9 95.1 L496.1 92.7 L495.3 90.4 L494.5 88.1 L493.6 85.8 L492.8 83.6 L492 81.3 L491.2 79.1 L490.4 77 L489.6 74.8 L488.8 72.7 L488 70.5 L487.2 68.4 L486.4 66.3 L485.6 64.2 L484.7 62.1 L483.9 60 L483.1 58 L482.3 55.9 L481.5 53.9 L480.7 51.9 L479.9 49.8 L479.1 47.8 L478.3 45.8 L477.5 43.8 L476.6 41.8 L475.8 39.9 L475 37.9 L474.2 36 L473.4 34 L472.6 32.1 L471.8 30.2 L471 28.3 L470.2 26.5 L469.3 24.6 L468.5 22.8 L467.7 21 L466.9 19.2 L466.1 17.5 L465.3 15.8 L464.5 14.2 L463.7 13.8 L462.8 13.4 L462 12.9 L461.2 12.5 L461.2 12.5 L462 19.1 L462.8 22.2 L463.6 25 L464.4 27.6 L465.2 30.1 L466 32.5 L466.8 34.9 L467.6 37.2 L468.4 39.5 L469.3 41.7 L470.1 44 L470.9 46.2 L471.7 48.4 L472.5 50.5 L473.3 52.7 L474.1 54.8 L474.9 57 L475.7 59.1 L476.5 61.2 L477.4 63.3 L478.2 65.3 L479 67.4 L479.8 69.5 L480.6 71.5 L481.4 73.5 L482.2 75.6 L483 77.6 L483.8 79.6 L484.6 81.6 L485.5 83.5 L486.3 85.5 L487.1 87.4 L487.9 89.4 L488.7 91.3 L489.5 93.2 L490.3 95.1 L491.1 97 L491.9 98.8 L492.8 100.7 L493.6 102.5 L494.4 104.3 L495.2 106 L496 107.7 L496.8 109.3 L497.6 110.4 L498.4 110.8 L499.3 111.2 L500.1 111.7 L500.9 112.1ZM630.6 111.8 L629.8 108.1 L629 105.2 L628.2 102.6 L627.4 100 L626.6 97.5 L625.8 95.1 L625 92.7 L624.2 90.3 L623.5 88 L622.7 85.7 L621.9 83.5 L621.1 81.2 L620.3 79 L619.5 76.8 L618.7 74.7 L617.9 72.5 L617.1 70.4 L616.3 68.2 L615.5 66.1 L614.7 64.1 L613.9 62 L613.1 59.9 L612.3 57.9 L611.5 55.9 L610.8 53.9 L610 51.9 L609.2 49.9 L608.4 47.9 L607.6 46 L606.8 44.1 L606 42.1 L605.2 40.2 L604.4 38.4 L603.6 36.5 L602.8 34.7 L602 32.8 L601.2 31 L600.4 29.3 L599.6 27.5 L598.8 25.8 L598.1 24.1 L597.3 22.4 L596.5 20.8 L595.7 19.2 L594.9 17.7 L594.1 16.2 L593.3 14.9 L592.5 13.8 L591.7 13.4 L591.7 13.4 L592.5 17.1 L593.3 20 L594.1 22.6 L594.9 25.2 L595.7 27.7 L596.5 30.1 L597.3 32.5 L598.1 34.9 L598.8 37.2 L599.6 39.5 L600.4 41.7 L601.2 44 L602 46.2 L602.8 48.4 L603.6 50.5 L604.4 52.7 L605.2 54.8 L606 57 L606.8 59.1 L607.6 61.1 L608.4 63.2 L609.2 65.3 L610 67.3 L610.8 69.3 L611.5 71.3 L612.3 73.3 L613.1 75.3 L613.9 77.3 L614.7 79.2 L615.5 81.1 L616.3 83.1 L617.1 85 L617.9 86.8 L618.7 88.7 L619.5 90.5 L620.3 92.4 L621.1 94.2 L621.9 95.9 L622.7 97.7 L623.5 99.4 L624.2 101.1 L625 102.8 L625.8 104.4 L626.6 106 L627.4 107.5 L628.2 109 L629 110.3 L629.8 111.4 L630.6 111.8Z" fill="#d95319" mask="url(#mC)"/>
<path d="M92.9 114 L92.2 109.3 L91.5 106 L90.7 103 L90 100.1 L89.3 97.4 L88.6 94.7 L87.8 92 L87.1 89.4 L86.4 86.8 L85.7 84.3 L84.9 81.8 L84.2 79.3 L83.5 76.8 L82.8 74.4 L82 72 L81.3 69.6 L80.6 67.2 L79.9 64.8 L79.1 62.4 L78.4 60.1 L77.7 57.8 L76.9 55.5 L76.2 53.2 L75.5 50.9 L74.8 48.6 L74 46.4 L73.3 44.2 L72.6 41.9 L71.9 39.7 L71.1 37.5 L70.4 35.4 L69.7 33.2 L69 31.1 L68.2 29 L67.5 26.9 L66.8 24.8 L66 22.7 L65.3 20.7 L64.6 18.7 L63.9 16.7 L63.1 14.7 L62.4 12.8 L61.7 10.9 L61 9.1 L60.2 7.3 L59.5 5.7 L58.8 4.2 L58 3.6 L57.3 3.1 L57.3 3.1 L58 7.8 L58.7 11.1 L59.5 14.1 L60.2 17 L60.9 19.7 L61.6 22.4 L62.4 25.1 L63.1 27.7 L63.8 30.3 L64.5 32.8 L65.3 35.3 L66 37.8 L66.7 40.3 L67.4 42.7 L68.2 45.1 L68.9 47.5 L69.6 49.9 L70.3 52.3 L71.1 54.7 L71.8 57 L72.5 59.3 L73.3 61.6 L74 63.9 L74.7 66.2 L75.4 68.5 L76.2 70.7 L76.9 72.9 L77.6 75.2 L78.3 77.4 L79.1 79.6 L79.8 81.7 L80.5 83.9 L81.2 86 L82 88.1 L82.7 90.2 L83.4 92.3 L84.2 94.4 L84.9 96.4 L85.6 98.4 L86.3 100.4 L87.1 102.4 L87.8 104.3 L88.5 106.2 L89.2 108 L90 109.8 L90.7 111.4 L91.4 112.9 L92.2 113.5 L92.9 114ZM234 108.7 L233.1 100.8 L232.3 97.5 L231.5 94.5 L230.7 91.8 L229.8 89.3 L229 86.8 L228.2 84.4 L227.4 82 L226.6 79.6 L225.7 77.3 L224.9 75.1 L224.1 72.8 L223.3 70.6 L222.5 68.4 L221.6 66.2 L220.8 64 L220 61.8 L219.2 59.7 L218.4 57.6 L217.5 55.4 L216.7 53.3 L215.9 51.2 L215.1 49.2 L214.3 47.1 L213.5 45 L212.6 43 L211.8 40.9 L211 38.9 L210.2 36.9 L209.4 34.9 L208.6 32.9 L207.7 30.9 L206.9 28.9 L206.1 27 L205.3 25 L204.5 23.1 L203.7 21.2 L202.8 19.3 L202 17.4 L201.2 15.5 L200.4 13.7 L199.6 11.9 L198.8 10.1 L198 8.4 L197.1 6.7 L196.3 5.2 L195.5 3.7 L194.7 3 L193.9 2.5 L193.9 2.5 L194.7 6.7 L195.6 9.7 L196.4 12.5 L197.2 15.2 L198 17.9 L198.9 20.4 L199.7 23 L200.5 25.5 L201.3 27.9 L202.1 30.4 L203 32.8 L203.8 35.2 L204.6 37.6 L205.4 40 L206.2 42.4 L207.1 44.8 L207.9 47.1 L208.7 49.4 L209.5 51.8 L210.3 54.1 L211.2 56.4 L212 58.7 L212.8 61 L213.6 63.2 L214.4 65.5 L215.3 67.7 L216.1 70 L216.9 72.2 L217.7 74.4 L218.5 76.6 L219.3 78.8 L220.2 81 L221 83.2 L221.8 85.4 L222.6 87.5 L223.4 89.6 L224.3 91.8 L225.1 93.8 L225.9 95.9 L226.7 98 L227.5 100 L228.3 101.9 L229.2 103.9 L230 105.7 L230.8 106.8 L231.6 107.3 L232.4 107.8 L233.2 108.2 L234 108.7ZM379.1 103.7 L378.2 100.1 L377.3 97.5 L376.4 95.1 L375.4 92.7 L374.5 90.4 L373.6 88.1 L372.7 85.9 L371.8 83.6 L370.9 81.4 L369.9 79.2 L369 77 L368.1 74.8 L367.2 72.7 L366.3 70.5 L365.3 68.4 L364.4 66.2 L363.5 64.1 L362.6 62 L361.7 59.9 L360.7 57.8 L359.8 55.7 L358.9 53.6 L358 51.5 L357.1 49.4 L356.2 47.4 L355.2 45.3 L354.3 43.2 L353.4 41.2 L352.5 39.2 L351.6 37.1 L350.6 35.1 L349.7 33.1 L348.8 31.1 L347.9 29.1 L347 27.1 L346 25.1 L345.1 23.1 L344.2 21.2 L343.3 19.2 L342.4 17.3 L341.5 15.4 L340.5 13.5 L339.6 11.6 L338.7 9.7 L337.8 7.9 L336.9 6.1 L335.9 4.4 L335 2.9 L334.1 2.3 L334.1 2.3 L335 5.7 L335.9 8.3 L336.9 10.7 L337.8 13 L338.7 15.3 L339.6 17.6 L340.5 19.8 L341.5 22 L342.4 24.2 L343.3 26.4 L344.2 28.6 L345.1 30.8 L346 32.9 L347 35.1 L347.9 37.2 L348.8 39.3 L349.7 41.5 L350.6 43.6 L351.6 45.7 L352.5 47.8 L353.4 49.9 L354.3 52 L355.2 54.1 L356.2 56.1 L357.1 58.2 L358 60.3 L358.9 62.3 L359.8 64.4 L360.7 66.4 L361.7 68.4 L362.6 70.5 L363.5 72.5 L364.4 74.5 L365.3 76.5 L366.3 78.5 L367.2 80.5 L368.1 82.5 L369 84.5 L369.9 86.4 L370.9 88.4 L371.8 90.3 L372.7 92.2 L373.6 94.1 L374.5 96 L375.4 97.8 L376.4 99.6 L377.3 101.4 L378.2 102.9 L379.1 103.7ZM520.2 102.1 L519.4 98.3 L518.6 95.9 L517.8 93.5 L517 91.3 L516.2 89.1 L515.4 86.9 L514.5 84.7 L513.7 82.6 L512.9 80.5 L512.1 78.3 L511.3 76.2 L510.5 74.1 L509.7 72 L508.9 70 L508.1 67.9 L507.3 65.8 L506.4 63.7 L505.6 61.7 L504.8 59.6 L504 57.6 L503.2 55.5 L502.4 53.5 L501.6 51.4 L500.8 49.4 L500 47.4 L499.2 45.3 L498.3 43.3 L497.5 41.3 L496.7 39.3 L495.9 37.3 L495.1 35.2 L494.3 33.2 L493.5 31.3 L492.7 29.3 L491.9 27.3 L491.1 25.3 L490.2 23.3 L489.4 21.4 L488.6 19.4 L487.8 17.5 L487 15.5 L486.2 13.6 L485.4 11.7 L484.6 9.8 L483.8 8 L482.9 6.1 L482.1 4.4 L481.3 2.9 L480.5 2.5 L480.5 2.5 L481.3 6.3 L482.1 8.7 L482.9 11.1 L483.7 13.3 L484.5 15.5 L485.3 17.7 L486.2 19.9 L487 22 L487.8 24.1 L488.6 26.3 L489.4 28.4 L490.2 30.5 L491 32.6 L491.8 34.6 L492.6 36.7 L493.4 38.8 L494.3 40.9 L495.1 42.9 L495.9 45 L496.7 47 L497.5 49.1 L498.3 51.1 L499.1 53.2 L499.9 55.2 L500.7 57.2 L501.5 59.3 L502.4 61.3 L503.2 63.3 L504 65.3 L504.8 67.3 L505.6 69.4 L506.4 71.4 L507.2 73.3 L508 75.3 L508.8 77.3 L509.6 79.3 L510.5 81.3 L511.3 83.2 L512.1 85.2 L512.9 87.1 L513.7 89.1 L514.5 91 L515.3 92.9 L516.1 94.8 L516.9 96.6 L517.8 98.5 L518.6 100.2 L519.4 101.7 L520.2 102.1ZM650.4 101.6 L649.6 97.6 L648.8 94.5 L648 91.7 L647.2 89.1 L646.4 86.5 L645.6 84 L644.8 81.5 L644 79.1 L643.3 76.7 L642.5 74.3 L641.7 72 L640.9 69.8 L640.1 67.5 L639.3 65.3 L638.5 63.1 L637.7 60.9 L636.9 58.7 L636.1 56.6 L635.3 54.4 L634.5 52.3 L633.7 50.3 L632.9 48.2 L632.1 46.1 L631.3 44.1 L630.6 42.1 L629.8 40.1 L629 38.1 L628.2 36.2 L627.4 34.3 L626.6 32.4 L625.8 30.5 L625 28.6 L624.2 26.7 L623.4 24.9 L622.6 23.1 L621.8 21.3 L621 19.5 L620.2 17.8 L619.4 16.1 L618.6 14.4 L617.9 12.8 L617.1 11.2 L616.3 9.7 L615.5 8.2 L614.7 6.7 L613.9 5.4 L613.1 4.2 L612.3 3.6 L611.5 3.2 L611.5 3.2 L612.3 7.2 L613.1 10.3 L613.9 13.1 L614.7 15.7 L615.5 18.3 L616.3 20.8 L617.1 23.3 L617.9 25.7 L618.6 28.1 L619.4 30.5 L620.2 32.8 L621 35 L621.8 37.3 L622.6 39.5 L623.4 41.7 L624.2 43.9 L625 46.1 L625.8 48.2 L626.6 50.4 L627.4 52.5 L628.2 54.5 L629 56.6 L629.8 58.7 L630.6 60.7 L631.3 62.7 L632.1 64.7 L632.9 66.7 L633.7 68.6 L634.5 70.5 L635.3 72.4 L636.1 74.3 L636.9 76.2 L637.7 78.1 L638.5 79.9 L639.3 81.7 L640.1 83.5 L640.9 85.3 L641.7 87 L642.5 88.7 L643.3 90.4 L644 92 L644.8 93.6 L645.6 95.1 L646.4 96.6 L647.2 98.1 L648 99.4 L648.8 100.6 L649.6 101.2 L650.4 101.6Z" fill="#edb120" mask="url(#mC)"/>
<path d="M21.9 25.1L21.6 112.9" stroke="#c4c4c4" stroke-width="0.6" fill="none"/>
<path d="M21.6 112.9L57.5 136L92.9 114" stroke="#3c3c3c" stroke-width="0.55" fill="none"/>
<path d="M21.9 26l1.1 -0.7M21.8 43.7l1.1 -0.7M21.8 60.8l1.1 -0.7M21.7 78.3l1.1 -0.7M21.7 95.7l1.1 -0.7M21.6 112.9l1.1 -0.7" stroke="#3c3c3c" stroke-width="0.5" fill="none"/>
<path d="M153.5 24.7L154.2 108.2" stroke="#c4c4c4" stroke-width="0.6" fill="none"/>
<path d="M154.2 108.2L193.6 130.9L234 108.7" stroke="#3c3c3c" stroke-width="0.55" fill="none"/>
<path d="M153.5 25.2l1.1 -0.6M153.6 42l1.1 -0.6M153.8 58.7l1.1 -0.6M153.9 74.6l1.1 -0.6M154.1 92.7l1.1 -0.6" stroke="#3c3c3c" stroke-width="0.5" fill="none"/>
<path d="M286.1 24.7L286.1 108.2" stroke="#c4c4c4" stroke-width="0.6" fill="none"/>
<path d="M286.1 108.2L333 130.3L381 107.9" stroke="#3c3c3c" stroke-width="0.55" fill="none"/>
<path d="M286.1 25.8l1.2 -0.5M286.1 47l1.2 -0.5M286.1 67.8l1.2 -0.5M286.1 89.6l1.2 -0.5" stroke="#3c3c3c" stroke-width="0.5" fill="none"/>
<path d="M441.9 22.5L441.5 101.1" stroke="#c4c4c4" stroke-width="0.6" fill="none"/>
<path d="M441.5 101.1L481.6 122.1L520.2 102.1" stroke="#3c3c3c" stroke-width="0.55" fill="none"/>
<path d="M441.9 23.6l1.2 -0.6M441.8 39.4l1.2 -0.6M441.7 54.7l1.2 -0.6M441.7 70.5l1.2 -0.6M441.6 86.2l1.2 -0.6M441.5 101.1l1.2 -0.6" stroke="#3c3c3c" stroke-width="0.5" fill="none"/>
<path d="M571.9 23.6L571.9 101" stroke="#c4c4c4" stroke-width="0.6" fill="none"/>
<path d="M571.9 101L610.8 122L650.4 101.6" stroke="#3c3c3c" stroke-width="0.55" fill="none"/>
<path d="M571.9 25.8l1.2 -0.6M571.9 44.4l1.2 -0.6M571.9 63.5l1.2 -0.6M571.9 82.4l1.2 -0.6M571.9 100.5l1.2 -0.6" stroke="#3c3c3c" stroke-width="0.5" fill="none"/>
<path d="M23 281.9L61 259.9M99 283.4L61 259.9M23 264.6L61 242.6M99 266.1L61 242.6M22.9 247.3L60.9 225.3M98.9 248.8L60.9 225.3M22.9 230L60.9 208M98.9 231.5L60.9 208M22.8 212.7L60.8 190.7M98.8 214.2L60.8 190.7M22.8 195.4L60.8 173.4M98.8 196.9L60.8 173.4M99 283.4L98.8 196.9M61 305.4L99 283.4M80 271.6L79.8 185.2M42 293.6L80 271.6M61 259.9L60.8 173.4M23 281.9L61 259.9M23 281.9L22.8 195.4M61 305.4L23 281.9M42 270.9L41.8 184.4M80 294.4L42 270.9M61 259.9L60.8 173.4M99 283.4L61 259.9" stroke="#ebebeb" stroke-width="0.5" fill="none"/>
<path d="M60.8 173.4 L98.8 196.9 L99 283.4 L61 259.9Z" fill="#edb120" mask="url(#mP)"/>
<path d="M41.8 184.4 L79.8 207.9 L80 294.4 L42 270.9Z" fill="#d95319" mask="url(#mP)"/>
<path d="M22.8 195.4 L60.8 218.9 L61 305.4 L23 281.9Z" fill="#0072bd" mask="url(#mP)"/>
<path d="M22.8 195.4L23 281.9" stroke="#c4c4c4" stroke-width="0.6" fill="none"/>
<path d="M23 281.9L61 305.4L99 283.4" stroke="#3c3c3c" stroke-width="0.55" fill="none"/>
<path d="M22.8 196.6l1.1 -0.7M22.8 214.1l1.1 -0.7M22.9 231.6l1.1 -0.7M22.9 247.8l1.1 -0.7M23 265.1l1.1 -0.7M23 281.9l1.1 -0.7" stroke="#3c3c3c" stroke-width="0.5" fill="none"/>
<path d="M154 289.3L196.2 265.9M237.9 290.2L196.2 265.9M153.9 270.8L196.1 247.4M237.8 271.7L196.1 247.4M153.9 252.4L196.1 229M237.8 253.3L196.1 229M153.8 233.9L196 210.5M237.7 234.8L196 210.5M153.8 215.5L196 192.1M237.7 216.4L196 192.1M153.7 197L195.9 173.6M237.6 197.9L195.9 173.6M237.9 290.2L237.6 197.9M195.7 313.6L237.9 290.2M217.1 278.1L216.8 185.8M174.8 301.5L217.1 278.1M196.2 265.9L195.9 173.6M154 289.3L196.2 265.9M154 289.3L153.7 197M195.7 313.6L154 289.3M175.1 277.6L174.8 185.3M216.8 301.9L175.1 277.6M196.2 265.9L195.9 173.6M237.9 290.2L196.2 265.9" stroke="#ebebeb" stroke-width="0.5" fill="none"/>
<path d="M195.9 173.6 L237.6 197.9 L237.9 290.2 L196.2 265.9Z" fill="#edb120" mask="url(#mP)"/>
<path d="M174.8 185.3 L216.5 209.6 L216.8 301.9 L175.1 277.6Z" fill="#d95319" mask="url(#mP)"/>
<path d="M153.7 197 L195.4 221.3 L195.7 313.6 L154 289.3Z" fill="#0072bd" mask="url(#mP)"/>
<path d="M153.7 197L154 289.3" stroke="#c4c4c4" stroke-width="0.6" fill="none"/>
<path d="M154 289.3L195.7 313.6L237.9 290.2" stroke="#3c3c3c" stroke-width="0.55" fill="none"/>
<path d="M153.7 198.1l1.1 -0.6M153.8 216.3l1.1 -0.6M153.8 234.5l1.1 -0.6M153.9 253.2l1.1 -0.6M153.9 271.1l1.1 -0.6M154 289.3l1.1 -0.6" stroke="#3c3c3c" stroke-width="0.5" fill="none"/>
<path d="M286.8 290L337 266.2M388.4 290.1L337 266.2M286.8 271.4L337 247.6M388.4 271.5L337 247.6M286.8 252.8L337 229M388.4 252.9L337 229M286.9 234.2L337.1 210.4M388.5 234.3L337.1 210.4M286.9 215.6L337.1 191.8M388.5 215.7L337.1 191.8M286.9 197L337.1 173.2M388.5 197.1L337.1 173.2M388.4 290.1L388.5 197.1M338.2 313.9L388.4 290.1M362.7 278.1L362.8 185.1M312.5 301.9L362.7 278.1M337 266.2L337.1 173.2M286.8 290L337 266.2M286.8 290L286.9 197M338.2 313.9L286.8 290M311.9 278.1L312 185.1M363.3 302L311.9 278.1M337 266.2L337.1 173.2M388.4 290.1L337 266.2" stroke="#ebebeb" stroke-width="0.5" fill="none"/>
<path d="M337.1 173.2 L388.5 197.1 L388.4 290.1 L337 266.2Z" fill="#edb120" mask="url(#mP)"/>
<path d="M312 185.1 L363.4 209 L363.3 302 L311.9 278.1Z" fill="#d95319" mask="url(#mP)"/>
<path d="M286.9 197 L338.3 220.9 L338.2 313.9 L286.8 290Z" fill="#0072bd" mask="url(#mP)"/>
<path d="M286.9 197L286.8 290" stroke="#c4c4c4" stroke-width="0.6" fill="none"/>
<path d="M286.8 290L338.2 313.9L388.4 290.1" stroke="#3c3c3c" stroke-width="0.55" fill="none"/>
<path d="M286.9 198.1l1.2 -0.6M286.9 216.3l1.2 -0.6M286.9 234.5l1.2 -0.6M286.8 253.2l1.2 -0.6M286.8 271.6l1.2 -0.6M286.8 289.3l1.2 -0.6" stroke="#3c3c3c" stroke-width="0.5" fill="none"/>
<path d="M442.4 282L481.4 259.8M520.5 283.3L481.4 259.8M442.3 264.7L481.3 242.5M520.4 266L481.3 242.5M442.2 247.4L481.2 225.2M520.3 248.7L481.2 225.2M442.2 230L481.2 207.8M520.3 231.3L481.2 207.8M442.1 212.7L481.1 190.5M520.2 214L481.1 190.5M442 195.4L481 173.2M520.1 196.7L481 173.2M520.5 283.3L520.1 196.7M481.5 305.5L520.5 283.3M500.9 271.6L500.6 185M461.9 293.8L500.9 271.6M481.4 259.8L481 173.2M442.4 282L481.4 259.8M442.4 282L442 195.4M481.5 305.5L442.4 282M461.9 270.9L461.5 184.3M501 294.4L461.9 270.9M481.4 259.8L481 173.2M520.5 283.3L481.4 259.8" stroke="#ebebeb" stroke-width="0.5" fill="none"/>
<path d="M481 173.2 L520.1 196.7 L520.5 283.3 L481.4 259.8Z" fill="#edb120" mask="url(#mP)"/>
<path d="M461.5 184.3 L500.6 207.8 L501 294.4 L461.9 270.9Z" fill="#d95319" mask="url(#mP)"/>
<path d="M442 195.4 L481.1 218.9 L481.5 305.5 L442.4 282Z" fill="#0072bd" mask="url(#mP)"/>
<path d="M442 195.4L442.4 282" stroke="#c4c4c4" stroke-width="0.6" fill="none"/>
<path d="M442.4 282L481.5 305.5L520.5 283.3" stroke="#3c3c3c" stroke-width="0.55" fill="none"/>
<path d="M442 196.5l1.1 -0.6M442.1 214l1.1 -0.6M442.2 231l1.1 -0.6M442.2 247.7l1.1 -0.6M442.3 265.1l1.1 -0.6M442.4 282l1.1 -0.6" stroke="#3c3c3c" stroke-width="0.5" fill="none"/>
<path d="M572.3 279.2L612.9 257.6M653.3 279.9L612.9 257.6M572.2 262.3L612.8 240.7M653.2 263L612.8 240.7M572.2 245.4L612.8 223.8M653.2 246.1L612.8 223.8M572.1 228.5L612.7 206.9M653.1 229.2L612.7 206.9M572.1 211.6L612.7 190M653.1 212.3L612.7 190M572 194.7L612.6 173.1M653 195.4L612.6 173.1M653.3 279.9L653 195.4M612.7 301.5L653.3 279.9M633.1 268.8L632.8 184.3M592.5 290.4L633.1 268.8M612.9 257.6L612.6 173.1M572.3 279.2L612.9 257.6M572.3 279.2L572 194.7M612.7 301.5L572.3 279.2M592.6 268.4L592.3 183.9M633 290.7L592.6 268.4M612.9 257.6L612.6 173.1M653.3 279.9L612.9 257.6" stroke="#ebebeb" stroke-width="0.5" fill="none"/>
<path d="M612.6 173.1 L653 195.4 L653.3 279.9 L612.9 257.6Z" fill="#edb120" mask="url(#mP)"/>
<path d="M592.3 183.9 L632.7 206.2 L633 290.7 L592.6 268.4Z" fill="#d95319" mask="url(#mP)"/>
<path d="M572 194.7 L612.4 217 L612.7 301.5 L572.3 279.2Z" fill="#0072bd" mask="url(#mP)"/>
<path d="M572 194.7L572.3 279.2" stroke="#c4c4c4" stroke-width="0.6" fill="none"/>
<path d="M572.3 279.2L612.7 301.5L653.3 279.9" stroke="#3c3c3c" stroke-width="0.55" fill="none"/>
<path d="M572 195.8l1.1 -0.6M572.1 212.9l1.1 -0.6M572.1 229.2l1.1 -0.6M572.2 245.8l1.1 -0.6M572.2 262.4l1.1 -0.6M572.3 279.2l1.1 -0.6" stroke="#3c3c3c" stroke-width="0.5" fill="none"/>
<g class="tg"><text x="13.9" y="28.8" font-size="7.8" textLength="6.2" lengthAdjust="spacingAndGlyphs" class="t">250</text><text x="13.9" y="46.5" font-size="7.8" textLength="6.2" lengthAdjust="spacingAndGlyphs" class="t">200</text><text x="13.9" y="63.6" font-size="7.8" textLength="6.2" lengthAdjust="spacingAndGlyphs" class="t">150</text><text x="13.9" y="81.1" font-size="7.8" textLength="6.2" lengthAdjust="spacingAndGlyphs" class="t">100</text><text x="15.9" y="98.5" font-size="7.8" textLength="4.2" lengthAdjust="spacingAndGlyphs" class="t">50</text><text x="18" y="115.7" font-size="7.8" textLength="2.1" lengthAdjust="spacingAndGlyphs" class="t">0</text><text x="20.7" y="128.1" font-size="7.8" textLength="6.2" lengthAdjust="spacingAndGlyphs" class="t">200</text><text x="34.9" y="136.7" font-size="7.8" textLength="6.2" lengthAdjust="spacingAndGlyphs" class="t">100</text><text x="53.3" y="144.3" font-size="7.8" textLength="2.1" lengthAdjust="spacingAndGlyphs" class="t">0</text><text x="19" y="150.3" font-size="8.2" textLength="19" lengthAdjust="spacingAndGlyphs" class="t">Pixel Value</text><text x="59.9" y="145.5" font-size="7.8" textLength="15.3" lengthAdjust="spacingAndGlyphs" class="t">Horizontal</text><text x="77.4" y="134.1" font-size="7.8" textLength="12" lengthAdjust="spacingAndGlyphs" class="t">Vertical</text><text x="94.9" y="123.1" font-size="7.8" textLength="14.2" lengthAdjust="spacingAndGlyphs" class="t">Diagonal</text><text x="87.2" y="150.4" font-size="8.2" textLength="28" lengthAdjust="spacingAndGlyphs" class="t">Correlation Type</text><text transform="translate(11.8,89.6) rotate(-90)" x="0" y="0" font-size="5.9" textLength="45.3" lengthAdjust="spacingAndGlyphs" class="t2">Adjacent Pixel</text><text x="144.2" y="28" font-size="7.8" textLength="7" lengthAdjust="spacingAndGlyphs" class="t">250</text><text x="144.2" y="44.8" font-size="7.8" textLength="7" lengthAdjust="spacingAndGlyphs" class="t">200</text><text x="144.2" y="61.5" font-size="7.8" textLength="7" lengthAdjust="spacingAndGlyphs" class="t">150</text><text x="144.2" y="77.4" font-size="7.8" textLength="7" lengthAdjust="spacingAndGlyphs" class="t">100</text><text x="146.6" y="95.5" font-size="7.8" textLength="4.6" lengthAdjust="spacingAndGlyphs" class="t">50</text><text x="145.4" y="118.2" font-size="7.8" textLength="7" lengthAdjust="spacingAndGlyphs" class="t">250</text><text x="152.5" y="123" font-size="7.8" textLength="7" lengthAdjust="spacingAndGlyphs" class="t">200</text><text x="161" y="127.8" font-size="7.8" textLength="7" lengthAdjust="spacingAndGlyphs" class="t">150</text><text x="169.3" y="131.3" font-size="7.8" textLength="7" lengthAdjust="spacingAndGlyphs" class="t">100</text><text x="178.9" y="135.4" font-size="7.8" textLength="4.6" lengthAdjust="spacingAndGlyphs" class="t">50</text><text x="150" y="144.6" font-size="8.2" textLength="20.4" lengthAdjust="spacingAndGlyphs" class="t">Pixel Value</text><text x="196" y="140" font-size="7.8" textLength="17.8" lengthAdjust="spacingAndGlyphs" class="t">Horizontal</text><text x="215.7" y="128.8" font-size="7.8" textLength="13.6" lengthAdjust="spacingAndGlyphs" class="t">Vertical</text><text x="235.7" y="117.6" font-size="7.8" textLength="16.3" lengthAdjust="spacingAndGlyphs" class="t">Diagonal</text><text x="227" y="144.4" font-size="8.2" textLength="32" lengthAdjust="spacingAndGlyphs" class="t">Correlation Type</text><text transform="translate(141.9,85.4) rotate(-90)" x="0" y="0" font-size="5.9" textLength="43.4" lengthAdjust="spacingAndGlyphs" class="t2">Adjacent Pixel</text><text x="274.5" y="28.6" font-size="7.8" textLength="8.7" lengthAdjust="spacingAndGlyphs" class="t">250</text><text x="274.5" y="49.8" font-size="7.8" textLength="8.7" lengthAdjust="spacingAndGlyphs" class="t">200</text><text x="274.5" y="70.6" font-size="7.8" textLength="8.7" lengthAdjust="spacingAndGlyphs" class="t">150</text><text x="274.5" y="92.4" font-size="7.8" textLength="8.7" lengthAdjust="spacingAndGlyphs" class="t">100</text><text x="287.2" y="124.1" font-size="7.8" textLength="8.7" lengthAdjust="spacingAndGlyphs" class="t">200</text><text x="311.6" y="135.4" font-size="7.8" textLength="8.7" lengthAdjust="spacingAndGlyphs" class="t">100</text><text x="281.3" y="144.1" font-size="8.2" textLength="25.1" lengthAdjust="spacingAndGlyphs" class="t">Pixel Value</text><text x="336" y="139.6" font-size="7.8" textLength="20.7" lengthAdjust="spacingAndGlyphs" class="t">Horizontal</text><text x="359.8" y="128.8" font-size="7.8" textLength="15.1" lengthAdjust="spacingAndGlyphs" class="t">Vertical</text><text x="383" y="117.7" font-size="7.8" textLength="18.6" lengthAdjust="spacingAndGlyphs" class="t">Diagonal</text><text x="373" y="144.5" font-size="8.2" textLength="37" lengthAdjust="spacingAndGlyphs" class="t">Correlation Type</text><text transform="translate(272.6,91.4) rotate(-90)" x="0" y="0" font-size="5.9" textLength="48.9" lengthAdjust="spacingAndGlyphs" class="t2">Adjacent Pixel</text><text x="432.9" y="26.4" font-size="7.8" textLength="6.6" lengthAdjust="spacingAndGlyphs" class="t">250</text><text x="432.9" y="42.2" font-size="7.8" textLength="6.6" lengthAdjust="spacingAndGlyphs" class="t">200</text><text x="432.9" y="57.5" font-size="7.8" textLength="6.6" lengthAdjust="spacingAndGlyphs" class="t">150</text><text x="432.9" y="73.3" font-size="7.8" textLength="6.6" lengthAdjust="spacingAndGlyphs" class="t">100</text><text x="435.1" y="89" font-size="7.8" textLength="4.4" lengthAdjust="spacingAndGlyphs" class="t">50</text><text x="437.3" y="103.9" font-size="7.8" textLength="2.2" lengthAdjust="spacingAndGlyphs" class="t">0</text><text x="440.6" y="115.3" font-size="7.8" textLength="6.6" lengthAdjust="spacingAndGlyphs" class="t">200</text><text x="457.3" y="123" font-size="7.8" textLength="6.6" lengthAdjust="spacingAndGlyphs" class="t">100</text><text x="476.2" y="130.9" font-size="7.8" textLength="2.2" lengthAdjust="spacingAndGlyphs" class="t">0</text><text x="438" y="135.5" font-size="8.2" textLength="21.4" lengthAdjust="spacingAndGlyphs" class="t">Pixel Value</text><text x="484.3" y="130.6" font-size="7.8" textLength="16.7" lengthAdjust="spacingAndGlyphs" class="t">Horizontal</text><text x="502.7" y="120.6" font-size="7.8" textLength="13.1" lengthAdjust="spacingAndGlyphs" class="t">Vertical</text><text x="523" y="110.3" font-size="7.8" textLength="15" lengthAdjust="spacingAndGlyphs" class="t">Diagonal</text><text x="514" y="135.7" font-size="8.2" textLength="31" lengthAdjust="spacingAndGlyphs" class="t">Correlation Type</text><text transform="translate(430.5,79) rotate(-90)" x="0" y="0" font-size="5.9" textLength="39.1" lengthAdjust="spacingAndGlyphs" class="t2">Adjacent Pixel</text><text x="562.8" y="28.6" font-size="7.8" textLength="6.5" lengthAdjust="spacingAndGlyphs" class="t">200</text><text x="562.8" y="47.2" font-size="7.8" textLength="6.5" lengthAdjust="spacingAndGlyphs" class="t">150</text><text x="562.8" y="66.3" font-size="7.8" textLength="6.5" lengthAdjust="spacingAndGlyphs" class="t">100</text><text x="565" y="85.2" font-size="7.8" textLength="4.3" lengthAdjust="spacingAndGlyphs" class="t">50</text><text x="567.1" y="103.3" font-size="7.8" textLength="2.2" lengthAdjust="spacingAndGlyphs" class="t">0</text><text x="564.6" y="110.9" font-size="7.8" textLength="6.5" lengthAdjust="spacingAndGlyphs" class="t">200</text><text x="583.7" y="121.7" font-size="7.8" textLength="6.5" lengthAdjust="spacingAndGlyphs" class="t">100</text><text x="606.1" y="130.7" font-size="7.8" textLength="2.2" lengthAdjust="spacingAndGlyphs" class="t">0</text><text x="567.9" y="135.4" font-size="8.2" textLength="21.4" lengthAdjust="spacingAndGlyphs" class="t">Pixel Value</text><text x="614.3" y="130.6" font-size="7.8" textLength="16.7" lengthAdjust="spacingAndGlyphs" class="t">Horizontal</text><text x="633.2" y="120.6" font-size="7.8" textLength="13.1" lengthAdjust="spacingAndGlyphs" class="t">Vertical</text><text x="653" y="110.3" font-size="7.8" textLength="15" lengthAdjust="spacingAndGlyphs" class="t">Diagonal</text><text x="644" y="135.7" font-size="8.2" textLength="31" lengthAdjust="spacingAndGlyphs" class="t">Correlation Type</text><text transform="translate(560.8,79) rotate(-90)" x="0" y="0" font-size="5.9" textLength="40.1" lengthAdjust="spacingAndGlyphs" class="t2">Adjacent Pixel</text><text x="13.8" y="199.4" font-size="7.8" textLength="7.2" lengthAdjust="spacingAndGlyphs" class="t">250</text><text x="13.8" y="216.9" font-size="7.8" textLength="7.2" lengthAdjust="spacingAndGlyphs" class="t">200</text><text x="13.8" y="234.4" font-size="7.8" textLength="7.2" lengthAdjust="spacingAndGlyphs" class="t">150</text><text x="13.8" y="250.6" font-size="7.8" textLength="7.2" lengthAdjust="spacingAndGlyphs" class="t">100</text><text x="16.2" y="267.9" font-size="7.8" textLength="4.8" lengthAdjust="spacingAndGlyphs" class="t">50</text><text x="18.6" y="284.7" font-size="7.8" textLength="2.4" lengthAdjust="spacingAndGlyphs" class="t">0</text><text x="22.2" y="297.3" font-size="7.8" textLength="7.2" lengthAdjust="spacingAndGlyphs" class="t">200</text><text x="36.6" y="305.4" font-size="7.8" textLength="7.2" lengthAdjust="spacingAndGlyphs" class="t">100</text><text x="56.3" y="314.1" font-size="7.8" textLength="2.4" lengthAdjust="spacingAndGlyphs" class="t">0</text><text x="19.5" y="319.3" font-size="8.2" textLength="19.5" lengthAdjust="spacingAndGlyphs" class="t">Pixel Value</text><text x="63.8" y="315.1" font-size="7.8" textLength="16.1" lengthAdjust="spacingAndGlyphs" class="t">Horizontal</text><text x="82" y="303.6" font-size="7.8" textLength="12.9" lengthAdjust="spacingAndGlyphs" class="t">Vertical</text><text x="101" y="292.1" font-size="7.8" textLength="15.7" lengthAdjust="spacingAndGlyphs" class="t">Diagonal</text><text x="93" y="319.9" font-size="8.2" textLength="30" lengthAdjust="spacingAndGlyphs" class="t">Correlation Type</text><text transform="translate(12,257.1) rotate(-90)" x="0" y="0" font-size="5.9" textLength="43.2" lengthAdjust="spacingAndGlyphs" class="t2">Adjacent Pixel</text><text x="144.5" y="200.9" font-size="7.8" textLength="7.3" lengthAdjust="spacingAndGlyphs" class="t">250</text><text x="144.5" y="219.1" font-size="7.8" textLength="7.3" lengthAdjust="spacingAndGlyphs" class="t">200</text><text x="144.5" y="237.3" font-size="7.8" textLength="7.3" lengthAdjust="spacingAndGlyphs" class="t">150</text><text x="144.5" y="256" font-size="7.8" textLength="7.3" lengthAdjust="spacingAndGlyphs" class="t">100</text><text x="146.9" y="273.9" font-size="7.8" textLength="4.9" lengthAdjust="spacingAndGlyphs" class="t">50</text><text x="149.4" y="292.1" font-size="7.8" textLength="2.4" lengthAdjust="spacingAndGlyphs" class="t">0</text><text x="153.9" y="305.1" font-size="7.8" textLength="7.3" lengthAdjust="spacingAndGlyphs" class="t">200</text><text x="169.6" y="314.8" font-size="7.8" textLength="7.3" lengthAdjust="spacingAndGlyphs" class="t">100</text><text x="190.9" y="323.5" font-size="7.8" textLength="2.4" lengthAdjust="spacingAndGlyphs" class="t">0</text><text x="150" y="329.1" font-size="8.2" textLength="23.2" lengthAdjust="spacingAndGlyphs" class="t">Pixel Value</text><text x="198.7" y="323.3" font-size="7.8" textLength="18.4" lengthAdjust="spacingAndGlyphs" class="t">Horizontal</text><text x="219.4" y="311.1" font-size="7.8" textLength="13.8" lengthAdjust="spacingAndGlyphs" class="t">Vertical</text><text x="240" y="299.6" font-size="7.8" textLength="16.6" lengthAdjust="spacingAndGlyphs" class="t">Diagonal</text><text x="231" y="328.9" font-size="8.2" textLength="32.7" lengthAdjust="spacingAndGlyphs" class="t">Correlation Type</text><text transform="translate(143,257.6) rotate(-90)" x="0" y="0" font-size="5.9" textLength="44.8" lengthAdjust="spacingAndGlyphs" class="t2">Adjacent Pixel</text><text x="275.5" y="200.9" font-size="7.8" textLength="8.1" lengthAdjust="spacingAndGlyphs" class="t">250</text><text x="275.5" y="219.1" font-size="7.8" textLength="8.1" lengthAdjust="spacingAndGlyphs" class="t">200</text><text x="275.5" y="237.3" font-size="7.8" textLength="8.1" lengthAdjust="spacingAndGlyphs" class="t">150</text><text x="275.5" y="256" font-size="7.8" textLength="8.1" lengthAdjust="spacingAndGlyphs" class="t">100</text><text x="278.2" y="274.4" font-size="7.8" textLength="5.4" lengthAdjust="spacingAndGlyphs" class="t">50</text><text x="280.9" y="292.1" font-size="7.8" textLength="2.7" lengthAdjust="spacingAndGlyphs" class="t">0</text><text x="286.3" y="305" font-size="7.8" textLength="8.1" lengthAdjust="spacingAndGlyphs" class="t">200</text><text x="306.5" y="314.7" font-size="7.8" textLength="8.1" lengthAdjust="spacingAndGlyphs" class="t">100</text><text x="331.6" y="323.4" font-size="7.8" textLength="2.7" lengthAdjust="spacingAndGlyphs" class="t">0</text><text x="282.2" y="329.1" font-size="8.2" textLength="26.9" lengthAdjust="spacingAndGlyphs" class="t">Pixel Value</text><text x="340.8" y="323.4" font-size="7.8" textLength="22.3" lengthAdjust="spacingAndGlyphs" class="t">Horizontal</text><text x="366.1" y="311.2" font-size="7.8" textLength="16.8" lengthAdjust="spacingAndGlyphs" class="t">Vertical</text><text x="391.4" y="299.8" font-size="7.8" textLength="19.6" lengthAdjust="spacingAndGlyphs" class="t">Diagonal</text><text x="380" y="329.1" font-size="8.2" textLength="39.8" lengthAdjust="spacingAndGlyphs" class="t">Correlation Type</text><text transform="translate(273,258.6) rotate(-90)" x="0" y="0" font-size="5.9" textLength="45.8" lengthAdjust="spacingAndGlyphs" class="t2">Adjacent Pixel</text><text x="432.9" y="199.3" font-size="7.8" textLength="6.6" lengthAdjust="spacingAndGlyphs" class="t">250</text><text x="432.9" y="216.8" font-size="7.8" textLength="6.6" lengthAdjust="spacingAndGlyphs" class="t">200</text><text x="432.9" y="233.8" font-size="7.8" textLength="6.6" lengthAdjust="spacingAndGlyphs" class="t">150</text><text x="432.9" y="250.5" font-size="7.8" textLength="6.6" lengthAdjust="spacingAndGlyphs" class="t">100</text><text x="435.1" y="267.9" font-size="7.8" textLength="4.4" lengthAdjust="spacingAndGlyphs" class="t">50</text><text x="437.3" y="284.8" font-size="7.8" textLength="2.2" lengthAdjust="spacingAndGlyphs" class="t">0</text><text x="442.1" y="297.4" font-size="7.8" textLength="6.6" lengthAdjust="spacingAndGlyphs" class="t">200</text><text x="457" y="306" font-size="7.8" textLength="6.6" lengthAdjust="spacingAndGlyphs" class="t">100</text><text x="476.5" y="314.3" font-size="7.8" textLength="2.2" lengthAdjust="spacingAndGlyphs" class="t">0</text><text x="438.4" y="319.9" font-size="8.2" textLength="20.8" lengthAdjust="spacingAndGlyphs" class="t">Pixel Value</text><text x="484.1" y="315.1" font-size="7.8" textLength="16.6" lengthAdjust="spacingAndGlyphs" class="t">Horizontal</text><text x="503" y="303.2" font-size="7.8" textLength="12.7" lengthAdjust="spacingAndGlyphs" class="t">Vertical</text><text x="522.6" y="292.1" font-size="7.8" textLength="15" lengthAdjust="spacingAndGlyphs" class="t">Diagonal</text><text x="514" y="320.1" font-size="8.2" textLength="30.5" lengthAdjust="spacingAndGlyphs" class="t">Correlation Type</text><text transform="translate(431,256.5) rotate(-90)" x="0" y="0" font-size="5.9" textLength="42.6" lengthAdjust="spacingAndGlyphs" class="t2">Adjacent Pixel</text><text x="562.9" y="198.6" font-size="7.8" textLength="6.6" lengthAdjust="spacingAndGlyphs" class="t">250</text><text x="562.9" y="215.7" font-size="7.8" textLength="6.6" lengthAdjust="spacingAndGlyphs" class="t">200</text><text x="562.9" y="232" font-size="7.8" textLength="6.6" lengthAdjust="spacingAndGlyphs" class="t">150</text><text x="562.9" y="248.6" font-size="7.8" textLength="6.6" lengthAdjust="spacingAndGlyphs" class="t">100</text><text x="565.1" y="265.2" font-size="7.8" textLength="4.4" lengthAdjust="spacingAndGlyphs" class="t">50</text><text x="567.3" y="282" font-size="7.8" textLength="2.2" lengthAdjust="spacingAndGlyphs" class="t">0</text><text x="572" y="293.9" font-size="7.8" textLength="6.6" lengthAdjust="spacingAndGlyphs" class="t">200</text><text x="587" y="302" font-size="7.8" textLength="6.6" lengthAdjust="spacingAndGlyphs" class="t">100</text><text x="607.6" y="310.5" font-size="7.8" textLength="2.2" lengthAdjust="spacingAndGlyphs" class="t">0</text><text x="568.4" y="315.2" font-size="8.2" textLength="21.2" lengthAdjust="spacingAndGlyphs" class="t">Pixel Value</text><text x="615" y="310.5" font-size="7.8" textLength="18" lengthAdjust="spacingAndGlyphs" class="t">Horizontal</text><text x="634.8" y="299.2" font-size="7.8" textLength="13.8" lengthAdjust="spacingAndGlyphs" class="t">Vertical</text><text x="654.9" y="288.8" font-size="7.8" textLength="16.1" lengthAdjust="spacingAndGlyphs" class="t">Diagonal</text><text x="646.3" y="315.4" font-size="8.2" textLength="31.6" lengthAdjust="spacingAndGlyphs" class="t">Correlation Type</text><text transform="translate(561,254.4) rotate(-90)" x="0" y="0" font-size="5.9" textLength="42.7" lengthAdjust="spacingAndGlyphs" class="t2">Adjacent Pixel</text></g>
<rect x="0" y="0" width="685" height="1.8" fill="#333"/>
<rect x="0.2" y="0" width="1.8" height="352" fill="#222"/>
<rect x="683" y="0" width="2" height="352" fill="#333"/>
<rect x="0" y="349.9" width="685" height="1.1" fill="#111"/>
<rect x="0" y="153.4" width="685" height="1.5" fill="#111"/>
<rect x="0" y="170.6" width="685" height="1.5" fill="#111"/>
<rect x="0" y="332.2" width="685" height="1.6" fill="#111"/>
<rect x="129.8" y="0" width="1.8" height="352" fill="#111"/>
<rect x="259.6" y="0" width="1.6" height="171.5" fill="#111"/>
<rect x="259.6" y="332.5" width="1.6" height="18" fill="#111"/>
<rect x="419.2" y="0" width="1.7" height="172" fill="#111"/>
<rect x="419.5" y="172" width="1" height="161" fill="#555"/>
<rect x="419.2" y="332.5" width="1.7" height="18" fill="#111"/>
<rect x="548.9" y="0" width="1.7" height="352" fill="#111"/>
<text x="65.8" y="167.8" font-family="Liberation Serif, serif" font-size="14" text-anchor="middle" fill="#111">(a)</text>
<text x="196" y="167.8" font-family="Liberation Serif, serif" font-size="14" text-anchor="middle" fill="#111">(b)</text>
<text x="340.2" y="167.8" font-family="Liberation Serif, serif" font-size="14" text-anchor="middle" fill="#111">(c)</text>
<text x="485" y="167.8" font-family="Liberation Serif, serif" font-size="14" text-anchor="middle" fill="#111">(d)</text>
<text x="617" y="167.8" font-family="Liberation Serif, serif" font-size="14" text-anchor="middle" fill="#111">(e)</text>
<text x="66" y="346.8" font-family="Liberation Serif, serif" font-size="14" text-anchor="middle" fill="#111">(f)</text>
<text x="196" y="346.8" font-family="Liberation Serif, serif" font-size="14" text-anchor="middle" fill="#111">(g)</text>
<text x="340.2" y="346.8" font-family="Liberation Serif, serif" font-size="14" text-anchor="middle" fill="#111">(h)</text>
<text x="485" y="346.8" font-family="Liberation Serif, serif" font-size="14" text-anchor="middle" fill="#111">(i)</text>
<text x="617" y="346.8" font-family="Liberation Serif, serif" font-size="14" text-anchor="middle" fill="#111">(j)</text>
</svg>
</body></html>
